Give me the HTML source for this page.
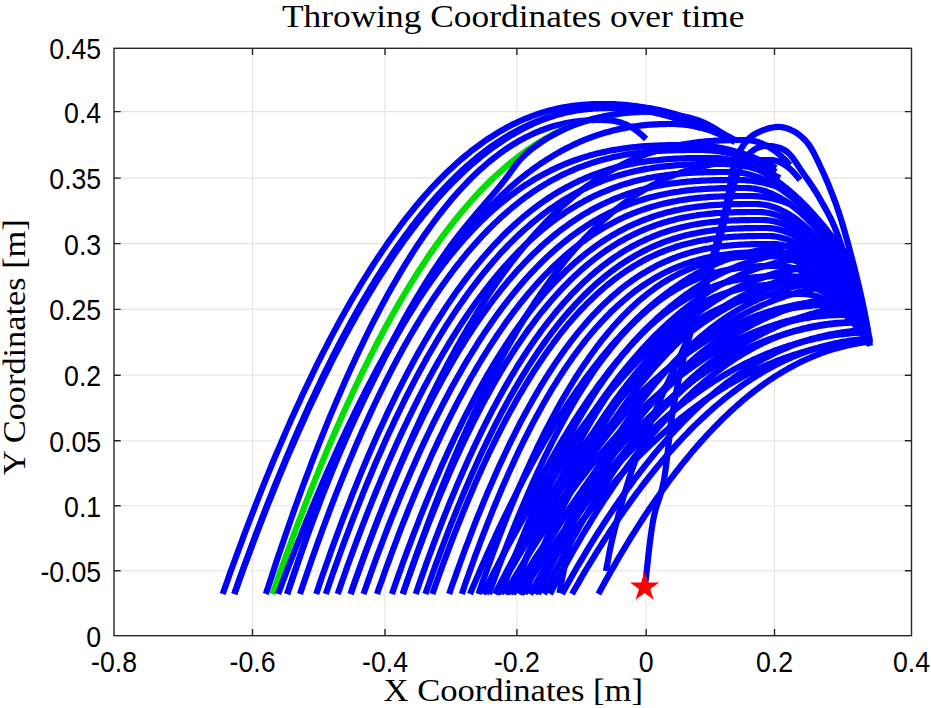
<!DOCTYPE html>
<html><head><meta charset="utf-8"><style>
html,body{margin:0;padding:0;background:#fff;}
svg{display:block;}
</style></head><body>
<svg width="931" height="708" viewBox="0 0 931 708">
<rect width="931" height="708" fill="#fff"/>
<g stroke="#e4e4e7" stroke-width="1.1" fill="none">
<line x1="252.5" y1="48.3" x2="252.5" y2="635.7"/>
<line x1="385.0" y1="48.3" x2="385.0" y2="635.7"/>
<line x1="516.9" y1="48.3" x2="516.9" y2="635.7"/>
<line x1="646.2" y1="48.3" x2="646.2" y2="635.7"/>
<line x1="774.5" y1="48.3" x2="774.5" y2="635.7"/>
<line x1="114.0" y1="111.6" x2="911.5" y2="111.6"/>
<line x1="114.0" y1="178.1" x2="911.5" y2="178.1"/>
<line x1="114.0" y1="243.6" x2="911.5" y2="243.6"/>
<line x1="114.0" y1="309.4" x2="911.5" y2="309.4"/>
<line x1="114.0" y1="375.3" x2="911.5" y2="375.3"/>
<line x1="114.0" y1="440.7" x2="911.5" y2="440.7"/>
<line x1="114.0" y1="505.7" x2="911.5" y2="505.7"/>
<line x1="114.0" y1="570.8" x2="911.5" y2="570.8"/>
</g>
<path d="M265.9 594.0 L268.0 587.5 L270.1 581.1 L272.2 574.7 L274.3 568.3 L276.3 562.0 L278.4 555.8 L280.5 549.6 L282.6 543.4 L284.7 537.3 L286.8 531.3 L288.9 525.3 L291.0 519.3 L293.0 513.4 L295.1 507.5 L297.2 501.7 L299.3 495.9 L301.4 490.2 L303.5 484.5 L305.6 478.9 L307.7 473.3 L309.8 467.8 L311.8 462.3 L313.9 456.9 L316.0 451.5 L318.1 446.2 L320.2 440.9 L322.3 435.6 L324.4 430.4 L326.5 425.3 L328.5 420.2 L330.6 415.1 L332.7 410.1 L334.8 405.2 L336.9 400.2 L339.0 395.4 L341.1 390.5 L343.2 385.8 L345.2 381.0 L347.3 376.4 L349.4 371.7 L351.5 367.1 L353.6 362.6 L355.7 358.1 L357.8 353.6 L359.9 349.2 L362.0 344.9 L364.0 340.5 L366.1 336.3 L368.2 332.0 L370.3 327.9 L372.4 323.7 L374.5 319.6 L376.6 315.6 L378.7 311.6 L380.7 307.6 L382.8 303.7 L384.9 299.9 L387.0 296.0 L389.1 292.3 L391.2 288.5 L393.3 284.9 L395.4 281.2 L397.5 277.6 L399.5 274.1 L401.6 270.6 L403.7 267.1 L405.8 263.7 L407.9 260.3 L410.0 257.0 L412.1 253.7 L414.2 250.4 L416.2 247.2 L418.3 244.1 L420.4 241.0 L422.5 237.9 L424.6 234.8 L426.7 231.9 L428.8 228.9 L430.9 226.0 L432.9 223.2 L435.0 220.3 L437.1 217.6 L439.2 214.8 L441.3 212.2 L443.4 209.5 L445.5 206.9 L447.6 204.3 L449.7 201.8 L451.7 199.3 L453.8 196.9 L455.9 194.5 L458.0 192.1 L460.1 189.8 L462.2 187.6 L464.3 185.3 L466.4 183.1 L468.4 181.0 L470.5 178.9 L472.6 176.8 L474.7 174.8 L476.8 172.8 L478.9 170.8 L481.0 168.9 L483.1 167.1 L485.2 165.2 L487.2 163.4 L489.3 161.7 L491.4 160.0 L493.5 158.3 L495.6 156.7 L497.7 155.1 L499.8 153.5 L501.9 152.0 L503.9 150.5 L506.0 149.1 L508.1 147.7 L510.2 146.3 L512.3 145.0 L514.4 143.7 L516.5 142.5 L518.6 141.2 L520.7 140.1 L522.7 138.9 L524.8 137.8 L526.9 136.7 L529.0 135.7 L531.1 134.7 L533.2 133.7 L535.3 132.8 L537.4 131.9 L539.4 131.1 L541.5 130.2 L543.6 129.5 L545.7 128.7 L547.8 128.0 L549.9 127.3 L552.0 126.6 L554.1 126.0 L556.1 125.4 L558.2 124.9 L560.3 124.4 L562.4 123.9 L564.5 123.4 L566.6 123.0 L568.7 122.6 L570.8 122.2 L572.9 121.9 L574.9 121.6 L577.0 121.3 L579.1 121.1 L581.2 120.8 L583.3 120.7 L585.4 120.5 L587.5 120.3 L589.6 120.2 L591.6 120.1 L593.7 120.1 L595.8 120.0 L597.9 120.0 L600.0 120.0 L601.5 120.0 L603.1 120.0 L604.6 120.1 L606.1 120.1 L607.7 120.2 L609.2 120.3 L610.7 120.5 L612.3 120.7 L613.8 120.9 L615.3 121.2 L616.9 121.5 L618.4 121.9 L619.9 122.3 L621.5 122.8 L623.0 123.4 L624.5 123.9 L626.1 124.6 L627.6 125.3 L629.1 126.1 L630.7 126.9 L632.2 127.8 L633.7 128.7 L635.3 129.8 L636.8 130.9 L638.3 132.0 L639.9 133.3 L641.4 134.6 L642.9 136.0 L644.5 137.5 L646.0 139.0" fill="none" stroke="#0000ff" stroke-width="6.2" stroke-linejoin="round"/>
<path d="M272.6 594.0 L275.0 587.2 L277.3 580.4 L279.7 573.6 L282.1 567.0 L284.5 560.3 L286.8 553.8 L289.2 547.3 L291.6 540.8 L293.9 534.4 L296.3 528.0 L298.7 521.7 L301.1 515.5 L303.4 509.3 L305.8 503.2 L308.2 497.1 L310.5 491.1 L312.9 485.1 L315.3 479.2 L317.7 473.3 L320.0 467.5 L322.4 461.7 L324.8 456.0 L327.1 450.4 L329.5 444.8 L331.9 439.2 L334.3 433.7 L336.6 428.3 L339.0 422.9 L341.4 417.5 L343.7 412.2 L346.1 407.0 L348.5 401.8 L350.9 396.7 L353.2 391.6 L355.6 386.5 L358.0 381.6 L360.3 376.6 L362.7 371.7 L365.1 366.9 L367.5 362.1 L369.8 357.4 L372.2 352.7 L374.6 348.1 L376.9 343.5 L379.3 339.0 L381.7 334.5 L384.0 330.1 L386.4 325.7 L388.8 321.4 L391.2 317.1 L393.5 312.9 L395.9 308.7 L398.3 304.6 L400.6 300.5 L403.0 296.5 L405.4 292.5 L407.8 288.6 L410.1 284.7 L412.5 280.9 L414.9 277.1 L417.2 273.3 L419.6 269.6 L422.0 266.0 L424.4 262.4 L426.7 258.8 L429.1 255.3 L431.5 251.9 L433.8 248.5 L436.2 245.1 L438.6 241.8 L441.0 238.6 L443.3 235.3 L445.7 232.2 L448.1 229.0 L450.4 226.0 L452.8 222.9 L455.2 219.9 L457.6 217.0 L459.9 214.1 L462.3 211.2 L464.7 208.4 L467.0 205.7 L469.4 203.0 L471.8 200.3 L474.2 197.7 L476.5 195.1 L478.9 192.5 L481.3 190.0 L483.6 187.6 L486.0 185.2 L488.4 182.8 L490.8 180.5 L493.1 178.2 L495.5 176.0 L497.9 173.8 L500.2 171.7 L502.6 169.6 L505.0 167.5 L507.4 165.5 L509.7 163.5 L512.1 161.6 L514.5 159.7 L516.8 157.8 L519.2 156.0 L521.6 154.2 L524.0 152.5 L526.3 150.8 L528.7 149.2 L531.1 147.6 L533.4 146.0 L535.8 144.5 L538.2 143.0 L540.6 141.5 L542.9 140.1 L545.3 138.7 L547.7 137.4 L550.0 136.1 L552.4 134.8 L554.8 133.6 L557.1 132.4 L559.5 131.3 L561.9 130.2 L564.3 129.1 L566.6 128.1 L569.0 127.1 L571.4 126.1 L573.7 125.2 L576.1 124.3 L578.5 123.4 L580.9 122.6 L583.2 121.8 L585.6 121.1 L588.0 120.3 L590.3 119.7 L592.7 119.0 L595.1 118.4 L597.5 117.8 L599.8 117.2 L602.2 116.7 L604.6 116.2 L606.9 115.7 L609.3 115.3 L611.7 114.9 L614.1 114.5 L616.4 114.2 L618.8 113.9 L621.2 113.6 L623.5 113.3 L625.9 113.1 L628.3 112.9 L630.7 112.7 L633.0 112.5 L635.4 112.4 L637.8 112.3 L640.1 112.2 L642.5 112.1 L644.9 112.1 L647.3 112.0 L649.6 112.0 L652.0 112.0" fill="none" stroke="#00e000" stroke-width="6.2" stroke-linejoin="round"/>
<path d="M222.7 594.0 L225.1 587.2 L227.5 580.5 L229.8 573.8 L232.2 567.2 L234.6 560.7 L237.0 554.1 L239.4 547.7 L241.8 541.3 L244.1 534.9 L246.5 528.6 L248.9 522.3 L251.3 516.1 L253.7 510.0 L256.1 503.9 L258.4 497.8 L260.8 491.8 L263.2 485.9 L265.6 479.9 L268.0 474.1 L270.4 468.3 L272.7 462.5 L275.1 456.8 L277.5 451.2 L279.9 445.6 L282.3 440.0 L284.7 434.5 L287.0 429.1 L289.4 423.7 L291.8 418.3 L294.2 413.0 L296.6 407.8 L299.0 402.6 L301.3 397.4 L303.7 392.3 L306.1 387.3 L308.5 382.3 L310.9 377.3 L313.3 372.4 L315.6 367.5 L318.0 362.7 L320.4 358.0 L322.8 353.2 L325.2 348.6 L327.6 344.0 L329.9 339.4 L332.3 334.9 L334.7 330.4 L337.1 326.0 L339.5 321.6 L341.9 317.3 L344.2 313.0 L346.6 308.8 L349.0 304.6 L351.4 300.4 L353.8 296.3 L356.2 292.3 L358.5 288.3 L360.9 284.4 L363.3 280.5 L365.7 276.6 L368.1 272.8 L370.5 269.0 L372.8 265.3 L375.2 261.6 L377.6 258.0 L380.0 254.5 L382.4 250.9 L384.8 247.4 L387.1 244.0 L389.5 240.6 L391.9 237.3 L394.3 234.0 L396.7 230.7 L399.1 227.5 L401.4 224.3 L403.8 221.2 L406.2 218.1 L408.6 215.1 L411.0 212.1 L413.4 209.2 L415.7 206.3 L418.1 203.4 L420.5 200.6 L422.9 197.9 L425.3 195.1 L427.6 192.5 L430.0 189.8 L432.4 187.2 L434.8 184.7 L437.2 182.2 L439.6 179.7 L441.9 177.3 L444.3 174.9 L446.7 172.6 L449.1 170.3 L451.5 168.1 L453.9 165.9 L456.2 163.7 L458.6 161.6 L461.0 159.5 L463.4 157.5 L465.8 155.5 L468.2 153.6 L470.5 151.6 L472.9 149.8 L475.3 148.0 L477.7 146.2 L480.1 144.4 L482.5 142.7 L484.8 141.0 L487.2 139.4 L489.6 137.8 L492.0 136.3 L494.4 134.8 L496.8 133.3 L499.1 131.9 L501.5 130.5 L503.9 129.2 L506.3 127.8 L508.7 126.6 L511.1 125.3 L513.4 124.1 L515.8 123.0 L518.2 121.9 L520.6 120.8 L523.0 119.7 L525.4 118.7 L527.7 117.8 L530.1 116.8 L532.5 115.9 L534.9 115.1 L537.3 114.2 L539.7 113.4 L542.0 112.7 L544.4 112.0 L546.8 111.3 L549.2 110.6 L551.6 110.0 L554.0 109.4 L556.3 108.8 L558.7 108.3 L561.1 107.8 L563.5 107.4 L565.9 107.0 L568.3 106.6 L570.6 106.2 L573.0 105.9 L575.4 105.6 L577.8 105.3 L580.2 105.0 L582.6 104.8 L584.9 104.6 L587.3 104.5 L589.7 104.3 L592.1 104.2 L594.5 104.1 L596.9 104.1 L599.2 104.0 L601.6 104.0 L604.0 104.0 L605.5 104.0 L607.0 104.0 L608.5 104.0 L610.0 104.1 L611.5 104.1 L613.0 104.2 L614.5 104.2 L616.0 104.3 L617.6 104.4 L619.1 104.5 L620.6 104.6 L622.1 104.7 L623.6 104.8 L625.1 104.9 L626.6 105.1 L628.1 105.2 L629.6 105.4 L631.1 105.5 L632.6 105.7 L634.1 105.9 L635.6 106.1 L637.1 106.3 L638.6 106.5 L640.1 106.7 L641.6 107.0 L643.1 107.2 L644.7 107.5 L646.2 107.7 L647.7 108.0 L649.2 108.3 L650.7 108.6 L652.2 108.9 L653.7 109.2 L655.2 109.5 L656.7 109.8 L658.2 110.2 L659.7 110.5 L661.2 110.9 L662.7 111.2 L664.2 111.6 L665.7 112.0 L667.2 112.4 L668.7 112.8 L670.3 113.2 L671.8 113.6 L673.3 114.1 L674.8 114.5 L676.3 115.0 L677.8 115.4 L679.3 115.9 L680.8 116.4 L682.3 116.9 L683.8 117.4 L685.3 117.9 L686.8 118.4 L688.3 118.9 L689.8 119.5 L691.3 120.0 L692.8 120.6 L694.3 121.1 L695.9 121.7 L697.4 122.3 L698.9 122.9 L700.4 123.5 L701.9 124.1 L703.4 124.7 L704.9 125.4 L706.4 126.0 L707.9 126.6 L709.4 127.3 L710.9 128.0 L712.4 128.7 L713.9 129.3 L715.4 130.0 L716.9 130.8 L718.4 131.5 L719.9 132.2 L721.4 132.9 L723.0 133.7 L724.5 134.4 L726.0 135.2 L727.5 136.0 L729.0 136.8 L730.5 137.6 L732.0 138.4 L733.5 139.2 L735.0 140.0" fill="none" stroke="#0000ff" stroke-width="6.2" stroke-linejoin="round"/>
<path d="M234.3 594.0 L236.7 587.3 L239.0 580.6 L241.4 574.0 L243.7 567.4 L246.1 560.9 L248.5 554.5 L250.8 548.1 L253.2 541.7 L255.5 535.4 L257.9 529.1 L260.3 522.9 L262.6 516.8 L265.0 510.7 L267.3 504.6 L269.7 498.6 L272.1 492.6 L274.4 486.7 L276.8 480.9 L279.2 475.1 L281.5 469.3 L283.9 463.6 L286.2 458.0 L288.6 452.4 L291.0 446.8 L293.3 441.3 L295.7 435.8 L298.0 430.4 L300.4 425.1 L302.8 419.8 L305.1 414.5 L307.5 409.3 L309.8 404.1 L312.2 399.0 L314.6 394.0 L316.9 389.0 L319.3 384.0 L321.6 379.1 L324.0 374.2 L326.4 369.4 L328.7 364.6 L331.1 359.9 L333.4 355.2 L335.8 350.6 L338.2 346.0 L340.5 341.5 L342.9 337.0 L345.2 332.6 L347.6 328.2 L350.0 323.8 L352.3 319.5 L354.7 315.3 L357.1 311.1 L359.4 306.9 L361.8 302.8 L364.1 298.8 L366.5 294.8 L368.9 290.8 L371.2 286.9 L373.6 283.0 L375.9 279.2 L378.3 275.4 L380.7 271.7 L383.0 268.0 L385.4 264.4 L387.7 260.8 L390.1 257.2 L392.5 253.7 L394.8 250.3 L397.2 246.9 L399.5 243.5 L401.9 240.2 L404.3 236.9 L406.6 233.7 L409.0 230.5 L411.3 227.3 L413.7 224.2 L416.1 221.2 L418.4 218.2 L420.8 215.2 L423.1 212.3 L425.5 209.4 L427.9 206.6 L430.2 203.8 L432.6 201.1 L435.0 198.4 L437.3 195.7 L439.7 193.1 L442.0 190.6 L444.4 188.0 L446.8 185.6 L449.1 183.1 L451.5 180.7 L453.8 178.4 L456.2 176.1 L458.6 173.8 L460.9 171.6 L463.3 169.4 L465.6 167.2 L468.0 165.1 L470.4 163.1 L472.7 161.1 L475.1 159.1 L477.4 157.2 L479.8 155.3 L482.2 153.4 L484.5 151.6 L486.9 149.8 L489.2 148.1 L491.6 146.4 L494.0 144.7 L496.3 143.1 L498.7 141.6 L501.1 140.0 L503.4 138.5 L505.8 137.1 L508.1 135.7 L510.5 134.3 L512.9 133.0 L515.2 131.7 L517.6 130.4 L519.9 129.2 L522.3 128.0 L524.7 126.8 L527.0 125.7 L529.4 124.6 L531.7 123.6 L534.1 122.6 L536.5 121.6 L538.8 120.7 L541.2 119.8 L543.5 119.0 L545.9 118.1 L548.3 117.4 L550.6 116.6 L553.0 115.9 L555.3 115.2 L557.7 114.6 L560.1 113.9 L562.4 113.4 L564.8 112.8 L567.1 112.3 L569.5 111.8 L571.9 111.4 L574.2 110.9 L576.6 110.5 L579.0 110.2 L581.3 109.8 L583.7 109.5 L586.0 109.3 L588.4 109.0 L590.8 108.8 L593.1 108.6 L595.5 108.5 L597.8 108.3 L600.2 108.2 L602.6 108.1 L604.9 108.1 L607.3 108.0 L609.6 108.0 L612.0 108.0 L613.5 108.0 L615.0 108.0 L616.6 108.1 L618.1 108.1 L619.6 108.1 L621.1 108.2 L622.6 108.3 L624.1 108.4 L625.7 108.5 L627.2 108.6 L628.7 108.7 L630.2 108.9 L631.7 109.0 L633.2 109.2 L634.8 109.3 L636.3 109.5 L637.8 109.7 L639.3 109.9 L640.8 110.1 L642.3 110.4 L643.9 110.6 L645.4 110.9 L646.9 111.1 L648.4 111.4 L649.9 111.7 L651.4 112.0 L653.0 112.3 L654.5 112.7 L656.0 113.0 L657.5 113.4 L659.0 113.7 L660.6 114.1 L662.1 114.5 L663.6 114.9 L665.1 115.3 L666.6 115.7 L668.1 116.1 L669.7 116.6 L671.2 117.0 L672.7 117.5 L674.2 118.0 L675.7 118.5 L677.2 119.0 L678.8 119.5 L680.3 120.0 L681.8 120.6 L683.3 121.1 L684.8 121.7 L686.3 122.3 L687.9 122.9 L689.4 123.5 L690.9 124.1 L692.4 124.7 L693.9 125.3 L695.4 126.0 L697.0 126.6 L698.5 127.3 L700.0 128.0" fill="none" stroke="#0000ff" stroke-width="6.2" stroke-linejoin="round"/>
<path d="M234.3 594.0 L236.7 587.3 L239.1 580.6 L241.5 573.9 L243.9 567.3 L246.4 560.8 L248.8 554.3 L251.2 547.9 L253.6 541.5 L256.0 535.1 L258.4 528.9 L260.8 522.6 L263.2 516.4 L265.6 510.3 L268.0 504.2 L270.5 498.2 L272.9 492.2 L275.3 486.3 L277.7 480.4 L280.1 474.6 L282.5 468.8 L284.9 463.1 L287.3 457.4 L289.7 451.8 L292.2 446.2 L294.6 440.7 L297.0 435.2 L299.4 429.8 L301.8 424.4 L304.2 419.1 L306.6 413.8 L309.0 408.5 L311.4 403.4 L313.9 398.2 L316.3 393.1 L318.7 388.1 L321.1 383.1 L323.5 378.2 L325.9 373.3 L328.3 368.5 L330.7 363.7 L333.1 358.9 L335.5 354.2 L338.0 349.6 L340.4 345.0 L342.8 340.4 L345.2 335.9 L347.6 331.5 L350.0 327.1 L352.4 322.7 L354.8 318.4 L357.2 314.1 L359.7 309.9 L362.1 305.8 L364.5 301.6 L366.9 297.6 L369.3 293.5 L371.7 289.6 L374.1 285.6 L376.5 281.7 L378.9 277.9 L381.3 274.1 L383.8 270.4 L386.2 266.7 L388.6 263.0 L391.0 259.4 L393.4 255.8 L395.8 252.3 L398.2 248.9 L400.6 245.4 L403.0 242.0 L405.5 238.7 L407.9 235.4 L410.3 232.2 L412.7 229.0 L415.1 225.8 L417.5 222.7 L419.9 219.7 L422.3 216.6 L424.7 213.7 L427.1 210.7 L429.6 207.9 L432.0 205.0 L434.4 202.2 L436.8 199.5 L439.2 196.8 L441.6 194.1 L444.0 191.5 L446.4 188.9 L448.8 186.4 L451.3 183.9 L453.7 181.4 L456.1 179.0 L458.5 176.7 L460.9 174.3 L463.3 172.1 L465.7 169.8 L468.1 167.6 L470.5 165.5 L473.0 163.4 L475.4 161.3 L477.8 159.3 L480.2 157.3 L482.6 155.4 L485.0 153.5 L487.4 151.6 L489.8 149.8 L492.2 148.0 L494.6 146.3 L497.1 144.6 L499.5 142.9 L501.9 141.3 L504.3 139.7 L506.7 138.2 L509.1 136.7 L511.5 135.2 L513.9 133.8 L516.3 132.4 L518.8 131.1 L521.2 129.7 L523.6 128.5 L526.0 127.3 L528.4 126.1 L530.8 124.9 L533.2 123.8 L535.6 122.7 L538.0 121.7 L540.4 120.7 L542.9 119.7 L545.3 118.8 L547.7 117.9 L550.1 117.0 L552.5 116.2 L554.9 115.4 L557.3 114.6 L559.7 113.9 L562.1 113.2 L564.6 112.6 L567.0 112.0 L569.4 111.4 L571.8 110.8 L574.2 110.3 L576.6 109.8 L579.0 109.4 L581.4 108.9 L583.8 108.5 L586.3 108.2 L588.7 107.9 L591.1 107.6 L593.5 107.3 L595.9 107.0 L598.3 106.8 L600.7 106.6 L603.1 106.5 L605.5 106.3 L607.9 106.2 L610.4 106.1 L612.8 106.1 L615.2 106.0 L617.6 106.0 L620.0 106.0 L621.5 106.0 L623.0 106.0 L624.5 106.1 L626.0 106.1 L627.5 106.2 L629.0 106.2 L630.5 106.3 L632.0 106.4 L633.5 106.5 L635.0 106.6 L636.5 106.7 L638.0 106.9 L639.5 107.0 L641.0 107.2 L642.5 107.4 L644.0 107.5 L645.5 107.7 L647.0 108.0 L648.5 108.2 L650.0 108.4 L651.5 108.7 L653.0 108.9 L654.5 109.2 L656.0 109.5 L657.5 109.8 L659.0 110.1 L660.5 110.4 L662.0 110.7 L663.5 111.1 L665.0 111.4 L666.5 111.8 L668.0 112.2 L669.5 112.6 L671.0 113.0 L672.5 113.4 L674.0 113.8 L675.5 114.2 L677.0 114.7 L678.5 115.2 L680.0 115.6 L681.5 116.1 L683.0 116.6 L684.5 117.1 L686.0 117.7 L687.5 118.2 L689.0 118.8 L690.5 119.3 L692.0 119.9 L693.5 120.5 L695.0 121.1 L696.5 121.7 L698.0 122.3 L699.5 122.9 L701.0 123.6 L702.5 124.2 L704.0 124.9 L705.5 125.6 L707.0 126.3 L708.5 127.0 L710.0 127.7 L711.5 128.4 L713.0 129.2 L714.5 129.9 L716.0 130.7 L717.5 131.5 L719.0 132.3 L720.5 133.1 L722.0 133.9 L723.5 134.7 L725.0 135.5 L726.5 136.4 L728.0 137.2 L729.5 138.1 L731.0 139.0" fill="none" stroke="#0000ff" stroke-width="6.2" stroke-linejoin="round"/>
<path d="M287.2 594.0 L289.6 587.0 L292.8 577.4 L296.7 566.1 L300.9 553.6 L305.4 540.5 L309.8 527.6 L314.1 515.6 L318.0 505.0 L321.5 495.7 L324.9 487.1 L328.2 478.9 L331.5 471.0 L334.7 463.3 L338.1 455.7 L341.5 448.0 L345.0 440.0 L348.7 431.9 L352.4 423.8 L356.2 415.7 L360.1 407.6 L364.0 399.4 L367.9 391.3 L372.0 383.2 L376.0 375.0 L380.1 366.8 L384.1 358.5 L388.2 350.3 L392.3 342.0 L396.5 333.7 L400.9 325.5 L405.3 317.2 L410.0 309.0 L414.8 300.8 L419.8 292.5 L424.9 284.2 L430.1 276.0 L435.5 267.8 L440.9 259.7 L446.4 251.8 L452.0 244.0 L457.9 236.2 L464.1 228.4 L470.5 220.6 L476.9 213.0 L483.3 205.6 L489.3 198.6 L495.0 192.0 L500.0 186.0 L504.3 180.6 L507.9 175.8 L511.1 171.4 L514.0 167.4 L516.8 163.7 L519.8 160.1 L523.1 156.6 L527.0 153.0 L531.4 149.4 L536.0 145.9 L540.9 142.5 L545.9 139.2 L551.1 136.1 L556.4 133.2 L561.7 130.5 L567.0 128.0 L572.3 125.7 L577.8 123.7 L583.3 121.8 L588.9 120.1 L594.5 118.6 L600.1 117.3 L605.6 116.1 L611.0 115.0 L616.2 114.1 L621.3 113.3 L626.3 112.6 L631.2 112.1 L636.2 111.8 L641.3 111.7 L646.6 111.7 L652.0 112.0 L657.8 112.5 L663.8 113.1 L670.1 114.0 L676.4 115.0 L682.6 116.2 L688.8 117.6 L694.6 119.2 L700.0 121.0 L705.2 123.2 L710.5 125.9 L715.6 128.9 L720.5 132.1 L725.0 135.1 L729.0 137.9 L732.4 140.3 L735.0 142.0" fill="none" stroke="#0000ff" stroke-width="6.2" stroke-linejoin="round"/>
<path d="M278.1 594.0 L280.6 587.4 L283.0 580.9 L285.5 574.4 L287.9 568.0 L290.4 561.6 L292.9 555.3 L295.3 549.0 L297.8 542.8 L300.3 536.6 L302.7 530.5 L305.2 524.4 L307.6 518.4 L310.1 512.4 L312.6 506.5 L315.0 500.6 L317.5 494.8 L320.0 489.0 L322.4 483.3 L324.9 477.6 L327.3 472.0 L329.8 466.5 L332.3 460.9 L334.7 455.5 L337.2 450.1 L339.6 444.7 L342.1 439.4 L344.6 434.1 L347.0 428.9 L349.5 423.7 L352.0 418.6 L354.4 413.5 L356.9 408.5 L359.3 403.5 L361.8 398.6 L364.3 393.7 L366.7 388.9 L369.2 384.1 L371.7 379.4 L374.1 374.7 L376.6 370.0 L379.0 365.4 L381.5 360.9 L384.0 356.4 L386.4 352.0 L388.9 347.6 L391.3 343.2 L393.8 338.9 L396.3 334.7 L398.7 330.4 L401.2 326.3 L403.7 322.2 L406.1 318.1 L408.6 314.1 L411.0 310.1 L413.5 306.2 L416.0 302.3 L418.4 298.5 L420.9 294.7 L423.4 290.9 L425.8 287.2 L428.3 283.6 L430.7 280.0 L433.2 276.4 L435.7 272.9 L438.1 269.4 L440.6 266.0 L443.0 262.6 L445.5 259.3 L448.0 256.0 L450.4 252.8 L452.9 249.6 L455.4 246.4 L457.8 243.3 L460.3 240.3 L462.7 237.2 L465.2 234.3 L467.7 231.3 L470.1 228.5 L472.6 225.6 L475.1 222.8 L477.5 220.0 L480.0 217.3 L482.4 214.7 L484.9 212.0 L487.4 209.5 L489.8 206.9 L492.3 204.4 L494.7 202.0 L497.2 199.5 L499.7 197.2 L502.1 194.8 L504.6 192.5 L507.1 190.3 L509.5 188.1 L512.0 185.9 L514.4 183.8 L516.9 181.7 L519.4 179.7 L521.8 177.7 L524.3 175.7 L526.7 173.8 L529.2 171.9 L531.7 170.1 L534.1 168.3 L536.6 166.5 L539.1 164.8 L541.5 163.1 L544.0 161.5 L546.4 159.9 L548.9 158.3 L551.4 156.8 L553.8 155.3 L556.3 153.9 L558.8 152.4 L561.2 151.1 L563.7 149.7 L566.1 148.4 L568.6 147.2 L571.1 146.0 L573.5 144.8 L576.0 143.6 L578.4 142.5 L580.9 141.4 L583.4 140.4 L585.8 139.4 L588.3 138.4 L590.8 137.5 L593.2 136.6 L595.7 135.7 L598.1 134.9 L600.6 134.1 L603.1 133.3 L605.5 132.6 L608.0 131.9 L610.5 131.2 L612.9 130.6 L615.4 130.0 L617.8 129.4 L620.3 128.9 L622.8 128.4 L625.2 127.9 L627.7 127.4 L630.1 127.0 L632.6 126.6 L635.1 126.3 L637.5 126.0 L640.0 125.7 L642.5 125.4 L644.9 125.1 L647.4 124.9 L649.8 124.7 L652.3 124.6 L654.8 124.4 L657.2 124.3 L659.7 124.2 L662.2 124.1 L664.6 124.1 L667.1 124.0 L669.5 124.0 L672.0 124.0 L673.5 124.0 L675.0 124.0 L676.5 124.1 L678.0 124.2 L679.5 124.3 L681.0 124.4 L682.5 124.5 L684.0 124.7 L685.5 124.8 L687.0 125.0 L688.5 125.2 L690.0 125.5 L691.5 125.7 L693.0 126.0 L694.5 126.3 L696.0 126.6 L697.5 126.9 L699.0 127.3 L700.5 127.7 L702.0 128.1 L703.5 128.5 L705.0 128.9 L706.5 129.4 L708.0 129.9 L709.5 130.4 L711.0 130.9 L712.5 131.4 L714.0 132.0 L715.5 132.6 L717.0 133.2 L718.5 133.8 L720.0 134.4 L721.5 135.1 L723.0 135.8 L724.5 136.5 L726.0 137.2 L727.5 138.0 L729.0 138.7 L730.5 139.5 L732.0 140.3 L733.5 141.2 L735.0 142.0" fill="none" stroke="#0000ff" stroke-width="6.2" stroke-linejoin="round"/>
<path d="M287.2 594.0 L289.7 586.5 L292.2 579.0 L294.8 571.6 L297.3 564.3 L299.8 557.1 L302.3 550.0 L304.8 542.9 L307.3 535.9 L309.9 529.0 L312.4 522.2 L314.9 515.4 L317.4 508.8 L319.9 502.2 L322.4 495.7 L325.0 489.2 L327.5 482.8 L330.0 476.5 L332.5 470.3 L335.0 464.2 L337.6 458.1 L340.1 452.1 L342.6 446.2 L345.1 440.3 L347.6 434.5 L350.1 428.8 L352.7 423.2 L355.2 417.6 L357.7 412.1 L360.2 406.7 L362.7 401.3 L365.2 396.0 L367.8 390.8 L370.3 385.7 L372.8 380.6 L375.3 375.6 L377.8 370.6 L380.3 365.7 L382.9 360.9 L385.4 356.2 L387.9 351.5 L390.4 346.9 L392.9 342.3 L395.5 337.9 L398.0 333.4 L400.5 329.1 L403.0 324.8 L405.5 320.6 L408.0 316.4 L410.6 312.3 L413.1 308.3 L415.6 304.3 L418.1 300.4 L420.6 296.5 L423.1 292.7 L425.7 289.0 L428.2 285.3 L430.7 281.7 L433.2 278.2 L435.7 274.7 L438.2 271.2 L440.8 267.8 L443.3 264.5 L445.8 261.3 L448.3 258.0 L450.8 254.9 L453.4 251.8 L455.9 248.8 L458.4 245.8 L460.9 242.8 L463.4 240.0 L465.9 237.1 L468.5 234.4 L471.0 231.7 L473.5 229.0 L476.0 226.4 L478.5 223.8 L481.0 221.3 L483.6 218.9 L486.1 216.5 L488.6 214.1 L491.1 211.8 L493.6 209.5 L496.2 207.3 L498.7 205.2 L501.2 203.0 L503.7 201.0 L506.2 199.0 L508.7 197.0 L511.3 195.1 L513.8 193.2 L516.3 191.3 L518.8 189.6 L521.3 187.8 L523.8 186.1 L526.4 184.4 L528.9 182.8 L531.4 181.3 L533.9 179.7 L536.4 178.2 L539.0 176.8 L541.5 175.4 L544.0 174.0 L546.5 172.7 L549.0 171.4 L551.5 170.1 L554.1 168.9 L556.6 167.7 L559.1 166.6 L561.6 165.5 L564.1 164.4 L566.6 163.4 L569.2 162.4 L571.7 161.4 L574.2 160.5 L576.7 159.6 L579.2 158.8 L581.7 157.9 L584.3 157.1 L586.8 156.4 L589.3 155.6 L591.8 154.9 L594.3 154.3 L596.9 153.6 L599.4 153.0 L601.9 152.4 L604.4 151.9 L606.9 151.3 L609.4 150.8 L612.0 150.3 L614.5 149.9 L617.0 149.5 L619.5 149.1 L622.0 148.7 L624.5 148.3 L627.1 148.0 L629.6 147.7 L632.1 147.4 L634.6 147.1 L637.1 146.9 L639.6 146.6 L642.2 146.4 L644.7 146.2 L647.2 146.1 L649.7 145.9 L652.2 145.8 L654.8 145.6 L657.3 145.5 L659.8 145.4 L662.3 145.3 L664.8 145.3 L667.3 145.2 L669.9 145.1 L672.4 145.1 L674.9 145.1 L677.4 145.0 L679.9 145.0 L682.4 145.0 L685.0 145.0 L687.5 145.0 L690.0 145.0 L691.5 145.0 L693.0 145.0 L694.5 145.1 L696.0 145.1 L697.5 145.2 L699.1 145.3 L700.6 145.3 L702.1 145.5 L703.6 145.6 L705.1 145.7 L706.6 145.9 L708.1 146.0 L709.6 146.2 L711.1 146.4 L712.6 146.6 L714.1 146.8 L715.6 147.0 L717.2 147.3 L718.7 147.6 L720.2 147.8 L721.7 148.1 L723.2 148.4 L724.7 148.7 L726.2 149.1 L727.7 149.4 L729.2 149.8 L730.7 150.2 L732.2 150.6 L733.8 151.0 L735.3 151.4 L736.8 151.8 L738.3 152.2 L739.8 152.7 L741.3 153.2 L742.8 153.7 L744.3 154.2 L745.8 154.7 L747.3 155.2 L748.8 155.8 L750.4 156.3 L751.9 156.9 L753.4 157.5 L754.9 158.1 L756.4 158.7 L757.9 159.3 L759.4 160.0 L760.9 160.6 L762.4 161.3 L763.9 162.0 L765.4 162.7 L766.9 163.4 L768.5 164.1 L770.0 164.9 L771.5 165.6 L773.0 166.4 L774.5 167.2 L776.0 168.0" fill="none" stroke="#0000ff" stroke-width="6.2" stroke-linejoin="round"/>
<path d="M300.0 594.0 L302.5 586.5 L305.0 579.2 L307.5 571.9 L310.0 564.7 L312.5 557.5 L315.0 550.5 L317.5 543.5 L320.0 536.6 L322.5 529.7 L325.0 523.0 L327.5 516.3 L330.0 509.7 L332.5 503.2 L335.0 496.7 L337.5 490.4 L340.0 484.1 L342.5 477.8 L345.0 471.7 L347.5 465.6 L350.0 459.6 L352.5 453.7 L355.0 447.8 L357.5 442.0 L360.0 436.3 L362.5 430.6 L365.0 425.1 L367.5 419.6 L370.0 414.1 L372.5 408.8 L375.0 403.5 L377.5 398.2 L380.0 393.1 L382.5 388.0 L385.0 382.9 L387.5 378.0 L390.0 373.1 L392.5 368.3 L395.0 363.5 L397.5 358.8 L400.0 354.2 L402.5 349.6 L405.0 345.1 L407.5 340.7 L410.0 336.3 L412.5 332.0 L415.0 327.8 L417.5 323.6 L420.0 319.5 L422.5 315.4 L425.0 311.4 L427.5 307.5 L430.0 303.6 L432.5 299.8 L435.0 296.1 L437.5 292.4 L440.0 288.8 L442.5 285.2 L445.0 281.7 L447.5 278.2 L450.0 274.8 L452.5 271.5 L455.0 268.2 L457.5 265.0 L460.0 261.8 L462.5 258.7 L465.0 255.6 L467.5 252.6 L470.0 249.7 L472.5 246.8 L475.0 243.9 L477.5 241.1 L480.0 238.4 L482.5 235.7 L485.0 233.1 L487.5 230.5 L490.0 227.9 L492.5 225.5 L495.0 223.0 L497.5 220.7 L500.0 218.3 L502.5 216.0 L505.0 213.8 L507.5 211.6 L510.0 209.5 L512.5 207.4 L515.0 205.4 L517.5 203.4 L520.0 201.4 L522.5 199.5 L525.0 197.6 L527.5 195.8 L530.0 194.1 L532.5 192.3 L535.0 190.6 L537.5 189.0 L540.0 187.4 L542.5 185.8 L545.0 184.3 L547.5 182.9 L550.0 181.4 L552.5 180.0 L555.0 178.7 L557.5 177.4 L560.0 176.1 L562.5 174.8 L565.0 173.6 L567.5 172.5 L570.0 171.4 L572.5 170.3 L575.0 169.2 L577.5 168.2 L580.0 167.2 L582.5 166.3 L585.0 165.3 L587.5 164.5 L590.0 163.6 L592.5 162.8 L595.0 162.0 L597.5 161.2 L600.0 160.5 L602.5 159.8 L605.0 159.2 L607.5 158.5 L610.0 157.9 L612.5 157.3 L615.0 156.8 L617.5 156.3 L620.0 155.8 L622.5 155.3 L625.0 154.8 L627.5 154.4 L630.0 154.0 L632.5 153.6 L635.0 153.3 L637.5 153.0 L640.0 152.6 L642.5 152.4 L645.0 152.1 L647.5 151.8 L650.0 151.6 L652.5 151.4 L655.0 151.2 L657.5 151.0 L660.0 150.9 L662.5 150.7 L665.0 150.6 L667.5 150.5 L670.0 150.4 L672.5 150.3 L675.0 150.2 L677.5 150.2 L680.0 150.1 L682.5 150.1 L685.0 150.1 L687.5 150.0 L690.0 150.0 L692.5 150.0 L695.0 150.0 L697.5 150.0 L700.0 150.0 L701.5 150.0 L703.0 150.0 L704.6 150.1 L706.1 150.1 L707.6 150.2 L709.1 150.3 L710.6 150.4 L712.2 150.6 L713.7 150.7 L715.2 150.9 L716.7 151.1 L718.2 151.3 L719.8 151.5 L721.3 151.7 L722.8 152.0 L724.3 152.3 L725.8 152.5 L727.4 152.9 L728.9 153.2 L730.4 153.5 L731.9 153.9 L733.4 154.3 L735.0 154.7 L736.5 155.1 L738.0 155.5 L739.5 155.9 L741.0 156.4 L742.6 156.9 L744.1 157.4 L745.6 157.9 L747.1 158.5 L748.6 159.0 L750.2 159.6 L751.7 160.2 L753.2 160.8 L754.7 161.4 L756.2 162.0 L757.8 162.7 L759.3 163.4 L760.8 164.1 L762.3 164.8 L763.8 165.5 L765.4 166.3 L766.9 167.0 L768.4 167.8 L769.9 168.6 L771.4 169.4 L773.0 170.3 L774.5 171.1 L776.0 172.0" fill="none" stroke="#0000ff" stroke-width="6.2" stroke-linejoin="round"/>
<path d="M316.2 594.0 L318.7 586.7 L321.1 579.4 L323.6 572.3 L326.1 565.2 L328.6 558.2 L331.0 551.2 L333.5 544.4 L336.0 537.6 L338.5 530.9 L340.9 524.3 L343.4 517.7 L345.9 511.2 L348.4 504.8 L350.8 498.5 L353.3 492.2 L355.8 486.1 L358.3 479.9 L360.7 473.9 L363.2 467.9 L365.7 462.0 L368.1 456.2 L370.6 450.4 L373.1 444.8 L375.6 439.1 L378.0 433.6 L380.5 428.1 L383.0 422.7 L385.5 417.4 L387.9 412.1 L390.4 406.9 L392.9 401.8 L395.4 396.7 L397.8 391.7 L400.3 386.8 L402.8 381.9 L405.3 377.1 L407.7 372.3 L410.2 367.7 L412.7 363.1 L415.1 358.5 L417.6 354.0 L420.1 349.6 L422.6 345.3 L425.0 341.0 L427.5 336.8 L430.0 332.6 L432.5 328.5 L434.9 324.4 L437.4 320.5 L439.9 316.5 L442.4 312.7 L444.8 308.9 L447.3 305.1 L449.8 301.4 L452.3 297.8 L454.7 294.3 L457.2 290.7 L459.7 287.3 L462.2 283.9 L464.6 280.6 L467.1 277.3 L469.6 274.1 L472.0 270.9 L474.5 267.8 L477.0 264.7 L479.5 261.7 L481.9 258.8 L484.4 255.9 L486.9 253.0 L489.4 250.2 L491.8 247.5 L494.3 244.8 L496.8 242.2 L499.3 239.6 L501.7 237.0 L504.2 234.5 L506.7 232.1 L509.2 229.7 L511.6 227.4 L514.1 225.1 L516.6 222.9 L519.0 220.7 L521.5 218.5 L524.0 216.4 L526.5 214.4 L528.9 212.4 L531.4 210.4 L533.9 208.5 L536.4 206.6 L538.8 204.8 L541.3 203.0 L543.8 201.3 L546.3 199.6 L548.7 197.9 L551.2 196.3 L553.7 194.7 L556.2 193.2 L558.6 191.7 L561.1 190.3 L563.6 188.9 L566.0 187.5 L568.5 186.2 L571.0 184.9 L573.5 183.6 L575.9 182.4 L578.4 181.2 L580.9 180.1 L583.4 179.0 L585.8 177.9 L588.3 176.9 L590.8 175.9 L593.3 174.9 L595.7 174.0 L598.2 173.1 L600.7 172.2 L603.2 171.4 L605.6 170.6 L608.1 169.8 L610.6 169.0 L613.0 168.3 L615.5 167.6 L618.0 167.0 L620.5 166.4 L622.9 165.8 L625.4 165.2 L627.9 164.7 L630.4 164.1 L632.8 163.7 L635.3 163.2 L637.8 162.7 L640.3 162.3 L642.7 161.9 L645.2 161.6 L647.7 161.2 L650.2 160.9 L652.6 160.6 L655.1 160.3 L657.6 160.1 L660.1 159.8 L662.5 159.6 L665.0 159.4 L667.5 159.2 L669.9 159.0 L672.4 158.9 L674.9 158.7 L677.4 158.6 L679.8 158.5 L682.3 158.4 L684.8 158.3 L687.3 158.2 L689.7 158.2 L692.2 158.1 L694.7 158.1 L697.2 158.1 L699.6 158.0 L702.1 158.0 L704.6 158.0 L707.1 158.0 L709.5 158.0 L712.0 158.0 L713.5 158.0 L715.0 158.0 L716.5 158.1 L718.0 158.2 L719.5 158.3 L721.0 158.4 L722.5 158.6 L724.0 158.8 L725.5 159.0 L727.0 159.2 L728.5 159.5 L730.0 159.8 L731.5 160.1 L733.0 160.4 L734.5 160.8 L736.0 161.1 L737.5 161.6 L739.0 162.0 L740.5 162.4 L742.0 162.9 L743.5 163.4 L745.0 163.9 L746.5 164.5 L748.0 165.1 L749.5 165.7 L751.0 166.3 L752.5 167.0 L754.0 167.6 L755.5 168.3 L757.0 169.1 L758.5 169.8 L760.0 170.6 L761.5 171.4 L763.0 172.2 L764.5 173.1 L766.0 173.9 L767.5 174.8 L769.0 175.7 L770.5 176.7 L772.0 177.7 L773.5 178.7 L775.0 179.7 L776.5 180.7 L778.0 181.8 L779.5 182.9 L781.0 184.0 L782.5 185.1 L784.0 186.3 L785.5 187.5 L787.0 188.7 L788.5 190.0 L790.0 191.2 L791.5 192.5 L793.0 193.8 L794.5 195.2 L796.0 196.5 L797.5 197.9 L799.0 199.3 L800.5 200.8 L802.0 202.2 L803.5 203.7 L805.0 205.2 L806.5 206.8 L808.0 208.3 L809.5 209.9 L811.0 211.5 L812.5 213.2 L814.0 214.8 L815.5 216.5 L817.0 218.2 L818.5 219.9 L820.0 221.7 L821.5 223.5 L823.0 225.3 L824.5 227.1 L826.0 229.0 L827.5 230.9 L829.0 232.8 L830.5 234.7 L832.0 236.6 L833.5 238.6 L835.0 240.6 L836.5 242.6 L838.0 244.7 L839.5 246.8 L841.0 248.9 L842.5 251.0 L844.0 253.2 L845.5 255.3 L847.0 257.5 L848.5 259.8 L850.0 262.0" fill="none" stroke="#0000ff" stroke-width="6.2" stroke-linejoin="round"/>
<path d="M325.8 594.0 L328.3 586.8 L330.8 579.6 L333.2 572.6 L335.7 565.6 L338.2 558.7 L340.7 551.8 L343.1 545.1 L345.6 538.4 L348.1 531.8 L350.6 525.2 L353.0 518.8 L355.5 512.4 L358.0 506.1 L360.5 499.8 L362.9 493.6 L365.4 487.5 L367.9 481.5 L370.4 475.5 L372.8 469.7 L375.3 463.8 L377.8 458.1 L380.3 452.4 L382.8 446.8 L385.2 441.3 L387.7 435.8 L390.2 430.4 L392.7 425.1 L395.1 419.8 L397.6 414.6 L400.1 409.5 L402.6 404.4 L405.0 399.4 L407.5 394.5 L410.0 389.6 L412.5 384.8 L414.9 380.1 L417.4 375.4 L419.9 370.8 L422.4 366.2 L424.9 361.8 L427.3 357.3 L429.8 353.0 L432.3 348.7 L434.8 344.5 L437.2 340.3 L439.7 336.2 L442.2 332.1 L444.7 328.1 L447.1 324.2 L449.6 320.4 L452.1 316.5 L454.6 312.8 L457.0 309.1 L459.5 305.5 L462.0 301.9 L464.5 298.4 L466.9 294.9 L469.4 291.5 L471.9 288.2 L474.4 284.9 L476.9 281.6 L479.3 278.5 L481.8 275.3 L484.3 272.3 L486.8 269.2 L489.2 266.3 L491.7 263.4 L494.2 260.5 L496.7 257.7 L499.1 254.9 L501.6 252.2 L504.1 249.6 L506.6 247.0 L509.0 244.4 L511.5 241.9 L514.0 239.5 L516.5 237.1 L518.9 234.7 L521.4 232.4 L523.9 230.2 L526.4 228.0 L528.9 225.8 L531.3 223.7 L533.8 221.6 L536.3 219.6 L538.8 217.6 L541.2 215.7 L543.7 213.8 L546.2 211.9 L548.7 210.1 L551.1 208.4 L553.6 206.7 L556.1 205.0 L558.6 203.4 L561.0 201.8 L563.5 200.2 L566.0 198.7 L568.5 197.3 L570.9 195.8 L573.4 194.4 L575.9 193.1 L578.4 191.8 L580.9 190.5 L583.3 189.3 L585.8 188.1 L588.3 186.9 L590.8 185.8 L593.2 184.7 L595.7 183.6 L598.2 182.6 L600.7 181.6 L603.1 180.7 L605.6 179.7 L608.1 178.9 L610.6 178.0 L613.0 177.2 L615.5 176.4 L618.0 175.6 L620.5 174.9 L623.0 174.2 L625.4 173.5 L627.9 172.9 L630.4 172.3 L632.9 171.7 L635.3 171.1 L637.8 170.6 L640.3 170.1 L642.8 169.6 L645.2 169.1 L647.7 168.7 L650.2 168.3 L652.7 167.9 L655.1 167.5 L657.6 167.2 L660.1 166.9 L662.6 166.6 L665.0 166.3 L667.5 166.0 L670.0 165.8 L672.5 165.6 L675.0 165.4 L677.4 165.2 L679.9 165.0 L682.4 164.9 L684.9 164.7 L687.3 164.6 L689.8 164.5 L692.3 164.4 L694.8 164.3 L697.2 164.2 L699.7 164.2 L702.2 164.1 L704.7 164.1 L707.1 164.1 L709.6 164.0 L712.1 164.0 L714.6 164.0 L717.0 164.0 L719.5 164.0 L722.0 164.0 L723.5 164.0 L725.1 164.0 L726.6 164.1 L728.1 164.2 L729.6 164.2 L731.2 164.3 L732.7 164.5 L734.2 164.6 L735.7 164.8 L737.3 165.0 L738.8 165.2 L740.3 165.4 L741.8 165.6 L743.4 165.9 L744.9 166.2 L746.4 166.5 L747.9 166.8 L749.5 167.1 L751.0 167.5 L752.5 167.9 L754.1 168.3 L755.6 168.7 L757.1 169.1 L758.6 169.6 L760.2 170.1 L761.7 170.6 L763.2 171.1 L764.7 171.6 L766.3 172.2 L767.8 172.7 L769.3 173.3 L770.8 173.9 L772.4 174.6 L773.9 175.2 L775.4 175.9 L776.9 176.6 L778.5 177.3 L780.0 178.0" fill="none" stroke="#0000ff" stroke-width="6.2" stroke-linejoin="round"/>
<path d="M337.7 594.0 L340.2 586.9 L342.6 579.9 L345.1 573.0 L347.5 566.1 L350.0 559.3 L352.4 552.6 L354.9 546.0 L357.3 539.4 L359.8 532.9 L362.2 526.5 L364.7 520.2 L367.1 513.9 L369.6 507.7 L372.0 501.6 L374.5 495.5 L376.9 489.5 L379.4 483.6 L381.8 477.8 L384.3 472.0 L386.7 466.3 L389.2 460.6 L391.6 455.0 L394.1 449.5 L396.5 444.1 L399.0 438.7 L401.4 433.4 L403.9 428.2 L406.4 423.0 L408.8 417.9 L411.3 412.9 L413.7 407.9 L416.2 403.0 L418.6 398.2 L421.1 393.4 L423.5 388.7 L426.0 384.0 L428.4 379.5 L430.9 374.9 L433.3 370.5 L435.8 366.1 L438.2 361.7 L440.7 357.5 L443.1 353.3 L445.6 349.1 L448.0 345.0 L450.5 341.0 L452.9 337.0 L455.4 333.1 L457.8 329.2 L460.3 325.4 L462.7 321.7 L465.2 318.0 L467.6 314.4 L470.1 310.8 L472.6 307.3 L475.0 303.9 L477.5 300.5 L479.9 297.1 L482.4 293.9 L484.8 290.6 L487.3 287.5 L489.7 284.3 L492.2 281.3 L494.6 278.2 L497.1 275.3 L499.5 272.4 L502.0 269.5 L504.4 266.7 L506.9 264.0 L509.3 261.3 L511.8 258.6 L514.2 256.0 L516.7 253.4 L519.1 250.9 L521.6 248.5 L524.0 246.1 L526.5 243.7 L528.9 241.4 L531.4 239.2 L533.9 236.9 L536.3 234.8 L538.8 232.7 L541.2 230.6 L543.7 228.5 L546.1 226.6 L548.6 224.6 L551.0 222.7 L553.5 220.9 L555.9 219.1 L558.4 217.3 L560.8 215.6 L563.3 213.9 L565.7 212.2 L568.2 210.6 L570.6 209.1 L573.1 207.6 L575.5 206.1 L578.0 204.6 L580.4 203.2 L582.9 201.9 L585.3 200.5 L587.8 199.3 L590.2 198.0 L592.7 196.8 L595.1 195.6 L597.6 194.5 L600.1 193.4 L602.5 192.3 L605.0 191.3 L607.4 190.3 L609.9 189.3 L612.3 188.4 L614.8 187.4 L617.2 186.6 L619.7 185.7 L622.1 184.9 L624.6 184.1 L627.0 183.4 L629.5 182.7 L631.9 182.0 L634.4 181.3 L636.8 180.7 L639.3 180.1 L641.7 179.5 L644.2 179.0 L646.6 178.4 L649.1 177.9 L651.5 177.5 L654.0 177.0 L656.4 176.6 L658.9 176.2 L661.3 175.8 L663.8 175.5 L666.3 175.1 L668.7 174.8 L671.2 174.5 L673.6 174.2 L676.1 174.0 L678.5 173.8 L681.0 173.5 L683.4 173.3 L685.9 173.2 L688.3 173.0 L690.8 172.8 L693.2 172.7 L695.7 172.6 L698.1 172.5 L700.6 172.4 L703.0 172.3 L705.5 172.2 L707.9 172.2 L710.4 172.1 L712.8 172.1 L715.3 172.1 L717.7 172.0 L720.2 172.0 L722.6 172.0 L725.1 172.0 L727.5 172.0 L730.0 172.0 L731.5 172.0 L733.0 172.1 L734.5 172.1 L736.0 172.2 L737.5 172.4 L739.0 172.5 L740.5 172.7 L742.0 173.0 L743.6 173.2 L745.1 173.5 L746.6 173.8 L748.1 174.2 L749.6 174.6 L751.1 175.0 L752.6 175.4 L754.1 175.9 L755.6 176.4 L757.1 176.9 L758.6 177.4 L760.1 178.0 L761.6 178.7 L763.1 179.3 L764.6 180.0 L766.1 180.7 L767.7 181.4 L769.2 182.2 L770.7 183.0 L772.2 183.8 L773.7 184.7 L775.2 185.6 L776.7 186.5 L778.2 187.5 L779.7 188.4 L781.2 189.5 L782.7 190.5 L784.2 191.6 L785.7 192.7 L787.2 193.8 L788.7 195.0 L790.2 196.2 L791.7 197.4 L793.3 198.6 L794.8 199.9 L796.3 201.2 L797.8 202.6 L799.3 203.9 L800.8 205.3 L802.3 206.8 L803.8 208.2 L805.3 209.7 L806.8 211.3 L808.3 212.8 L809.8 214.4 L811.3 216.0 L812.8 217.7 L814.3 219.3 L815.8 221.0 L817.3 222.8 L818.9 224.6 L820.4 226.3 L821.9 228.2 L823.4 230.0 L824.9 231.9 L826.4 233.8 L827.9 235.8 L829.4 237.8 L830.9 239.8 L832.4 241.8 L833.9 243.9 L835.4 246.0 L836.9 248.1 L838.4 250.3 L839.9 252.4 L841.4 254.7 L843.0 256.9 L844.5 259.2 L846.0 261.5 L847.5 263.8 L849.0 266.2 L850.5 268.6 L852.0 271.0 L853.5 273.5 L855.0 276.0" fill="none" stroke="#0000ff" stroke-width="6.2" stroke-linejoin="round"/>
<path d="M350.6 594.0 L353.0 587.1 L355.4 580.2 L357.9 573.4 L360.3 566.6 L362.7 560.0 L365.1 553.4 L367.5 546.9 L370.0 540.5 L372.4 534.1 L374.8 527.8 L377.2 521.6 L379.7 515.4 L382.1 509.3 L384.5 503.3 L386.9 497.4 L389.3 491.5 L391.8 485.7 L394.2 480.0 L396.6 474.3 L399.0 468.7 L401.4 463.1 L403.9 457.7 L406.3 452.3 L408.7 447.0 L411.1 441.7 L413.6 436.5 L416.0 431.3 L418.4 426.3 L420.8 421.3 L423.2 416.3 L425.7 411.5 L428.1 406.6 L430.5 401.9 L432.9 397.2 L435.3 392.6 L437.8 388.0 L440.2 383.5 L442.6 379.1 L445.0 374.7 L447.5 370.4 L449.9 366.1 L452.3 362.0 L454.7 357.8 L457.1 353.7 L459.6 349.7 L462.0 345.8 L464.4 341.9 L466.8 338.0 L469.2 334.3 L471.7 330.5 L474.1 326.9 L476.5 323.3 L478.9 319.7 L481.3 316.2 L483.8 312.8 L486.2 309.4 L488.6 306.0 L491.0 302.8 L493.5 299.5 L495.9 296.4 L498.3 293.3 L500.7 290.2 L503.1 287.2 L505.6 284.2 L508.0 281.3 L510.4 278.5 L512.8 275.7 L515.2 272.9 L517.7 270.2 L520.1 267.6 L522.5 265.0 L524.9 262.4 L527.4 259.9 L529.8 257.5 L532.2 255.0 L534.6 252.7 L537.0 250.4 L539.5 248.1 L541.9 245.9 L544.3 243.7 L546.7 241.6 L549.1 239.5 L551.6 237.5 L554.0 235.5 L556.4 233.5 L558.8 231.6 L561.2 229.8 L563.7 227.9 L566.1 226.2 L568.5 224.4 L570.9 222.7 L573.4 221.1 L575.8 219.5 L578.2 217.9 L580.6 216.4 L583.0 214.9 L585.5 213.4 L587.9 212.0 L590.3 210.6 L592.7 209.3 L595.1 208.0 L597.6 206.7 L600.0 205.5 L602.4 204.3 L604.8 203.2 L607.3 202.0 L609.7 201.0 L612.1 199.9 L614.5 198.9 L616.9 197.9 L619.4 197.0 L621.8 196.0 L624.2 195.2 L626.6 194.3 L629.0 193.5 L631.5 192.7 L633.9 191.9 L636.3 191.2 L638.7 190.5 L641.1 189.8 L643.6 189.2 L646.0 188.5 L648.4 187.9 L650.8 187.4 L653.3 186.8 L655.7 186.3 L658.1 185.8 L660.5 185.4 L662.9 184.9 L665.4 184.5 L667.8 184.1 L670.2 183.7 L672.6 183.4 L675.0 183.1 L677.5 182.8 L679.9 182.5 L682.3 182.2 L684.7 182.0 L687.2 181.7 L689.6 181.5 L692.0 181.3 L694.4 181.1 L696.8 181.0 L699.3 180.8 L701.7 180.7 L704.1 180.6 L706.5 180.5 L708.9 180.4 L711.4 180.3 L713.8 180.2 L716.2 180.2 L718.6 180.1 L721.1 180.1 L723.5 180.1 L725.9 180.0 L728.3 180.0 L730.7 180.0 L733.2 180.0 L735.6 180.0 L738.0 180.0 L739.5 180.0 L741.0 180.0 L742.5 180.1 L744.0 180.2 L745.5 180.2 L747.0 180.4 L748.5 180.5 L750.0 180.6 L751.5 180.8 L753.0 181.0 L754.5 181.2 L756.0 181.4 L757.5 181.7 L759.0 181.9 L760.5 182.2 L762.0 182.5 L763.5 182.8 L765.0 183.2 L766.5 183.5 L768.0 183.9 L769.5 184.3 L771.0 184.7 L772.5 185.2 L774.0 185.6 L775.5 186.1 L777.0 186.6 L778.5 187.1 L780.0 187.7 L781.5 188.2 L783.0 188.8 L784.5 189.4 L786.0 190.0" fill="none" stroke="#0000ff" stroke-width="6.2" stroke-linejoin="round"/>
<path d="M363.5 594.0 L365.9 587.2 L368.3 580.4 L370.7 573.8 L373.0 567.2 L375.4 560.6 L377.8 554.2 L380.2 547.8 L382.6 541.5 L385.0 535.2 L387.3 529.1 L389.7 523.0 L392.1 516.9 L394.5 511.0 L396.9 505.1 L399.3 499.2 L401.6 493.5 L404.0 487.8 L406.4 482.2 L408.8 476.6 L411.2 471.1 L413.6 465.7 L416.0 460.3 L418.3 455.0 L420.7 449.8 L423.1 444.6 L425.5 439.5 L427.9 434.5 L430.3 429.5 L432.6 424.6 L435.0 419.8 L437.4 415.0 L439.8 410.3 L442.2 405.6 L444.6 401.0 L447.0 396.5 L449.3 392.0 L451.7 387.6 L454.1 383.2 L456.5 379.0 L458.9 374.7 L461.3 370.5 L463.6 366.4 L466.0 362.4 L468.4 358.4 L470.8 354.5 L473.2 350.6 L475.6 346.8 L477.9 343.0 L480.3 339.3 L482.7 335.6 L485.1 332.0 L487.5 328.5 L489.9 325.0 L492.3 321.6 L494.6 318.2 L497.0 314.9 L499.4 311.6 L501.8 308.4 L504.2 305.2 L506.6 302.1 L508.9 299.1 L511.3 296.1 L513.7 293.1 L516.1 290.2 L518.5 287.4 L520.9 284.6 L523.3 281.8 L525.6 279.1 L528.0 276.5 L530.4 273.9 L532.8 271.3 L535.2 268.8 L537.6 266.4 L539.9 264.0 L542.3 261.6 L544.7 259.3 L547.1 257.0 L549.5 254.8 L551.9 252.6 L554.2 250.5 L556.6 248.4 L559.0 246.4 L561.4 244.4 L563.8 242.4 L566.2 240.5 L568.6 238.6 L570.9 236.8 L573.3 235.0 L575.7 233.3 L578.1 231.6 L580.5 229.9 L582.9 228.3 L585.2 226.7 L587.6 225.2 L590.0 223.7 L592.4 222.2 L594.8 220.8 L597.2 219.4 L599.6 218.0 L601.9 216.7 L604.3 215.5 L606.7 214.2 L609.1 213.0 L611.5 211.9 L613.9 210.7 L616.2 209.6 L618.6 208.6 L621.0 207.5 L623.4 206.5 L625.8 205.6 L628.2 204.6 L630.5 203.7 L632.9 202.9 L635.3 202.0 L637.7 201.2 L640.1 200.4 L642.5 199.7 L644.9 199.0 L647.2 198.3 L649.6 197.6 L652.0 197.0 L654.4 196.4 L656.8 195.8 L659.2 195.2 L661.5 194.7 L663.9 194.2 L666.3 193.7 L668.7 193.3 L671.1 192.8 L673.5 192.4 L675.9 192.0 L678.2 191.7 L680.6 191.3 L683.0 191.0 L685.4 190.7 L687.8 190.4 L690.2 190.2 L692.5 189.9 L694.9 189.7 L697.3 189.5 L699.7 189.3 L702.1 189.1 L704.5 189.0 L706.9 188.8 L709.2 188.7 L711.6 188.6 L714.0 188.5 L716.4 188.4 L718.8 188.3 L721.2 188.2 L723.5 188.2 L725.9 188.1 L728.3 188.1 L730.7 188.1 L733.1 188.0 L735.5 188.0 L737.8 188.0 L740.2 188.0 L742.6 188.0 L745.0 188.0 L746.5 188.0 L748.0 188.1 L749.5 188.2 L751.0 188.3 L752.5 188.5 L754.0 188.6 L755.5 188.9 L757.0 189.2 L758.5 189.5 L760.0 189.8 L761.5 190.2 L763.0 190.6 L764.5 191.0 L766.0 191.5 L767.5 192.1 L769.0 192.6 L770.5 193.2 L772.0 193.8 L773.5 194.5 L775.0 195.2 L776.5 195.9 L778.0 196.7 L779.5 197.5 L781.0 198.4 L782.5 199.3 L784.0 200.2 L785.5 201.1 L787.0 202.1 L788.5 203.1 L790.0 204.2 L791.5 205.3 L793.0 206.4 L794.5 207.6 L796.0 208.8 L797.5 210.1 L799.0 211.3 L800.5 212.6 L802.0 214.0 L803.5 215.4 L805.0 216.8 L806.5 218.3 L808.0 219.8 L809.5 221.3 L811.0 222.9 L812.5 224.5 L814.0 226.1 L815.5 227.8 L817.0 229.5 L818.5 231.2 L820.0 233.0 L821.5 234.8 L823.0 236.7 L824.5 238.6 L826.0 240.5 L827.5 242.5 L829.0 244.5 L830.5 246.5 L832.0 248.6 L833.5 250.7 L835.0 252.8 L836.5 255.0 L838.0 257.2 L839.5 259.5 L841.0 261.8 L842.5 264.1 L844.0 266.4 L845.5 268.8 L847.0 271.3 L848.5 273.7 L850.0 276.2 L851.5 278.8 L853.0 281.3 L854.5 284.0 L856.0 286.6 L857.5 289.3 L859.0 292.0" fill="none" stroke="#0000ff" stroke-width="6.2" stroke-linejoin="round"/>
<path d="M377.0 594.0 L379.3 587.3 L381.7 580.7 L384.0 574.2 L386.3 567.7 L388.7 561.3 L391.0 555.0 L393.3 548.7 L395.7 542.5 L398.0 536.4 L400.3 530.4 L402.6 524.4 L405.0 518.5 L407.3 512.6 L409.6 506.8 L412.0 501.1 L414.3 495.5 L416.6 489.9 L419.0 484.4 L421.3 478.9 L423.6 473.5 L426.0 468.2 L428.3 463.0 L430.6 457.8 L432.9 452.6 L435.3 447.6 L437.6 442.6 L439.9 437.6 L442.3 432.8 L444.6 427.9 L446.9 423.2 L449.3 418.5 L451.6 413.9 L453.9 409.3 L456.3 404.8 L458.6 400.4 L460.9 396.0 L463.3 391.7 L465.6 387.4 L467.9 383.2 L470.2 379.0 L472.6 375.0 L474.9 370.9 L477.2 366.9 L479.6 363.0 L481.9 359.2 L484.2 355.4 L486.6 351.6 L488.9 347.9 L491.2 344.3 L493.6 340.7 L495.9 337.2 L498.2 333.7 L500.6 330.3 L502.9 326.9 L505.2 323.6 L507.5 320.4 L509.9 317.2 L512.2 314.0 L514.5 310.9 L516.9 307.9 L519.2 304.9 L521.5 301.9 L523.9 299.0 L526.2 296.2 L528.5 293.4 L530.9 290.7 L533.2 288.0 L535.5 285.3 L537.9 282.7 L540.2 280.2 L542.5 277.7 L544.9 275.2 L547.2 272.8 L549.5 270.5 L551.8 268.1 L554.2 265.9 L556.5 263.7 L558.8 261.5 L561.2 259.3 L563.5 257.2 L565.8 255.2 L568.2 253.2 L570.5 251.2 L572.8 249.3 L575.2 247.5 L577.5 245.6 L579.8 243.8 L582.1 242.1 L584.5 240.4 L586.8 238.7 L589.1 237.1 L591.5 235.5 L593.8 233.9 L596.1 232.4 L598.5 231.0 L600.8 229.5 L603.1 228.1 L605.5 226.8 L607.8 225.5 L610.1 224.2 L612.5 222.9 L614.8 221.7 L617.1 220.5 L619.5 219.4 L621.8 218.3 L624.1 217.2 L626.4 216.2 L628.8 215.1 L631.1 214.2 L633.4 213.2 L635.8 212.3 L638.1 211.4 L640.4 210.6 L642.8 209.7 L645.1 209.0 L647.4 208.2 L649.8 207.5 L652.1 206.8 L654.4 206.1 L656.8 205.4 L659.1 204.8 L661.4 204.2 L663.7 203.6 L666.1 203.1 L668.4 202.6 L670.7 202.1 L673.1 201.6 L675.4 201.2 L677.7 200.7 L680.1 200.3 L682.4 200.0 L684.7 199.6 L687.1 199.3 L689.4 198.9 L691.7 198.6 L694.0 198.4 L696.4 198.1 L698.7 197.9 L701.0 197.7 L703.4 197.5 L705.7 197.3 L708.0 197.1 L710.4 196.9 L712.7 196.8 L715.0 196.7 L717.4 196.6 L719.7 196.5 L722.0 196.4 L724.4 196.3 L726.7 196.2 L729.0 196.2 L731.4 196.1 L733.7 196.1 L736.0 196.1 L738.3 196.0 L740.7 196.0 L743.0 196.0 L745.3 196.0 L747.7 196.0 L750.0 196.0 L751.5 196.0 L753.0 196.0 L754.5 196.1 L756.0 196.2 L757.5 196.3 L759.0 196.4 L760.5 196.6 L762.0 196.7 L763.5 196.9 L765.0 197.1 L766.5 197.4 L768.0 197.7 L769.5 197.9 L771.0 198.2 L772.5 198.6 L774.0 198.9 L775.5 199.3 L777.0 199.7 L778.5 200.1 L780.0 200.6 L781.5 201.1 L783.0 201.6 L784.5 202.1 L786.0 202.6 L787.5 203.2 L789.0 203.8 L790.5 204.4 L792.0 205.0" fill="none" stroke="#0000ff" stroke-width="6.2" stroke-linejoin="round"/>
<path d="M391.9 594.0 L394.2 587.5 L396.4 581.0 L398.7 574.6 L401.0 568.2 L403.2 562.0 L405.5 555.8 L407.8 549.6 L410.1 543.6 L412.3 537.6 L414.6 531.6 L416.9 525.8 L419.1 520.0 L421.4 514.2 L423.7 508.6 L425.9 503.0 L428.2 497.4 L430.5 492.0 L432.7 486.6 L435.0 481.2 L437.3 475.9 L439.6 470.7 L441.8 465.6 L444.1 460.5 L446.4 455.5 L448.6 450.5 L450.9 445.6 L453.2 440.8 L455.4 436.0 L457.7 431.3 L460.0 426.6 L462.3 422.0 L464.5 417.5 L466.8 413.0 L469.1 408.6 L471.3 404.3 L473.6 400.0 L475.9 395.7 L478.1 391.5 L480.4 387.4 L482.7 383.4 L484.9 379.4 L487.2 375.4 L489.5 371.5 L491.8 367.7 L494.0 363.9 L496.3 360.2 L498.6 356.5 L500.8 352.9 L503.1 349.3 L505.4 345.8 L507.6 342.4 L509.9 339.0 L512.2 335.6 L514.4 332.3 L516.7 329.1 L519.0 325.9 L521.3 322.7 L523.5 319.7 L525.8 316.6 L528.1 313.6 L530.3 310.7 L532.6 307.8 L534.9 305.0 L537.1 302.2 L539.4 299.5 L541.7 296.8 L543.9 294.1 L546.2 291.5 L548.5 289.0 L550.8 286.5 L553.0 284.0 L555.3 281.6 L557.6 279.3 L559.8 277.0 L562.1 274.7 L564.4 272.5 L566.6 270.3 L568.9 268.2 L571.2 266.1 L573.5 264.0 L575.7 262.0 L578.0 260.1 L580.3 258.1 L582.5 256.3 L584.8 254.4 L587.1 252.6 L589.3 250.9 L591.6 249.2 L593.9 247.5 L596.1 245.9 L598.4 244.3 L600.7 242.7 L603.0 241.2 L605.2 239.7 L607.5 238.3 L609.8 236.9 L612.0 235.5 L614.3 234.2 L616.6 232.9 L618.8 231.6 L621.1 230.4 L623.4 229.2 L625.6 228.0 L627.9 226.9 L630.2 225.8 L632.5 224.8 L634.7 223.7 L637.0 222.8 L639.3 221.8 L641.5 220.9 L643.8 220.0 L646.1 219.1 L648.3 218.3 L650.6 217.5 L652.9 216.7 L655.1 215.9 L657.4 215.2 L659.7 214.5 L662.0 213.9 L664.2 213.2 L666.5 212.6 L668.8 212.0 L671.0 211.5 L673.3 210.9 L675.6 210.4 L677.8 210.0 L680.1 209.5 L682.4 209.1 L684.6 208.6 L686.9 208.2 L689.2 207.9 L691.5 207.5 L693.7 207.2 L696.0 206.9 L698.3 206.6 L700.5 206.3 L702.8 206.1 L705.1 205.8 L707.3 205.6 L709.6 205.4 L711.9 205.2 L714.2 205.1 L716.4 204.9 L718.7 204.8 L721.0 204.7 L723.2 204.5 L725.5 204.4 L727.8 204.4 L730.0 204.3 L732.3 204.2 L734.6 204.2 L736.8 204.1 L739.1 204.1 L741.4 204.1 L743.7 204.0 L745.9 204.0 L748.2 204.0 L750.5 204.0 L752.7 204.0 L755.0 204.0 L756.5 204.0 L758.0 204.1 L759.5 204.2 L761.0 204.3 L762.5 204.5 L764.0 204.7 L765.5 205.0 L767.0 205.3 L768.5 205.6 L770.0 206.0 L771.5 206.4 L773.0 206.9 L774.5 207.4 L776.0 207.9 L777.5 208.5 L779.0 209.1 L780.5 209.8 L782.0 210.5 L783.5 211.2 L785.0 212.0 L786.5 212.8 L788.0 213.7 L789.5 214.6 L791.0 215.6 L792.5 216.5 L794.0 217.6 L795.5 218.6 L797.0 219.7 L798.5 220.9 L800.0 222.1 L801.5 223.3 L803.0 224.5 L804.5 225.8 L806.0 227.2 L807.5 228.6 L809.0 230.0 L810.5 231.5 L812.0 233.0 L813.5 234.5 L815.0 236.1 L816.5 237.7 L818.0 239.4 L819.5 241.1 L821.0 242.8 L822.5 244.6 L824.0 246.5 L825.5 248.3 L827.0 250.2 L828.5 252.2 L830.0 254.2 L831.5 256.2 L833.0 258.2 L834.5 260.4 L836.0 262.5 L837.5 264.7 L839.0 266.9 L840.5 269.2 L842.0 271.5 L843.5 273.8 L845.0 276.2 L846.5 278.6 L848.0 281.1 L849.5 283.6 L851.0 286.2 L852.5 288.8 L854.0 291.4 L855.5 294.1 L857.0 296.8 L858.5 299.5 L860.0 302.3 L861.5 305.1 L863.0 308.0" fill="none" stroke="#0000ff" stroke-width="6.2" stroke-linejoin="round"/>
<path d="M402.8 594.0 L405.0 587.6 L407.2 581.2 L409.5 575.0 L411.7 568.8 L413.9 562.6 L416.1 556.5 L418.3 550.5 L420.6 544.6 L422.8 538.7 L425.0 532.9 L427.2 527.2 L429.4 521.5 L431.7 515.9 L433.9 510.3 L436.1 504.8 L438.3 499.4 L440.5 494.1 L442.8 488.8 L445.0 483.5 L447.2 478.4 L449.4 473.3 L451.6 468.2 L453.9 463.2 L456.1 458.3 L458.3 453.5 L460.5 448.7 L462.7 443.9 L465.0 439.2 L467.2 434.6 L469.4 430.1 L471.6 425.6 L473.8 421.1 L476.1 416.7 L478.3 412.4 L480.5 408.2 L482.7 403.9 L484.9 399.8 L487.2 395.7 L489.4 391.7 L491.6 387.7 L493.8 383.8 L496.0 379.9 L498.3 376.1 L500.5 372.3 L502.7 368.6 L504.9 365.0 L507.1 361.4 L509.4 357.8 L511.6 354.3 L513.8 350.9 L516.0 347.5 L518.2 344.2 L520.5 340.9 L522.7 337.7 L524.9 334.5 L527.1 331.4 L529.3 328.3 L531.6 325.3 L533.8 322.3 L536.0 319.4 L538.2 316.5 L540.4 313.7 L542.7 310.9 L544.9 308.2 L547.1 305.5 L549.3 302.9 L551.5 300.3 L553.8 297.7 L556.0 295.2 L558.2 292.8 L560.4 290.4 L562.6 288.0 L564.9 285.7 L567.1 283.5 L569.3 281.2 L571.5 279.1 L573.7 276.9 L576.0 274.8 L578.2 272.8 L580.4 270.8 L582.6 268.8 L584.8 266.9 L587.1 265.0 L589.3 263.2 L591.5 261.4 L593.7 259.6 L595.9 257.9 L598.2 256.2 L600.4 254.6 L602.6 253.0 L604.8 251.4 L607.0 249.9 L609.3 248.4 L611.5 247.0 L613.7 245.6 L615.9 244.2 L618.1 242.8 L620.4 241.5 L622.6 240.3 L624.8 239.0 L627.0 237.8 L629.2 236.7 L631.5 235.5 L633.7 234.4 L635.9 233.4 L638.1 232.3 L640.3 231.3 L642.6 230.4 L644.8 229.4 L647.0 228.5 L649.2 227.6 L651.4 226.8 L653.7 226.0 L655.9 225.2 L658.1 224.4 L660.3 223.7 L662.5 223.0 L664.8 222.3 L667.0 221.7 L669.2 221.0 L671.4 220.4 L673.6 219.9 L675.9 219.3 L678.1 218.8 L680.3 218.3 L682.5 217.8 L684.7 217.4 L687.0 217.0 L689.2 216.5 L691.4 216.2 L693.6 215.8 L695.8 215.5 L698.1 215.1 L700.3 214.8 L702.5 214.5 L704.7 214.3 L706.9 214.0 L709.2 213.8 L711.4 213.6 L713.6 213.4 L715.8 213.2 L718.0 213.0 L720.3 212.9 L722.5 212.8 L724.7 212.6 L726.9 212.5 L729.1 212.4 L731.4 212.4 L733.6 212.3 L735.8 212.2 L738.0 212.2 L740.2 212.1 L742.5 212.1 L744.7 212.1 L746.9 212.0 L749.1 212.0 L751.3 212.0 L753.6 212.0 L755.8 212.0 L758.0 212.0 L759.5 212.0 L761.0 212.1 L762.5 212.2 L764.0 212.3 L765.5 212.5 L767.0 212.7 L768.5 213.0 L770.1 213.3 L771.6 213.6 L773.1 214.0 L774.6 214.4 L776.1 214.9 L777.6 215.4 L779.1 216.0 L780.6 216.6 L782.1 217.2 L783.6 217.8 L785.1 218.6 L786.6 219.3 L788.1 220.1 L789.6 220.9 L791.2 221.8 L792.7 222.7 L794.2 223.7 L795.7 224.6 L797.2 225.7 L798.7 226.8 L800.2 227.9 L801.7 229.0 L803.2 230.2 L804.7 231.4 L806.2 232.7 L807.7 234.0 L809.2 235.4 L810.7 236.8 L812.3 238.2 L813.8 239.7 L815.3 241.2 L816.8 242.8 L818.3 244.4 L819.8 246.0 L821.3 247.7 L822.8 249.4 L824.3 251.2 L825.8 253.0 L827.3 254.8 L828.8 256.7 L830.3 258.6 L831.8 260.6 L833.4 262.6 L834.9 264.6 L836.4 266.7 L837.9 268.8 L839.4 271.0 L840.9 273.2 L842.4 275.5 L843.9 277.7 L845.4 280.1 L846.9 282.4 L848.4 284.8 L849.9 287.3 L851.4 289.8 L852.9 292.3 L854.5 294.9 L856.0 297.5 L857.5 300.1 L859.0 302.8 L860.5 305.6 L862.0 308.3 L863.5 311.1 L865.0 314.0" fill="none" stroke="#0000ff" stroke-width="6.2" stroke-linejoin="round"/>
<path d="M415.7 594.0 L417.9 587.7 L420.0 581.5 L422.2 575.4 L424.4 569.3 L426.5 563.3 L428.7 557.3 L430.9 551.4 L433.0 545.6 L435.2 539.9 L437.3 534.2 L439.5 528.6 L441.7 523.0 L443.8 517.5 L446.0 512.1 L448.2 506.7 L450.3 501.4 L452.5 496.2 L454.7 491.0 L456.8 485.9 L459.0 480.8 L461.2 475.8 L463.3 470.9 L465.5 466.0 L467.6 461.2 L469.8 456.4 L472.0 451.7 L474.1 447.1 L476.3 442.5 L478.5 438.0 L480.6 433.5 L482.8 429.1 L485.0 424.7 L487.1 420.5 L489.3 416.2 L491.5 412.0 L493.6 407.9 L495.8 403.9 L497.9 399.9 L500.1 395.9 L502.3 392.0 L504.4 388.2 L506.6 384.4 L508.8 380.6 L510.9 377.0 L513.1 373.3 L515.3 369.8 L517.4 366.2 L519.6 362.8 L521.8 359.4 L523.9 356.0 L526.1 352.7 L528.2 349.4 L530.4 346.2 L532.6 343.0 L534.7 339.9 L536.9 336.9 L539.1 333.9 L541.2 330.9 L543.4 328.0 L545.6 325.1 L547.7 322.3 L549.9 319.6 L552.1 316.8 L554.2 314.2 L556.4 311.5 L558.5 309.0 L560.7 306.4 L562.9 303.9 L565.0 301.5 L567.2 299.1 L569.4 296.8 L571.5 294.4 L573.7 292.2 L575.9 290.0 L578.0 287.8 L580.2 285.7 L582.4 283.6 L584.5 281.5 L586.7 279.5 L588.9 277.6 L591.0 275.6 L593.2 273.8 L595.3 271.9 L597.5 270.1 L599.7 268.4 L601.8 266.6 L604.0 264.9 L606.2 263.3 L608.3 261.7 L610.5 260.1 L612.7 258.6 L614.8 257.1 L617.0 255.7 L619.2 254.2 L621.3 252.9 L623.5 251.5 L625.6 250.2 L627.8 248.9 L630.0 247.7 L632.1 246.5 L634.3 245.3 L636.5 244.2 L638.6 243.0 L640.8 242.0 L643.0 240.9 L645.1 239.9 L647.3 238.9 L649.5 238.0 L651.6 237.1 L653.8 236.2 L655.9 235.3 L658.1 234.5 L660.3 233.7 L662.4 232.9 L664.6 232.2 L666.8 231.5 L668.9 230.8 L671.1 230.1 L673.3 229.5 L675.4 228.9 L677.6 228.3 L679.8 227.7 L681.9 227.2 L684.1 226.7 L686.2 226.2 L688.4 225.7 L690.6 225.3 L692.7 224.8 L694.9 224.5 L697.1 224.1 L699.2 223.7 L701.4 223.4 L703.6 223.1 L705.7 222.8 L707.9 222.5 L710.1 222.2 L712.2 222.0 L714.4 221.8 L716.5 221.6 L718.7 221.4 L720.9 221.2 L723.0 221.0 L725.2 220.9 L727.4 220.7 L729.5 220.6 L731.7 220.5 L733.9 220.4 L736.0 220.3 L738.2 220.3 L740.4 220.2 L742.5 220.2 L744.7 220.1 L746.8 220.1 L749.0 220.1 L751.2 220.0 L753.3 220.0 L755.5 220.0 L757.7 220.0 L759.8 220.0 L762.0 220.0 L763.5 220.0 L765.0 220.1 L766.5 220.2 L768.0 220.3 L769.5 220.5 L771.0 220.8 L772.6 221.0 L774.1 221.3 L775.6 221.7 L777.1 222.1 L778.6 222.5 L780.1 223.0 L781.6 223.5 L783.1 224.1 L784.6 224.7 L786.1 225.4 L787.6 226.1 L789.1 226.8 L790.6 227.6 L792.1 228.4 L793.7 229.3 L795.2 230.2 L796.7 231.1 L798.2 232.1 L799.7 233.1 L801.2 234.2 L802.7 235.3 L804.2 236.5 L805.7 237.7 L807.2 238.9 L808.7 240.2 L810.2 241.5 L811.7 242.9 L813.2 244.3 L814.8 245.7 L816.3 247.2 L817.8 248.8 L819.3 250.3 L820.8 251.9 L822.3 253.6 L823.8 255.3 L825.3 257.1 L826.8 258.8 L828.3 260.7 L829.8 262.5 L831.3 264.4 L832.8 266.4 L834.3 268.4 L835.9 270.4 L837.4 272.5 L838.9 274.6 L840.4 276.8 L841.9 279.0 L843.4 281.2 L844.9 283.5 L846.4 285.9 L847.9 288.2 L849.4 290.7 L850.9 293.1 L852.4 295.6 L853.9 298.2 L855.4 300.7 L857.0 303.4 L858.5 306.0 L860.0 308.7 L861.5 311.5 L863.0 314.3 L864.5 317.1 L866.0 320.0" fill="none" stroke="#0000ff" stroke-width="6.2" stroke-linejoin="round"/>
<path d="M425.4 594.0 L427.5 587.9 L429.7 581.8 L431.8 575.8 L433.9 569.8 L436.0 563.9 L438.2 558.1 L440.3 552.4 L442.4 546.7 L444.6 541.0 L446.7 535.5 L448.8 530.0 L450.9 524.5 L453.1 519.1 L455.2 513.8 L457.3 508.6 L459.5 503.4 L461.6 498.2 L463.7 493.2 L465.8 488.2 L468.0 483.2 L470.1 478.3 L472.2 473.5 L474.4 468.7 L476.5 464.0 L478.6 459.3 L480.7 454.7 L482.9 450.2 L485.0 445.7 L487.1 441.3 L489.3 436.9 L491.4 432.6 L493.5 428.4 L495.6 424.2 L497.8 420.0 L499.9 415.9 L502.0 411.9 L504.2 407.9 L506.3 404.0 L508.4 400.1 L510.5 396.3 L512.7 392.6 L514.8 388.9 L516.9 385.2 L519.1 381.6 L521.2 378.1 L523.3 374.6 L525.5 371.1 L527.6 367.7 L529.7 364.4 L531.8 361.1 L534.0 357.8 L536.1 354.6 L538.2 351.5 L540.4 348.4 L542.5 345.4 L544.6 342.4 L546.7 339.4 L548.9 336.5 L551.0 333.7 L553.1 330.9 L555.3 328.1 L557.4 325.4 L559.5 322.8 L561.6 320.1 L563.8 317.6 L565.9 315.1 L568.0 312.6 L570.2 310.1 L572.3 307.8 L574.4 305.4 L576.5 303.1 L578.7 300.9 L580.8 298.6 L582.9 296.5 L585.1 294.3 L587.2 292.3 L589.3 290.2 L591.4 288.2 L593.6 286.2 L595.7 284.3 L597.8 282.4 L600.0 280.6 L602.1 278.8 L604.2 277.0 L606.3 275.3 L608.5 273.6 L610.6 272.0 L612.7 270.4 L614.9 268.8 L617.0 267.3 L619.1 265.8 L621.2 264.3 L623.4 262.9 L625.5 261.5 L627.6 260.2 L629.8 258.8 L631.9 257.6 L634.0 256.3 L636.1 255.1 L638.3 253.9 L640.4 252.8 L642.5 251.6 L644.7 250.6 L646.8 249.5 L648.9 248.5 L651.0 247.5 L653.2 246.5 L655.3 245.6 L657.4 244.7 L659.6 243.8 L661.7 243.0 L663.8 242.2 L665.9 241.4 L668.1 240.6 L670.2 239.9 L672.3 239.2 L674.5 238.5 L676.6 237.9 L678.7 237.3 L680.9 236.7 L683.0 236.1 L685.1 235.5 L687.2 235.0 L689.4 234.5 L691.5 234.0 L693.6 233.6 L695.8 233.2 L697.9 232.7 L700.0 232.4 L702.1 232.0 L704.3 231.6 L706.4 231.3 L708.5 231.0 L710.7 230.7 L712.8 230.4 L714.9 230.2 L717.0 229.9 L719.2 229.7 L721.3 229.5 L723.4 229.3 L725.6 229.2 L727.7 229.0 L729.8 228.9 L731.9 228.7 L734.1 228.6 L736.2 228.5 L738.3 228.4 L740.5 228.3 L742.6 228.3 L744.7 228.2 L746.8 228.2 L749.0 228.1 L751.1 228.1 L753.2 228.1 L755.4 228.0 L757.5 228.0 L759.6 228.0 L761.7 228.0 L763.9 228.0 L766.0 228.0 L767.5 228.0 L769.0 228.1 L770.5 228.2 L772.0 228.3 L773.5 228.5 L775.0 228.8 L776.6 229.1 L778.1 229.4 L779.6 229.8 L781.1 230.2 L782.6 230.6 L784.1 231.1 L785.6 231.7 L787.1 232.3 L788.6 232.9 L790.1 233.6 L791.6 234.3 L793.1 235.1 L794.6 235.9 L796.1 236.7 L797.7 237.6 L799.2 238.6 L800.7 239.5 L802.2 240.6 L803.7 241.6 L805.2 242.8 L806.7 243.9 L808.2 245.1 L809.7 246.4 L811.2 247.6 L812.7 249.0 L814.2 250.4 L815.7 251.8 L817.3 253.2 L818.8 254.7 L820.3 256.3 L821.8 257.9 L823.3 259.5 L824.8 261.2 L826.3 262.9 L827.8 264.7 L829.3 266.5 L830.8 268.4 L832.3 270.3 L833.8 272.2 L835.3 274.2 L836.9 276.2 L838.4 278.3 L839.9 280.4 L841.4 282.6 L842.9 284.8 L844.4 287.0 L845.9 289.3 L847.4 291.7 L848.9 294.0 L850.4 296.5 L851.9 298.9 L853.4 301.4 L854.9 304.0 L856.4 306.6 L858.0 309.2 L859.5 311.9 L861.0 314.6 L862.5 317.4 L864.0 320.2 L865.5 323.1 L867.0 326.0" fill="none" stroke="#0000ff" stroke-width="6.2" stroke-linejoin="round"/>
<path d="M432.4 594.0 L434.5 588.0 L436.6 582.0 L438.7 576.2 L440.8 570.3 L442.9 564.6 L445.0 558.9 L447.1 553.3 L449.2 547.7 L451.3 542.2 L453.4 536.7 L455.5 531.4 L457.6 526.0 L459.7 520.8 L461.8 515.6 L463.9 510.4 L466.0 505.4 L468.1 500.3 L470.2 495.4 L472.3 490.5 L474.3 485.6 L476.4 480.8 L478.5 476.1 L480.6 471.5 L482.7 466.8 L484.8 462.3 L486.9 457.8 L489.0 453.3 L491.1 449.0 L493.2 444.6 L495.3 440.4 L497.4 436.1 L499.5 432.0 L501.6 427.9 L503.7 423.8 L505.8 419.8 L507.9 415.9 L510.0 412.0 L512.1 408.2 L514.2 404.4 L516.3 400.6 L518.4 397.0 L520.5 393.3 L522.6 389.8 L524.7 386.2 L526.8 382.8 L528.9 379.4 L531.0 376.0 L533.1 372.7 L535.2 369.4 L537.3 366.2 L539.4 363.0 L541.5 359.9 L543.6 356.8 L545.7 353.8 L547.8 350.8 L549.9 347.9 L552.0 345.0 L554.1 342.2 L556.2 339.4 L558.2 336.6 L560.3 333.9 L562.4 331.3 L564.5 328.7 L566.6 326.1 L568.7 323.6 L570.8 321.2 L572.9 318.7 L575.0 316.4 L577.1 314.0 L579.2 311.7 L581.3 309.5 L583.4 307.3 L585.5 305.1 L587.6 303.0 L589.7 300.9 L591.8 298.9 L593.9 296.9 L596.0 294.9 L598.1 293.0 L600.2 291.1 L602.3 289.3 L604.4 287.5 L606.5 285.7 L608.6 284.0 L610.7 282.3 L612.8 280.6 L614.9 279.0 L617.0 277.5 L619.1 275.9 L621.2 274.4 L623.3 273.0 L625.4 271.5 L627.5 270.1 L629.6 268.8 L631.7 267.5 L633.8 266.2 L635.9 264.9 L638.0 263.7 L640.1 262.5 L642.1 261.3 L644.2 260.2 L646.3 259.1 L648.4 258.1 L650.5 257.0 L652.6 256.0 L654.7 255.1 L656.8 254.1 L658.9 253.2 L661.0 252.3 L663.1 251.5 L665.2 250.7 L667.3 249.9 L669.4 249.1 L671.5 248.4 L673.6 247.7 L675.7 247.0 L677.8 246.3 L679.9 245.7 L682.0 245.1 L684.1 244.5 L686.2 243.9 L688.3 243.4 L690.4 242.9 L692.5 242.4 L694.6 241.9 L696.7 241.5 L698.8 241.0 L700.9 240.6 L703.0 240.3 L705.1 239.9 L707.2 239.6 L709.3 239.2 L711.4 238.9 L713.5 238.6 L715.6 238.4 L717.7 238.1 L719.8 237.9 L721.9 237.7 L724.0 237.5 L726.0 237.3 L728.1 237.1 L730.2 237.0 L732.3 236.8 L734.4 236.7 L736.5 236.6 L738.6 236.5 L740.7 236.4 L742.8 236.3 L744.9 236.3 L747.0 236.2 L749.1 236.2 L751.2 236.1 L753.3 236.1 L755.4 236.1 L757.5 236.0 L759.6 236.0 L761.7 236.0 L763.8 236.0 L765.9 236.0 L768.0 236.0 L769.5 236.0 L771.0 236.1 L772.5 236.2 L774.1 236.3 L775.6 236.5 L777.1 236.8 L778.6 237.1 L780.1 237.4 L781.6 237.8 L783.2 238.2 L784.7 238.6 L786.2 239.1 L787.7 239.7 L789.2 240.3 L790.7 240.9 L792.2 241.6 L793.8 242.3 L795.3 243.1 L796.8 243.9 L798.3 244.7 L799.8 245.6 L801.3 246.6 L802.8 247.5 L804.4 248.6 L805.9 249.6 L807.4 250.7 L808.9 251.9 L810.4 253.1 L811.9 254.3 L813.5 255.6 L815.0 257.0 L816.5 258.3 L818.0 259.8 L819.5 261.2 L821.0 262.7 L822.5 264.3 L824.1 265.9 L825.6 267.5 L827.1 269.2 L828.6 270.9 L830.1 272.7 L831.6 274.5 L833.2 276.3 L834.7 278.2 L836.2 280.2 L837.7 282.1 L839.2 284.2 L840.7 286.2 L842.2 288.4 L843.8 290.5 L845.3 292.7 L846.8 295.0 L848.3 297.3 L849.8 299.6 L851.3 302.0 L852.8 304.4 L854.4 306.9 L855.9 309.4 L857.4 311.9 L858.9 314.5 L860.4 317.2 L861.9 319.8 L863.5 322.6 L865.0 325.3 L866.5 328.1 L868.0 331.0" fill="none" stroke="#0000ff" stroke-width="6.2" stroke-linejoin="round"/>
<path d="M449.2 594.0 L451.2 588.1 L453.2 582.3 L455.3 576.6 L457.3 570.9 L459.3 565.2 L461.3 559.7 L463.3 554.2 L465.3 548.7 L467.4 543.4 L469.4 538.0 L471.4 532.8 L473.4 527.6 L475.4 522.4 L477.4 517.3 L479.5 512.3 L481.5 507.3 L483.5 502.4 L485.5 497.6 L487.5 492.8 L489.6 488.1 L491.6 483.4 L493.6 478.8 L495.6 474.2 L497.6 469.7 L499.6 465.2 L501.7 460.8 L503.7 456.5 L505.7 452.2 L507.7 448.0 L509.7 443.8 L511.7 439.7 L513.8 435.6 L515.8 431.6 L517.8 427.6 L519.8 423.7 L521.8 419.9 L523.8 416.1 L525.9 412.3 L527.9 408.6 L529.9 405.0 L531.9 401.4 L533.9 397.8 L536.0 394.3 L538.0 390.9 L540.0 387.5 L542.0 384.1 L544.0 380.9 L546.0 377.6 L548.1 374.4 L550.1 371.3 L552.1 368.2 L554.1 365.1 L556.1 362.1 L558.1 359.2 L560.2 356.2 L562.2 353.4 L564.2 350.6 L566.2 347.8 L568.2 345.1 L570.2 342.4 L572.3 339.8 L574.3 337.2 L576.3 334.6 L578.3 332.1 L580.3 329.7 L582.4 327.3 L584.4 324.9 L586.4 322.6 L588.4 320.3 L590.4 318.0 L592.4 315.8 L594.5 313.7 L596.5 311.6 L598.5 309.5 L600.5 307.4 L602.5 305.4 L604.5 303.5 L606.6 301.6 L608.6 299.7 L610.6 297.9 L612.6 296.1 L614.6 294.3 L616.7 292.6 L618.7 290.9 L620.7 289.2 L622.7 287.6 L624.7 286.1 L626.7 284.5 L628.8 283.0 L630.8 281.6 L632.8 280.1 L634.8 278.7 L636.8 277.4 L638.8 276.0 L640.9 274.7 L642.9 273.5 L644.9 272.3 L646.9 271.1 L648.9 269.9 L651.0 268.8 L653.0 267.7 L655.0 266.6 L657.0 265.6 L659.0 264.6 L661.0 263.6 L663.1 262.6 L665.1 261.7 L667.1 260.8 L669.1 260.0 L671.1 259.1 L673.1 258.3 L675.2 257.6 L677.2 256.8 L679.2 256.1 L681.2 255.4 L683.2 254.7 L685.2 254.1 L687.3 253.5 L689.3 252.9 L691.3 252.3 L693.3 251.7 L695.3 251.2 L697.4 250.7 L699.4 250.2 L701.4 249.8 L703.4 249.3 L705.4 248.9 L707.4 248.5 L709.5 248.2 L711.5 247.8 L713.5 247.5 L715.5 247.2 L717.5 246.9 L719.5 246.6 L721.6 246.3 L723.6 246.1 L725.6 245.9 L727.6 245.7 L729.6 245.5 L731.6 245.3 L733.7 245.1 L735.7 245.0 L737.7 244.8 L739.7 244.7 L741.7 244.6 L743.8 244.5 L745.8 244.4 L747.8 244.3 L749.8 244.3 L751.8 244.2 L753.8 244.1 L755.9 244.1 L757.9 244.1 L759.9 244.0 L761.9 244.0 L763.9 244.0 L765.9 244.0 L768.0 244.0 L770.0 244.0 L772.0 244.0 L773.5 244.0 L775.0 244.1 L776.5 244.2 L778.1 244.4 L779.6 244.6 L781.1 244.8 L782.6 245.1 L784.1 245.4 L785.6 245.8 L787.2 246.2 L788.7 246.7 L790.2 247.2 L791.7 247.8 L793.2 248.4 L794.7 249.1 L796.2 249.8 L797.8 250.5 L799.3 251.3 L800.8 252.1 L802.3 253.0 L803.8 253.9 L805.3 254.9 L806.9 255.9 L808.4 256.9 L809.9 258.0 L811.4 259.2 L812.9 260.4 L814.4 261.6 L816.0 262.9 L817.5 264.2 L819.0 265.6 L820.5 267.0 L822.0 268.5 L823.5 270.0 L825.0 271.5 L826.6 273.1 L828.1 274.7 L829.6 276.4 L831.1 278.2 L832.6 279.9 L834.1 281.8 L835.7 283.6 L837.2 285.5 L838.7 287.5 L840.2 289.5 L841.7 291.5 L843.2 293.6 L844.8 295.8 L846.3 297.9 L847.8 300.2 L849.3 302.4 L850.8 304.7 L852.3 307.1 L853.8 309.5 L855.4 311.9 L856.9 314.4 L858.4 317.0 L859.9 319.6 L861.4 322.2 L862.9 324.9 L864.5 327.6 L866.0 330.3 L867.5 333.1 L869.0 336.0" fill="none" stroke="#0000ff" stroke-width="6.2" stroke-linejoin="round"/>
<path d="M461.8 594.0 L463.8 588.3 L465.7 582.6 L467.7 577.0 L469.7 571.4 L471.6 565.9 L473.6 560.5 L475.5 555.1 L477.5 549.8 L479.5 544.5 L481.4 539.3 L483.4 534.2 L485.4 529.1 L487.3 524.1 L489.3 519.1 L491.3 514.2 L493.2 509.3 L495.2 504.5 L497.1 499.8 L499.1 495.1 L501.1 490.5 L503.0 485.9 L505.0 481.4 L507.0 476.9 L508.9 472.5 L510.9 468.2 L512.9 463.9 L514.8 459.6 L516.8 455.4 L518.7 451.3 L520.7 447.2 L522.7 443.2 L524.6 439.2 L526.6 435.3 L528.6 431.4 L530.5 427.6 L532.5 423.8 L534.5 420.1 L536.4 416.5 L538.4 412.9 L540.4 409.3 L542.3 405.8 L544.3 402.3 L546.2 398.9 L548.2 395.5 L550.2 392.2 L552.1 388.9 L554.1 385.7 L556.1 382.6 L558.0 379.4 L560.0 376.4 L562.0 373.3 L563.9 370.3 L565.9 367.4 L567.8 364.5 L569.8 361.7 L571.8 358.9 L573.7 356.1 L575.7 353.4 L577.7 350.8 L579.6 348.1 L581.6 345.6 L583.6 343.0 L585.5 340.5 L587.5 338.1 L589.4 335.7 L591.4 333.3 L593.4 331.0 L595.3 328.8 L597.3 326.5 L599.3 324.3 L601.2 322.2 L603.2 320.1 L605.2 318.0 L607.1 316.0 L609.1 314.0 L611.0 312.0 L613.0 310.1 L615.0 308.3 L616.9 306.4 L618.9 304.6 L620.9 302.9 L622.8 301.2 L624.8 299.5 L626.8 297.8 L628.7 296.2 L630.7 294.6 L632.6 293.1 L634.6 291.6 L636.6 290.1 L638.5 288.7 L640.5 287.3 L642.5 285.9 L644.4 284.6 L646.4 283.3 L648.4 282.0 L650.3 280.8 L652.3 279.6 L654.2 278.4 L656.2 277.3 L658.2 276.2 L660.1 275.1 L662.1 274.1 L664.1 273.1 L666.0 272.1 L668.0 271.1 L670.0 270.2 L671.9 269.3 L673.9 268.4 L675.8 267.6 L677.8 266.8 L679.8 266.0 L681.7 265.3 L683.7 264.5 L685.7 263.8 L687.6 263.1 L689.6 262.5 L691.6 261.8 L693.5 261.2 L695.5 260.7 L697.5 260.1 L699.4 259.6 L701.4 259.1 L703.3 258.6 L705.3 258.1 L707.3 257.6 L709.2 257.2 L711.2 256.8 L713.2 256.4 L715.1 256.1 L717.1 255.7 L719.1 255.4 L721.0 255.1 L723.0 254.8 L724.9 254.5 L726.9 254.3 L728.9 254.0 L730.8 253.8 L732.8 253.6 L734.8 253.4 L736.7 253.2 L738.7 253.1 L740.7 252.9 L742.6 252.8 L744.6 252.7 L746.5 252.6 L748.5 252.5 L750.5 252.4 L752.4 252.3 L754.4 252.2 L756.4 252.2 L758.3 252.1 L760.3 252.1 L762.3 252.1 L764.2 252.0 L766.2 252.0 L768.1 252.0 L770.1 252.0 L772.1 252.0 L774.0 252.0 L776.0 252.0 L777.5 252.0 L779.0 252.1 L780.5 252.2 L782.1 252.4 L783.6 252.6 L785.1 252.8 L786.6 253.1 L788.1 253.5 L789.6 253.9 L791.2 254.3 L792.7 254.8 L794.2 255.4 L795.7 256.0 L797.2 256.6 L798.7 257.3 L800.3 258.0 L801.8 258.8 L803.3 259.6 L804.8 260.5 L806.3 261.4 L807.8 262.3 L809.4 263.3 L810.9 264.4 L812.4 265.5 L813.9 266.6 L815.4 267.8 L816.9 269.1 L818.5 270.4 L820.0 271.7 L821.5 273.1 L823.0 274.5 L824.5 276.0 L826.0 277.5 L827.5 279.1 L829.1 280.7 L830.6 282.3 L832.1 284.1 L833.6 285.8 L835.1 287.6 L836.6 289.5 L838.2 291.4 L839.7 293.3 L841.2 295.3 L842.7 297.3 L844.2 299.4 L845.7 301.5 L847.3 303.7 L848.8 305.9 L850.3 308.2 L851.8 310.5 L853.3 312.9 L854.8 315.3 L856.4 317.8 L857.9 320.3 L859.4 322.8 L860.9 325.4 L862.4 328.1 L863.9 330.8 L865.5 333.5 L867.0 336.3 L868.5 339.1 L870.0 342.0" fill="none" stroke="#0000ff" stroke-width="6.2" stroke-linejoin="round"/>
<path d="M350.6 594.0 L353.1 586.9 L355.5 579.9 L358.0 573.0 L360.5 566.2 L362.9 559.4 L365.4 552.6 L367.9 546.0 L370.3 539.4 L372.8 532.8 L375.2 526.4 L377.7 519.9 L380.2 513.6 L382.6 507.3 L385.1 501.1 L387.6 495.0 L390.0 488.9 L392.5 482.8 L395.0 476.9 L397.4 471.0 L399.9 465.1 L402.4 459.4 L404.8 453.7 L407.3 448.0 L409.8 442.4 L412.2 436.9 L414.7 431.4 L417.2 426.0 L419.6 420.7 L422.1 415.4 L424.6 410.2 L427.0 405.0 L429.5 399.9 L431.9 394.8 L434.4 389.9 L436.9 384.9 L439.3 380.1 L441.8 375.2 L444.3 370.5 L446.7 365.8 L449.2 361.2 L451.7 356.6 L454.1 352.1 L456.6 347.6 L459.1 343.2 L461.5 338.8 L464.0 334.5 L466.5 330.3 L468.9 326.1 L471.4 322.0 L473.9 317.9 L476.3 313.9 L478.8 309.9 L481.2 306.0 L483.7 302.2 L486.2 298.4 L488.6 294.6 L491.1 291.0 L493.6 287.3 L496.0 283.7 L498.5 280.2 L501.0 276.7 L503.4 273.3 L505.9 269.9 L508.4 266.6 L510.8 263.3 L513.3 260.1 L515.8 256.9 L518.2 253.8 L520.7 250.8 L523.1 247.7 L525.6 244.8 L528.1 241.9 L530.5 239.0 L533.0 236.2 L535.5 233.4 L537.9 230.7 L540.4 228.0 L542.9 225.4 L545.3 222.8 L547.8 220.3 L550.3 217.8 L552.7 215.3 L555.2 212.9 L557.7 210.6 L560.1 208.3 L562.6 206.0 L565.1 203.8 L567.5 201.7 L570.0 199.6 L572.5 197.5 L574.9 195.4 L577.4 193.5 L579.8 191.5 L582.3 189.6 L584.8 187.8 L587.2 185.9 L589.7 184.2 L592.2 182.4 L594.6 180.7 L597.1 179.1 L599.6 177.5 L602.0 175.9 L604.5 174.4 L607.0 172.9 L609.4 171.5 L611.9 170.0 L614.4 168.7 L616.8 167.3 L619.3 166.0 L621.8 164.8 L624.2 163.6 L626.7 162.4 L629.1 161.2 L631.6 160.1 L634.1 159.0 L636.5 158.0 L639.0 157.0 L641.5 156.0 L643.9 155.1 L646.4 154.2 L648.9 153.3 L651.3 152.5 L653.8 151.7 L656.3 150.9 L658.7 150.2 L661.2 149.5 L663.7 148.8 L666.1 148.1 L668.6 147.5 L671.0 146.9 L673.5 146.3 L676.0 145.8 L678.4 145.3 L680.9 144.8 L683.4 144.4 L685.8 144.0 L688.3 143.6 L690.8 143.2 L693.2 142.8 L695.7 142.5 L698.2 142.2 L700.6 141.9 L703.1 141.7 L705.6 141.4 L708.0 141.2 L710.5 141.0 L713.0 140.9 L715.4 140.7 L717.9 140.6 L720.4 140.4 L722.8 140.3 L725.3 140.3 L727.7 140.2 L730.2 140.1 L732.7 140.1 L735.1 140.0 L737.6 140.0 L740.1 140.0 L742.5 140.0 L745.0 140.0 L746.5 140.0 L748.0 140.1 L749.5 140.2 L751.0 140.4 L752.5 140.7 L754.0 141.0 L755.5 141.4 L757.0 141.8 L758.5 142.2 L760.0 142.8 L761.5 143.4 L763.0 144.0 L764.5 144.7 L766.0 145.4 L767.5 146.2 L769.0 147.1 L770.5 148.0 L772.0 149.0 L773.5 150.0 L775.0 151.1 L776.5 152.2 L778.0 153.4 L779.5 154.7 L781.0 156.0 L782.5 157.4 L784.0 158.8 L785.5 160.2 L787.0 161.8 L788.5 163.4 L790.0 165.0" fill="none" stroke="#0000ff" stroke-width="6.2" stroke-linejoin="round"/>
<path d="M402.8 594.0 L405.1 587.3 L407.4 580.6 L409.7 573.9 L412.0 567.4 L414.3 560.9 L416.6 554.4 L418.9 548.1 L421.2 541.8 L423.5 535.5 L425.8 529.3 L428.0 523.2 L430.3 517.1 L432.6 511.1 L434.9 505.2 L437.2 499.3 L439.5 493.5 L441.8 487.7 L444.1 482.0 L446.4 476.4 L448.7 470.8 L451.0 465.3 L453.3 459.8 L455.6 454.4 L457.9 449.1 L460.2 443.8 L462.5 438.6 L464.8 433.4 L467.1 428.3 L469.4 423.2 L471.7 418.3 L473.9 413.3 L476.2 408.4 L478.5 403.6 L480.8 398.8 L483.1 394.1 L485.4 389.5 L487.7 384.9 L490.0 380.3 L492.3 375.9 L494.6 371.4 L496.9 367.0 L499.2 362.7 L501.5 358.5 L503.8 354.2 L506.1 350.1 L508.4 346.0 L510.7 341.9 L513.0 337.9 L515.3 334.0 L517.5 330.1 L519.8 326.2 L522.1 322.5 L524.4 318.7 L526.7 315.0 L529.0 311.4 L531.3 307.8 L533.6 304.3 L535.9 300.8 L538.2 297.4 L540.5 294.0 L542.8 290.7 L545.1 287.4 L547.4 284.2 L549.7 281.0 L552.0 277.9 L554.3 274.8 L556.6 271.8 L558.9 268.8 L561.2 265.9 L563.5 263.0 L565.7 260.2 L568.0 257.4 L570.3 254.6 L572.6 251.9 L574.9 249.3 L577.2 246.7 L579.5 244.1 L581.8 241.6 L584.1 239.1 L586.4 236.7 L588.7 234.3 L591.0 232.0 L593.3 229.7 L595.6 227.5 L597.9 225.3 L600.2 223.1 L602.5 221.0 L604.8 219.0 L607.1 216.9 L609.4 214.9 L611.6 213.0 L613.9 211.1 L616.2 209.2 L618.5 207.4 L620.8 205.7 L623.1 203.9 L625.4 202.2 L627.7 200.6 L630.0 199.0 L632.3 197.4 L634.6 195.8 L636.9 194.3 L639.2 192.9 L641.5 191.5 L643.8 190.1 L646.1 188.7 L648.4 187.4 L650.7 186.1 L653.0 184.9 L655.2 183.7 L657.5 182.5 L659.8 181.4 L662.1 180.3 L664.4 179.2 L666.7 178.2 L669.0 177.2 L671.3 176.3 L673.6 175.3 L675.9 174.4 L678.2 173.6 L680.5 172.7 L682.8 171.9 L685.1 171.2 L687.4 170.4 L689.7 169.7 L692.0 169.0 L694.3 168.4 L696.6 167.8 L698.9 167.2 L701.1 166.6 L703.4 166.1 L705.7 165.6 L708.0 165.1 L710.3 164.6 L712.6 164.2 L714.9 163.8 L717.2 163.4 L719.5 163.0 L721.8 162.7 L724.1 162.4 L726.4 162.1 L728.7 161.8 L731.0 161.6 L733.3 161.4 L735.6 161.2 L737.9 161.0 L740.2 160.8 L742.5 160.7 L744.8 160.5 L747.0 160.4 L749.3 160.3 L751.6 160.2 L753.9 160.2 L756.2 160.1 L758.5 160.1 L760.8 160.0 L763.1 160.0 L765.4 160.0 L767.7 160.0 L770.0 160.0 L771.5 160.1 L773.0 160.2 L774.5 160.4 L776.0 160.8 L777.5 161.2 L779.0 161.8 L780.5 162.4 L782.0 163.2 L783.5 164.1 L785.0 165.0 L786.5 166.1 L788.0 167.2 L789.5 168.4 L791.0 169.8 L792.5 171.2 L794.0 172.8 L795.5 174.4 L797.0 176.2 L798.5 178.1 L800.0 180.0" fill="none" stroke="#0000ff" stroke-width="6.2" stroke-linejoin="round"/>
<path d="M478.5 594.0 L480.3 588.7 L482.1 583.5 L483.9 578.4 L485.7 573.3 L487.5 568.2 L489.4 563.2 L491.2 558.2 L493.0 553.3 L494.8 548.5 L496.6 543.6 L498.4 538.9 L500.2 534.1 L502.0 529.5 L503.8 524.8 L505.6 520.3 L507.4 515.7 L509.3 511.2 L511.1 506.8 L512.9 502.4 L514.7 498.1 L516.5 493.8 L518.3 489.5 L520.1 485.3 L521.9 481.1 L523.7 477.0 L525.5 473.0 L527.4 468.9 L529.2 465.0 L531.0 461.0 L532.8 457.1 L534.6 453.3 L536.4 449.5 L538.2 445.7 L540.0 442.0 L541.8 438.3 L543.6 434.7 L545.4 431.1 L547.3 427.6 L549.1 424.1 L550.9 420.7 L552.7 417.2 L554.5 413.9 L556.3 410.6 L558.1 407.3 L559.9 404.0 L561.7 400.8 L563.5 397.7 L565.4 394.6 L567.2 391.5 L569.0 388.5 L570.8 385.5 L572.6 382.5 L574.4 379.6 L576.2 376.7 L578.0 373.9 L579.8 371.1 L581.6 368.4 L583.4 365.7 L585.3 363.0 L587.1 360.4 L588.9 357.8 L590.7 355.2 L592.5 352.7 L594.3 350.3 L596.1 347.8 L597.9 345.4 L599.7 343.1 L601.5 340.7 L603.3 338.5 L605.2 336.2 L607.0 334.0 L608.8 331.8 L610.6 329.7 L612.4 327.6 L614.2 325.5 L616.0 323.5 L617.8 321.5 L619.6 319.6 L621.4 317.6 L623.2 315.8 L625.1 313.9 L626.9 312.1 L628.7 310.3 L630.5 308.6 L632.3 306.8 L634.1 305.2 L635.9 303.5 L637.7 301.9 L639.5 300.3 L641.3 298.8 L643.2 297.3 L645.0 295.8 L646.8 294.4 L648.6 292.9 L650.4 291.6 L652.2 290.2 L654.0 288.9 L655.8 287.6 L657.6 286.3 L659.4 285.1 L661.2 283.9 L663.1 282.7 L664.9 281.6 L666.7 280.5 L668.5 279.4 L670.3 278.4 L672.1 277.3 L673.9 276.4 L675.7 275.4 L677.5 274.5 L679.3 273.5 L681.1 272.7 L683.0 271.8 L684.8 271.0 L686.6 270.2 L688.4 269.4 L690.2 268.7 L692.0 267.9 L693.8 267.2 L695.6 266.6 L697.4 265.9 L699.2 265.3 L701.1 264.7 L702.9 264.1 L704.7 263.6 L706.5 263.0 L708.3 262.5 L710.1 262.0 L711.9 261.6 L713.7 261.1 L715.5 260.7 L717.3 260.3 L719.1 260.0 L721.0 259.6 L722.8 259.3 L724.6 258.9 L726.4 258.6 L728.2 258.4 L730.0 258.1 L731.8 257.9 L733.6 257.6 L735.4 257.4 L737.2 257.2 L739.0 257.1 L740.9 256.9 L742.7 256.8 L744.5 256.6 L746.3 256.5 L748.1 256.4 L749.9 256.3 L751.7 256.3 L753.5 256.2 L755.3 256.1 L757.1 256.1 L759.0 256.1 L760.8 256.0 L762.6 256.0 L764.4 256.0 L766.2 256.0 L768.0 256.0 L769.5 256.0 L771.0 256.1 L772.5 256.1 L774.0 256.2 L775.5 256.4 L777.0 256.5 L778.6 256.7 L780.1 256.9 L781.6 257.2 L783.1 257.5 L784.6 257.8 L786.1 258.1 L787.6 258.5 L789.1 258.9 L790.6 259.3 L792.1 259.8 L793.6 260.2 L795.1 260.8 L796.6 261.3 L798.2 261.9 L799.7 262.5 L801.2 263.1 L802.7 263.8 L804.2 264.5 L805.7 265.2 L807.2 265.9 L808.7 266.7 L810.2 267.5 L811.7 268.3 L813.2 269.2 L814.7 270.1 L816.2 271.0 L817.8 272.0 L819.3 273.0 L820.8 274.0 L822.3 275.0 L823.8 276.1 L825.3 277.2 L826.8 278.3 L828.3 279.5 L829.8 280.7 L831.3 281.9 L832.8 283.1 L834.3 284.4 L835.8 285.7 L837.4 287.1 L838.9 288.4 L840.4 289.8 L841.9 291.2 L843.4 292.7 L844.9 294.2 L846.4 295.7 L847.9 297.2 L849.4 298.8 L850.9 300.4 L852.4 302.0 L853.9 303.7 L855.4 305.4 L857.0 307.1 L858.5 308.8 L860.0 310.6 L861.5 312.4 L863.0 314.2 L864.5 316.1 L866.0 318.0" fill="none" stroke="#0000ff" stroke-width="6.2" stroke-linejoin="round"/>
<path d="M483.0 594.0 L485.4 589.2 L487.7 584.5 L490.1 579.9 L492.5 575.2 L494.8 570.6 L497.2 566.1 L499.6 561.5 L501.9 557.1 L504.3 552.6 L506.7 548.2 L509.1 543.8 L511.4 539.5 L513.8 535.2 L516.2 531.0 L518.5 526.7 L520.9 522.6 L523.3 518.4 L525.6 514.3 L528.0 510.2 L530.4 506.2 L532.7 502.2 L535.1 498.3 L537.5 494.3 L539.9 490.5 L542.2 486.6 L544.6 482.8 L547.0 479.0 L549.3 475.3 L551.7 471.6 L554.1 467.9 L556.4 464.3 L558.8 460.7 L561.2 457.2 L563.5 453.7 L565.9 450.2 L568.3 446.7 L570.6 443.3 L573.0 439.9 L575.4 436.6 L577.8 433.3 L580.1 430.0 L582.5 426.8 L584.9 423.6 L587.2 420.5 L589.6 417.3 L592.0 414.2 L594.3 411.2 L596.7 408.2 L599.1 405.2 L601.4 402.2 L603.8 399.3 L606.2 396.4 L608.5 393.6 L610.9 390.8 L613.3 388.0 L615.6 385.3 L618.0 382.6 L620.4 379.9 L622.8 377.2 L625.1 374.6 L627.5 372.1 L629.9 369.5 L632.2 367.0 L634.6 364.5 L637.0 362.1 L639.3 359.7 L641.7 357.3 L644.1 355.0 L646.4 352.7 L648.8 350.4 L651.2 348.2 L653.5 345.9 L655.9 343.8 L658.3 341.6 L660.7 339.5 L663.0 337.4 L665.4 335.4 L667.8 333.4 L670.1 331.4 L672.5 329.4 L674.9 327.5 L677.2 325.6 L679.6 323.7 L682.0 321.9 L684.3 320.1 L686.7 318.4 L689.1 316.6 L691.5 314.9 L693.8 313.2 L696.2 311.6 L698.6 310.0 L700.9 308.4 L703.3 306.8 L705.7 305.3 L708.0 303.8 L710.4 302.4 L712.8 300.9 L715.1 299.5 L717.5 298.1 L719.9 296.8 L722.2 295.5 L724.6 294.2 L727.0 292.9 L729.4 291.7 L731.7 290.5 L734.1 289.3 L736.5 288.2 L738.8 287.0 L741.2 285.9 L743.6 284.9 L745.9 283.8 L748.3 282.8 L750.7 281.8 L753.0 280.9 L755.4 279.9 L757.8 279.0 L760.1 278.2 L762.5 277.3 L764.9 276.5 L767.2 275.7 L769.6 274.9 L772.0 274.2 L774.4 273.4 L776.7 272.7 L779.1 272.1 L781.5 271.4 L783.8 270.8 L786.2 270.2 L788.6 269.6 L790.9 269.1 L793.3 268.5 L795.7 268.0 L798.0 267.5 L800.4 267.1 L802.8 266.6 L805.1 266.2 L807.5 265.8 L809.9 265.5 L812.3 265.1 L814.6 264.8 L817.0 264.5 L819.4 264.2 L821.7 263.9 L824.1 263.7 L826.5 263.4 L828.8 263.2 L831.2 263.0 L833.6 262.9 L835.9 262.7 L838.3 262.6 L840.7 262.4 L843.0 262.3 L845.4 262.2 L847.8 262.2 L850.2 262.1 L852.5 262.1 L852.9 262.1" fill="none" stroke="#0000ff" stroke-width="6.2" stroke-linejoin="round"/>
<path d="M489.0 594.0 L490.8 588.9 L492.6 583.8 L494.4 578.8 L496.2 573.9 L498.0 569.0 L499.8 564.1 L501.6 559.3 L503.4 554.5 L505.1 549.8 L506.9 545.1 L508.7 540.5 L510.5 535.9 L512.3 531.4 L514.1 526.9 L515.9 522.4 L517.7 518.0 L519.5 513.7 L521.3 509.4 L523.1 505.1 L524.9 500.9 L526.7 496.7 L528.5 492.6 L530.3 488.5 L532.0 484.5 L533.8 480.5 L535.6 476.5 L537.4 472.6 L539.2 468.8 L541.0 465.0 L542.8 461.2 L544.6 457.4 L546.4 453.8 L548.2 450.1 L550.0 446.5 L551.8 442.9 L553.6 439.4 L555.4 436.0 L557.2 432.5 L559.0 429.1 L560.8 425.8 L562.5 422.5 L564.3 419.2 L566.1 416.0 L567.9 412.8 L569.7 409.7 L571.5 406.6 L573.3 403.5 L575.1 400.5 L576.9 397.5 L578.7 394.5 L580.5 391.6 L582.3 388.8 L584.1 386.0 L585.9 383.2 L587.7 380.4 L589.5 377.7 L591.2 375.1 L593.0 372.4 L594.8 369.8 L596.6 367.3 L598.4 364.8 L600.2 362.3 L602.0 359.9 L603.8 357.5 L605.6 355.1 L607.4 352.8 L609.2 350.5 L611.0 348.2 L612.8 346.0 L614.6 343.8 L616.4 341.7 L618.1 339.6 L619.9 337.5 L621.7 335.5 L623.5 333.5 L625.3 331.5 L627.1 329.6 L628.9 327.7 L630.7 325.8 L632.5 324.0 L634.3 322.2 L636.1 320.4 L637.9 318.7 L639.7 317.0 L641.5 315.3 L643.3 313.7 L645.1 312.1 L646.9 310.6 L648.6 309.0 L650.4 307.5 L652.2 306.1 L654.0 304.6 L655.8 303.2 L657.6 301.8 L659.4 300.5 L661.2 299.2 L663.0 297.9 L664.8 296.7 L666.6 295.4 L668.4 294.2 L670.2 293.1 L672.0 292.0 L673.8 290.8 L675.5 289.8 L677.3 288.7 L679.1 287.7 L680.9 286.7 L682.7 285.8 L684.5 284.8 L686.3 283.9 L688.1 283.0 L689.9 282.2 L691.7 281.3 L693.5 280.5 L695.3 279.8 L697.1 279.0 L698.9 278.3 L700.7 277.6 L702.5 276.9 L704.2 276.2 L706.0 275.6 L707.8 275.0 L709.6 274.4 L711.4 273.9 L713.2 273.3 L715.0 272.8 L716.8 272.3 L718.6 271.9 L720.4 271.4 L722.2 271.0 L724.0 270.6 L725.8 270.2 L727.6 269.8 L729.4 269.5 L731.2 269.2 L733.0 268.9 L734.7 268.6 L736.5 268.3 L738.3 268.0 L740.1 267.8 L741.9 267.6 L743.7 267.4 L745.5 267.2 L747.3 267.0 L749.1 266.9 L750.9 266.7 L752.7 266.6 L754.5 266.5 L756.3 266.4 L758.1 266.3 L759.9 266.2 L761.6 266.2 L763.4 266.1 L765.2 266.1 L767.0 266.1 L768.8 266.0 L770.6 266.0 L772.4 266.0 L774.2 266.0 L776.0 266.0 L777.5 266.0 L779.0 266.1 L780.5 266.1 L782.0 266.3 L783.5 266.4 L785.0 266.6 L786.6 266.8 L788.1 267.0 L789.6 267.3 L791.1 267.6 L792.6 268.0 L794.1 268.3 L795.6 268.7 L797.1 269.2 L798.6 269.6 L800.1 270.1 L801.6 270.7 L803.1 271.2 L804.7 271.8 L806.2 272.4 L807.7 273.1 L809.2 273.8 L810.7 274.5 L812.2 275.3 L813.7 276.1 L815.2 276.9 L816.7 277.8 L818.2 278.6 L819.7 279.6 L821.2 280.5 L822.8 281.5 L824.3 282.5 L825.8 283.6 L827.3 284.6 L828.8 285.8 L830.3 286.9 L831.8 288.1 L833.3 289.3 L834.8 290.5 L836.3 291.8 L837.8 293.1 L839.3 294.4 L840.9 295.8 L842.4 297.2 L843.9 298.7 L845.4 300.1 L846.9 301.6 L848.4 303.2 L849.9 304.7 L851.4 306.3 L852.9 307.9 L854.4 309.6 L855.9 311.3 L857.4 313.0 L859.0 314.8 L860.5 316.6 L862.0 318.4 L863.5 320.2 L865.0 322.1 L866.5 324.0 L867.9 325.8" fill="none" stroke="#0000ff" stroke-width="6.2" stroke-linejoin="round"/>
<path d="M495.0 594.0 L497.4 589.4 L499.7 584.8 L502.1 580.3 L504.4 575.8 L506.8 571.3 L509.1 566.9 L511.5 562.5 L513.9 558.2 L516.2 553.9 L518.6 549.6 L520.9 545.3 L523.3 541.1 L525.6 537.0 L528.0 532.9 L530.3 528.8 L532.7 524.7 L535.1 520.7 L537.4 516.7 L539.8 512.8 L542.1 508.9 L544.5 505.0 L546.8 501.1 L549.2 497.3 L551.5 493.6 L553.9 489.8 L556.3 486.2 L558.6 482.5 L561.0 478.9 L563.3 475.3 L565.7 471.7 L568.0 468.2 L570.4 464.7 L572.8 461.3 L575.1 457.9 L577.5 454.5 L579.8 451.2 L582.2 447.9 L584.5 444.6 L586.9 441.4 L589.2 438.1 L591.6 435.0 L594.0 431.8 L596.3 428.7 L598.7 425.7 L601.0 422.7 L603.4 419.7 L605.7 416.7 L608.1 413.8 L610.5 410.9 L612.8 408.0 L615.2 405.2 L617.5 402.4 L619.9 399.6 L622.2 396.9 L624.6 394.2 L627.0 391.6 L629.3 388.9 L631.7 386.3 L634.0 383.8 L636.4 381.2 L638.7 378.7 L641.1 376.3 L643.4 373.8 L645.8 371.4 L648.2 369.1 L650.5 366.7 L652.9 364.4 L655.2 362.2 L657.6 359.9 L659.9 357.7 L662.3 355.6 L664.6 353.4 L667.0 351.3 L669.4 349.2 L671.7 347.2 L674.1 345.2 L676.4 343.2 L678.8 341.2 L681.1 339.3 L683.5 337.4 L685.9 335.5 L688.2 333.7 L690.6 331.9 L692.9 330.1 L695.3 328.4 L697.6 326.7 L700.0 325.0 L702.4 323.3 L704.7 321.7 L707.1 320.1 L709.4 318.5 L711.8 317.0 L714.1 315.5 L716.5 314.0 L718.8 312.6 L721.2 311.1 L723.6 309.7 L725.9 308.4 L728.3 307.0 L730.6 305.7 L733.0 304.5 L735.3 303.2 L737.7 302.0 L740.0 300.8 L742.4 299.6 L744.8 298.5 L747.1 297.4 L749.5 296.3 L751.8 295.2 L754.2 294.2 L756.5 293.2 L758.9 292.2 L761.3 291.2 L763.6 290.3 L766.0 289.4 L768.3 288.5 L770.7 287.7 L773.0 286.9 L775.4 286.1 L777.8 285.3 L780.1 284.5 L782.5 283.8 L784.8 283.1 L787.2 282.4 L789.5 281.8 L791.9 281.1 L794.2 280.5 L796.6 279.9 L799.0 279.4 L801.3 278.9 L803.7 278.3 L806.0 277.8 L808.4 277.4 L810.7 276.9 L813.1 276.5 L815.5 276.1 L817.8 275.7 L820.2 275.4 L822.5 275.0 L824.9 274.7 L827.2 274.4 L829.6 274.1 L831.9 273.9 L834.3 273.6 L836.7 273.4 L839.0 273.2 L841.4 273.0 L843.7 272.8 L846.1 272.7 L848.4 272.5 L850.8 272.4 L853.1 272.3 L855.3 272.2" fill="none" stroke="#0000ff" stroke-width="6.2" stroke-linejoin="round"/>
<path d="M501.0 594.0 L502.8 589.1 L504.6 584.2 L506.3 579.3 L508.1 574.5 L509.9 569.7 L511.7 565.0 L513.5 560.4 L515.2 555.7 L517.0 551.2 L518.8 546.6 L520.6 542.1 L522.4 537.7 L524.2 533.3 L525.9 528.9 L527.7 524.6 L529.5 520.4 L531.3 516.1 L533.1 512.0 L534.8 507.8 L536.6 503.7 L538.4 499.7 L540.2 495.7 L542.0 491.7 L543.8 487.8 L545.5 484.0 L547.3 480.1 L549.1 476.3 L550.9 472.6 L552.7 468.9 L554.4 465.2 L556.2 461.6 L558.0 458.0 L559.8 454.5 L561.6 451.0 L563.3 447.6 L565.1 444.1 L566.9 440.8 L568.7 437.4 L570.5 434.2 L572.2 430.9 L574.0 427.7 L575.8 424.5 L577.6 421.4 L579.4 418.3 L581.2 415.3 L582.9 412.3 L584.7 409.3 L586.5 406.4 L588.3 403.5 L590.1 400.6 L591.8 397.8 L593.6 395.0 L595.4 392.3 L597.2 389.6 L599.0 386.9 L600.8 384.3 L602.5 381.7 L604.3 379.2 L606.1 376.7 L607.9 374.2 L609.7 371.8 L611.4 369.4 L613.2 367.0 L615.0 364.7 L616.8 362.4 L618.6 360.1 L620.3 357.9 L622.1 355.7 L623.9 353.6 L625.7 351.5 L627.5 349.4 L629.2 347.3 L631.0 345.3 L632.8 343.4 L634.6 341.4 L636.4 339.5 L638.2 337.6 L639.9 335.8 L641.7 334.0 L643.5 332.2 L645.3 330.5 L647.1 328.8 L648.8 327.1 L650.6 325.4 L652.4 323.8 L654.2 322.3 L656.0 320.7 L657.8 319.2 L659.5 317.7 L661.3 316.3 L663.1 314.8 L664.9 313.4 L666.7 312.1 L668.4 310.8 L670.2 309.5 L672.0 308.2 L673.8 306.9 L675.6 305.7 L677.3 304.5 L679.1 303.4 L680.9 302.3 L682.7 301.2 L684.5 300.1 L686.2 299.0 L688.0 298.0 L689.8 297.0 L691.6 296.1 L693.4 295.1 L695.2 294.2 L696.9 293.4 L698.7 292.5 L700.5 291.7 L702.3 290.9 L704.1 290.1 L705.8 289.3 L707.6 288.6 L709.4 287.9 L711.2 287.2 L713.0 286.6 L714.8 285.9 L716.5 285.3 L718.3 284.7 L720.1 284.2 L721.9 283.6 L723.7 283.1 L725.4 282.6 L727.2 282.1 L729.0 281.7 L730.8 281.3 L732.6 280.8 L734.3 280.4 L736.1 280.1 L737.9 279.7 L739.7 279.4 L741.5 279.1 L743.2 278.8 L745.0 278.5 L746.8 278.2 L748.6 278.0 L750.4 277.8 L752.2 277.5 L753.9 277.3 L755.7 277.2 L757.5 277.0 L759.3 276.9 L761.1 276.7 L762.8 276.6 L764.6 276.5 L766.4 276.4 L768.2 276.3 L770.0 276.2 L771.8 276.2 L773.5 276.1 L775.3 276.1 L777.1 276.1 L778.9 276.0 L780.7 276.0 L782.4 276.0 L784.2 276.0 L786.0 276.0 L787.5 276.0 L789.0 276.1 L790.5 276.2 L792.0 276.3 L793.5 276.5 L795.1 276.7 L796.6 276.9 L798.1 277.2 L799.6 277.5 L801.1 277.9 L802.6 278.3 L804.1 278.7 L805.6 279.2 L807.1 279.7 L808.6 280.2 L810.1 280.8 L811.7 281.4 L813.2 282.1 L814.7 282.8 L816.2 283.5 L817.7 284.3 L819.2 285.1 L820.7 286.0 L822.2 286.9 L823.7 287.8 L825.2 288.7 L826.7 289.7 L828.3 290.8 L829.8 291.8 L831.3 293.0 L832.8 294.1 L834.3 295.3 L835.8 296.5 L837.3 297.8 L838.8 299.1 L840.3 300.4 L841.8 301.8 L843.3 303.2 L844.9 304.7 L846.4 306.1 L847.9 307.7 L849.4 309.2 L850.9 310.8 L852.4 312.5 L853.9 314.2 L855.4 315.9 L856.9 317.6 L858.4 319.4 L859.9 321.2 L861.5 323.1 L863.0 325.0 L864.5 327.0 L866.0 328.9 L867.5 330.9 L869.0 333.0" fill="none" stroke="#0000ff" stroke-width="6.2" stroke-linejoin="round"/>
<path d="M507.0 594.0 L509.4 589.5 L511.7 585.1 L514.1 580.7 L516.4 576.4 L518.8 572.0 L521.1 567.7 L523.5 563.5 L525.9 559.3 L528.2 555.1 L530.6 551.0 L532.9 546.9 L535.3 542.8 L537.6 538.7 L540.0 534.7 L542.3 530.8 L544.7 526.9 L547.1 523.0 L549.4 519.1 L551.8 515.3 L554.1 511.5 L556.5 507.7 L558.8 504.0 L561.2 500.3 L563.5 496.7 L565.9 493.1 L568.3 489.5 L570.6 486.0 L573.0 482.4 L575.3 479.0 L577.7 475.5 L580.0 472.1 L582.4 468.8 L584.8 465.4 L587.1 462.1 L589.5 458.8 L591.8 455.6 L594.2 452.4 L596.5 449.2 L598.9 446.1 L601.2 443.0 L603.6 439.9 L606.0 436.9 L608.3 433.9 L610.7 430.9 L613.0 428.0 L615.4 425.1 L617.7 422.2 L620.1 419.4 L622.5 416.6 L624.8 413.8 L627.2 411.1 L629.5 408.3 L631.9 405.7 L634.2 403.0 L636.6 400.4 L639.0 397.8 L641.3 395.3 L643.7 392.8 L646.0 390.3 L648.4 387.8 L650.7 385.4 L653.1 383.0 L655.4 380.7 L657.8 378.4 L660.2 376.1 L662.5 373.8 L664.9 371.6 L667.2 369.4 L669.6 367.2 L671.9 365.1 L674.3 363.0 L676.6 360.9 L679.0 358.8 L681.4 356.8 L683.7 354.8 L686.1 352.9 L688.4 351.0 L690.8 349.1 L693.1 347.2 L695.5 345.4 L697.9 343.5 L700.2 341.8 L702.6 340.0 L704.9 338.3 L707.3 336.6 L709.6 335.0 L712.0 333.3 L714.4 331.7 L716.7 330.1 L719.1 328.6 L721.4 327.1 L723.8 325.6 L726.1 324.1 L728.5 322.7 L730.8 321.3 L733.2 319.9 L735.6 318.6 L737.9 317.3 L740.3 316.0 L742.6 314.7 L745.0 313.5 L747.3 312.2 L749.7 311.1 L752.0 309.9 L754.4 308.8 L756.8 307.7 L759.1 306.6 L761.5 305.5 L763.8 304.5 L766.2 303.5 L768.5 302.5 L770.9 301.6 L773.3 300.6 L775.6 299.7 L778.0 298.9 L780.3 298.0 L782.7 297.2 L785.0 296.4 L787.4 295.6 L789.8 294.9 L792.1 294.1 L794.5 293.4 L796.8 292.8 L799.2 292.1 L801.5 291.5 L803.9 290.9 L806.2 290.3 L808.6 289.7 L811.0 289.2 L813.3 288.6 L815.7 288.1 L818.0 287.7 L820.4 287.2 L822.7 286.8 L825.1 286.4 L827.5 286.0 L829.8 285.6 L832.2 285.3 L834.5 284.9 L836.9 284.6 L839.2 284.3 L841.6 284.1 L843.9 283.8 L846.3 283.6 L848.7 283.3 L851.0 283.2 L853.4 283.0 L855.7 282.8 L857.7 282.7" fill="none" stroke="#0000ff" stroke-width="6.2" stroke-linejoin="round"/>
<path d="M513.0 594.0 L514.8 589.2 L516.5 584.4 L518.3 579.7 L520.0 575.0 L521.8 570.3 L523.5 565.7 L525.3 561.2 L527.0 556.7 L528.8 552.2 L530.6 547.8 L532.3 543.4 L534.1 539.1 L535.8 534.8 L537.6 530.6 L539.3 526.4 L541.1 522.2 L542.9 518.1 L544.6 514.0 L546.4 510.0 L548.1 506.0 L549.9 502.1 L551.6 498.2 L553.4 494.3 L555.1 490.5 L556.9 486.7 L558.7 483.0 L560.4 479.3 L562.2 475.6 L563.9 472.0 L565.7 468.5 L567.4 464.9 L569.2 461.5 L571.0 458.0 L572.7 454.6 L574.5 451.2 L576.2 447.9 L578.0 444.6 L579.7 441.4 L581.5 438.2 L583.2 435.0 L585.0 431.9 L586.8 428.8 L588.5 425.8 L590.3 422.7 L592.0 419.8 L593.8 416.8 L595.5 413.9 L597.3 411.1 L599.1 408.3 L600.8 405.5 L602.6 402.7 L604.3 400.0 L606.1 397.4 L607.8 394.7 L609.6 392.2 L611.4 389.6 L613.1 387.1 L614.9 384.6 L616.6 382.1 L618.4 379.7 L620.1 377.4 L621.9 375.0 L623.6 372.7 L625.4 370.4 L627.2 368.2 L628.9 366.0 L630.7 363.8 L632.4 361.7 L634.2 359.6 L635.9 357.6 L637.7 355.5 L639.5 353.5 L641.2 351.6 L643.0 349.7 L644.7 347.8 L646.5 345.9 L648.2 344.1 L650.0 342.3 L651.7 340.5 L653.5 338.8 L655.3 337.1 L657.0 335.4 L658.8 333.8 L660.5 332.2 L662.3 330.6 L664.0 329.1 L665.8 327.6 L667.5 326.1 L669.3 324.7 L671.1 323.2 L672.8 321.9 L674.6 320.5 L676.3 319.2 L678.1 317.9 L679.8 316.6 L681.6 315.4 L683.4 314.2 L685.1 313.0 L686.9 311.8 L688.6 310.7 L690.4 309.6 L692.1 308.5 L693.9 307.5 L695.6 306.5 L697.4 305.5 L699.2 304.5 L700.9 303.6 L702.7 302.7 L704.4 301.8 L706.2 300.9 L707.9 300.1 L709.7 299.3 L711.5 298.5 L713.2 297.7 L715.0 297.0 L716.7 296.3 L718.5 295.6 L720.2 294.9 L722.0 294.3 L723.8 293.7 L725.5 293.1 L727.3 292.5 L729.0 292.0 L730.8 291.4 L732.5 290.9 L734.3 290.5 L736.0 290.0 L737.8 289.5 L739.6 289.1 L741.3 288.7 L743.1 288.3 L744.8 288.0 L746.6 287.6 L748.3 287.3 L750.1 287.0 L751.9 286.7 L753.6 286.4 L755.4 286.2 L757.1 285.9 L758.9 285.7 L760.6 285.5 L762.4 285.3 L764.1 285.1 L765.9 285.0 L767.7 284.8 L769.4 284.7 L771.2 284.6 L772.9 284.5 L774.7 284.4 L776.4 284.3 L778.2 284.2 L779.9 284.2 L781.7 284.1 L783.5 284.1 L785.2 284.1 L787.0 284.0 L788.7 284.0 L790.5 284.0 L792.2 284.0 L794.0 284.0 L795.5 284.0 L797.0 284.1 L798.6 284.2 L800.1 284.4 L801.6 284.6 L803.1 284.8 L804.6 285.1 L806.2 285.4 L807.7 285.8 L809.2 286.2 L810.7 286.7 L812.2 287.2 L813.8 287.7 L815.3 288.3 L816.8 288.9 L818.3 289.6 L819.8 290.4 L821.4 291.1 L822.9 291.9 L824.4 292.8 L825.9 293.7 L827.4 294.6 L829.0 295.6 L830.5 296.7 L832.0 297.8 L833.5 298.9 L835.0 300.0 L836.6 301.2 L838.1 302.5 L839.6 303.8 L841.1 305.1 L842.6 306.5 L844.2 308.0 L845.7 309.4 L847.2 311.0 L848.7 312.5 L850.2 314.1 L851.8 315.8 L853.3 317.5 L854.8 319.2 L856.3 321.0 L857.8 322.8 L859.4 324.7 L860.9 326.6 L862.4 328.5 L863.9 330.6 L865.4 332.6 L867.0 334.7 L868.5 336.8 L870.0 339.0" fill="none" stroke="#0000ff" stroke-width="6.2" stroke-linejoin="round"/>
<path d="M519.0 594.0 L521.4 589.7 L523.7 585.4 L526.1 581.1 L528.4 576.9 L530.8 572.7 L533.1 568.6 L535.5 564.5 L537.9 560.4 L540.2 556.3 L542.6 552.3 L544.9 548.4 L547.3 544.4 L549.6 540.5 L552.0 536.6 L554.3 532.8 L556.7 529.0 L559.1 525.2 L561.4 521.5 L563.8 517.8 L566.1 514.1 L568.5 510.5 L570.8 506.9 L573.2 503.3 L575.5 499.8 L577.9 496.3 L580.3 492.9 L582.6 489.4 L585.0 486.0 L587.3 482.7 L589.7 479.3 L592.0 476.0 L594.4 472.8 L596.8 469.5 L599.1 466.3 L601.5 463.2 L603.8 460.0 L606.2 456.9 L608.5 453.9 L610.9 450.8 L613.2 447.8 L615.6 444.9 L618.0 441.9 L620.3 439.0 L622.7 436.1 L625.0 433.3 L627.4 430.5 L629.7 427.7 L632.1 425.0 L634.5 422.2 L636.8 419.6 L639.2 416.9 L641.5 414.3 L643.9 411.7 L646.2 409.1 L648.6 406.6 L651.0 404.1 L653.3 401.7 L655.7 399.2 L658.0 396.8 L660.4 394.5 L662.7 392.1 L665.1 389.8 L667.4 387.5 L669.8 385.3 L672.2 383.1 L674.5 380.9 L676.9 378.7 L679.2 376.6 L681.6 374.5 L683.9 372.4 L686.3 370.4 L688.6 368.4 L691.0 366.4 L693.4 364.4 L695.7 362.5 L698.1 360.6 L700.4 358.7 L702.8 356.9 L705.1 355.1 L707.5 353.3 L709.9 351.6 L712.2 349.9 L714.6 348.2 L716.9 346.5 L719.3 344.9 L721.6 343.3 L724.0 341.7 L726.4 340.1 L728.7 338.6 L731.1 337.1 L733.4 335.6 L735.8 334.2 L738.1 332.8 L740.5 331.4 L742.8 330.0 L745.2 328.7 L747.6 327.4 L749.9 326.1 L752.3 324.9 L754.6 323.6 L757.0 322.4 L759.3 321.3 L761.7 320.1 L764.0 319.0 L766.4 317.9 L768.8 316.8 L771.1 315.8 L773.5 314.8 L775.8 313.8 L778.2 312.8 L780.5 311.9 L782.9 310.9 L785.3 310.0 L787.6 309.2 L790.0 308.3 L792.3 307.5 L794.7 306.7 L797.0 305.9 L799.4 305.2 L801.8 304.5 L804.1 303.7 L806.5 303.1 L808.8 302.4 L811.2 301.8 L813.5 301.2 L815.9 300.6 L818.2 300.0 L820.6 299.5 L823.0 298.9 L825.3 298.4 L827.7 297.9 L830.0 297.5 L832.4 297.0 L834.7 296.6 L837.1 296.2 L839.5 295.8 L841.8 295.5 L844.2 295.1 L846.5 294.8 L848.9 294.5 L851.2 294.2 L853.6 294.0 L855.9 293.7 L858.3 293.5 L860.2 293.3" fill="none" stroke="#0000ff" stroke-width="6.2" stroke-linejoin="round"/>
<path d="M525.0 594.0 L526.7 589.3 L528.5 584.7 L530.2 580.1 L531.9 575.6 L533.7 571.1 L535.4 566.7 L537.1 562.3 L538.9 557.9 L540.6 553.6 L542.3 549.3 L544.0 545.1 L545.8 540.9 L547.5 536.7 L549.2 532.6 L551.0 528.6 L552.7 524.5 L554.4 520.5 L556.2 516.6 L557.9 512.7 L559.6 508.9 L561.4 505.0 L563.1 501.3 L564.8 497.5 L566.5 493.8 L568.3 490.2 L570.0 486.6 L571.7 483.0 L573.5 479.5 L575.2 476.0 L576.9 472.5 L578.7 469.1 L580.4 465.7 L582.1 462.4 L583.9 459.1 L585.6 455.8 L587.3 452.6 L589.1 449.4 L590.8 446.3 L592.5 443.2 L594.2 440.1 L596.0 437.1 L597.7 434.1 L599.4 431.2 L601.2 428.3 L602.9 425.4 L604.6 422.6 L606.4 419.8 L608.1 417.0 L609.8 414.3 L611.6 411.6 L613.3 408.9 L615.0 406.3 L616.8 403.7 L618.5 401.2 L620.2 398.7 L622.0 396.2 L623.7 393.8 L625.4 391.3 L627.1 389.0 L628.9 386.6 L630.6 384.3 L632.3 382.1 L634.1 379.9 L635.8 377.7 L637.5 375.5 L639.3 373.4 L641.0 371.3 L642.7 369.2 L644.5 367.2 L646.2 365.2 L647.9 363.2 L649.6 361.3 L651.4 359.4 L653.1 357.5 L654.8 355.7 L656.6 353.9 L658.3 352.1 L660.0 350.4 L661.8 348.7 L663.5 347.0 L665.2 345.4 L667.0 343.8 L668.7 342.2 L670.4 340.7 L672.2 339.1 L673.9 337.6 L675.6 336.2 L677.4 334.8 L679.1 333.4 L680.8 332.0 L682.5 330.6 L684.3 329.3 L686.0 328.0 L687.7 326.8 L689.5 325.6 L691.2 324.4 L692.9 323.2 L694.7 322.0 L696.4 320.9 L698.1 319.8 L699.9 318.8 L701.6 317.7 L703.3 316.7 L705.0 315.7 L706.8 314.8 L708.5 313.9 L710.2 312.9 L712.0 312.1 L713.7 311.2 L715.4 310.4 L717.2 309.6 L718.9 308.8 L720.6 308.0 L722.4 307.3 L724.1 306.6 L725.8 305.9 L727.6 305.2 L729.3 304.6 L731.0 304.0 L732.8 303.4 L734.5 302.8 L736.2 302.2 L737.9 301.7 L739.7 301.2 L741.4 300.7 L743.1 300.2 L744.9 299.8 L746.6 299.4 L748.3 299.0 L750.1 298.6 L751.8 298.2 L753.5 297.8 L755.3 297.5 L757.0 297.2 L758.7 296.9 L760.5 296.6 L762.2 296.4 L763.9 296.1 L765.6 295.9 L767.4 295.7 L769.1 295.5 L770.8 295.3 L772.6 295.1 L774.3 294.9 L776.0 294.8 L777.8 294.7 L779.5 294.6 L781.2 294.5 L783.0 294.4 L784.7 294.3 L786.4 294.2 L788.1 294.2 L789.9 294.1 L791.6 294.1 L793.3 294.1 L795.1 294.0 L796.8 294.0 L798.5 294.0 L800.3 294.0 L802.0 294.0 L803.5 294.0 L805.0 294.1 L806.5 294.2 L808.0 294.4 L809.6 294.6 L811.1 294.9 L812.6 295.2 L814.1 295.6 L815.6 296.0 L817.1 296.5 L818.6 297.0 L820.1 297.6 L821.6 298.3 L823.2 298.9 L824.7 299.7 L826.2 300.4 L827.7 301.3 L829.2 302.2 L830.7 303.1 L832.2 304.1 L833.7 305.1 L835.2 306.2 L836.8 307.3 L838.3 308.5 L839.8 309.7 L841.3 311.0 L842.8 312.4 L844.3 313.7 L845.8 315.2 L847.3 316.7 L848.8 318.2 L850.4 319.8 L851.9 321.4 L853.4 323.1 L854.9 324.9 L856.4 326.6 L857.9 328.5 L859.4 330.4 L860.9 332.3 L862.4 334.3 L864.0 336.3 L865.5 338.4 L867.0 340.6 L868.5 342.8 L870.0 345.0" fill="none" stroke="#0000ff" stroke-width="6.2" stroke-linejoin="round"/>
<path d="M530.0 594.0 L532.3 589.8 L534.7 585.7 L537.0 581.6 L539.4 577.5 L541.7 573.4 L544.1 569.4 L546.4 565.4 L548.8 561.5 L551.1 557.6 L553.4 553.7 L555.8 549.9 L558.1 546.1 L560.5 542.3 L562.8 538.5 L565.2 534.8 L567.5 531.2 L569.8 527.5 L572.2 523.9 L574.5 520.3 L576.9 516.8 L579.2 513.3 L581.6 509.8 L583.9 506.3 L586.2 502.9 L588.6 499.5 L590.9 496.2 L593.3 492.9 L595.6 489.6 L598.0 486.3 L600.3 483.1 L602.7 479.9 L605.0 476.8 L607.3 473.7 L609.7 470.6 L612.0 467.5 L614.4 464.5 L616.7 461.5 L619.1 458.5 L621.4 455.6 L623.8 452.7 L626.1 449.8 L628.4 447.0 L630.8 444.1 L633.1 441.4 L635.5 438.6 L637.8 435.9 L640.2 433.2 L642.5 430.6 L644.8 427.9 L647.2 425.3 L649.5 422.8 L651.9 420.2 L654.2 417.7 L656.6 415.3 L658.9 412.8 L661.2 410.4 L663.6 408.0 L665.9 405.7 L668.3 403.4 L670.6 401.1 L673.0 398.8 L675.3 396.6 L677.7 394.4 L680.0 392.2 L682.3 390.0 L684.7 387.9 L687.0 385.8 L689.4 383.8 L691.7 381.7 L694.1 379.7 L696.4 377.8 L698.8 375.8 L701.1 373.9 L703.4 372.0 L705.8 370.2 L708.1 368.3 L710.5 366.5 L712.8 364.8 L715.2 363.0 L717.5 361.3 L719.8 359.6 L722.2 357.9 L724.5 356.3 L726.9 354.7 L729.2 353.1 L731.6 351.6 L733.9 350.0 L736.2 348.5 L738.6 347.1 L740.9 345.6 L743.3 344.2 L745.6 342.8 L748.0 341.4 L750.3 340.1 L752.7 338.8 L755.0 337.5 L757.3 336.2 L759.7 335.0 L762.0 333.8 L764.4 332.6 L766.7 331.4 L769.1 330.3 L771.4 329.2 L773.8 328.1 L776.1 327.0 L778.4 326.0 L780.8 325.0 L783.1 324.0 L785.5 323.1 L787.8 322.1 L790.2 321.2 L792.5 320.3 L794.8 319.4 L797.2 318.6 L799.5 317.8 L801.9 317.0 L804.2 316.2 L806.6 315.5 L808.9 314.7 L811.2 314.0 L813.6 313.4 L815.9 312.7 L818.3 312.1 L820.6 311.4 L823.0 310.9 L825.3 310.3 L827.7 309.7 L830.0 309.2 L832.3 308.7 L834.7 308.2 L837.0 307.7 L839.4 307.3 L841.7 306.9 L844.1 306.5 L846.4 306.1 L848.8 305.7 L851.1 305.4 L853.4 305.0 L855.8 304.7 L858.1 304.4 L860.5 304.2 L862.7 303.9" fill="none" stroke="#0000ff" stroke-width="6.2" stroke-linejoin="round"/>
<path d="M470.0 594.0 L472.2 588.8 L474.4 583.6 L476.6 578.5 L478.8 573.4 L480.9 568.4 L483.1 563.4 L485.3 558.5 L487.5 553.6 L489.7 548.7 L491.9 543.9 L494.1 539.2 L496.2 534.4 L498.4 529.8 L500.6 525.1 L502.8 520.6 L505.0 516.0 L507.2 511.5 L509.4 507.1 L511.6 502.7 L513.8 498.3 L515.9 494.0 L518.1 489.7 L520.3 485.5 L522.5 481.3 L524.7 477.1 L526.9 473.0 L529.1 469.0 L531.2 464.9 L533.4 461.0 L535.6 457.0 L537.8 453.1 L540.0 449.3 L542.2 445.5 L544.4 441.7 L546.6 438.0 L548.8 434.3 L550.9 430.7 L553.1 427.1 L555.3 423.5 L557.5 420.0 L559.7 416.5 L561.9 413.1 L564.1 409.7 L566.2 406.3 L568.4 403.0 L570.6 399.7 L572.8 396.5 L575.0 393.3 L577.2 390.1 L579.4 387.0 L581.6 383.9 L583.8 380.9 L585.9 377.9 L588.1 374.9 L590.3 372.0 L592.5 369.1 L594.7 366.3 L596.9 363.5 L599.1 360.7 L601.2 358.0 L603.4 355.3 L605.6 352.6 L607.8 350.0 L610.0 347.4 L612.2 344.9 L614.4 342.4 L616.6 339.9 L618.8 337.5 L620.9 335.1 L623.1 332.7 L625.3 330.4 L627.5 328.1 L629.7 325.9 L631.9 323.7 L634.1 321.5 L636.2 319.3 L638.4 317.2 L640.6 315.2 L642.8 313.1 L645.0 311.1 L647.2 309.2 L649.4 307.2 L651.6 305.3 L653.8 303.5 L655.9 301.6 L658.1 299.8 L660.3 298.1 L662.5 296.3 L664.7 294.7 L666.9 293.0 L669.1 291.4 L671.2 289.8 L673.4 288.2 L675.6 286.7 L677.8 285.2 L680.0 283.7 L682.2 282.3 L684.4 280.9 L686.6 279.5 L688.8 278.2 L690.9 276.8 L693.1 275.6 L695.3 274.3 L697.5 273.1 L699.7 271.9 L701.9 270.7 L704.1 269.6 L706.2 268.5 L708.4 267.4 L710.6 266.4 L712.8 265.4 L715.0 264.4 L717.2 263.4 L719.4 262.5 L721.6 261.6 L723.8 260.7 L725.9 259.9 L728.1 259.1 L730.3 258.3 L732.5 257.5 L734.7 256.8 L736.9 256.1 L739.1 255.4 L741.2 254.7 L743.4 254.1 L745.6 253.5 L747.8 252.9 L750.0 252.3 L752.2 251.8 L754.4 251.3 L756.6 250.8 L758.8 250.3 L760.9 249.9 L763.1 249.5 L765.3 249.1 L767.5 248.7 L769.7 248.3 L771.9 248.0 L774.1 247.7 L776.2 247.4 L778.4 247.1 L780.6 246.8 L782.8 246.6 L785.0 246.4 L787.2 246.2 L789.4 246.0 L791.6 245.8 L793.8 245.7 L795.9 245.6 L798.1 245.4 L800.3 245.3 L802.5 245.3 L804.7 245.2 L806.9 245.1 L809.1 245.1 L811.2 245.0 L813.4 245.0 L815.6 245.0 L817.8 245.0 L820.0 245.0 L821.5 245.0 L823.1 245.1 L824.6 245.2 L826.2 245.4 L827.7 245.6 L829.2 245.9 L830.8 246.2 L832.3 246.6 L833.8 247.0 L835.4 247.5 L836.9 248.0 L838.5 248.6 L840.0 249.2 L841.5 249.9 L843.1 250.7 L844.6 251.4 L846.2 252.3 L847.7 253.1 L849.2 254.1 L850.8 255.1 L851.3 255.4" fill="none" stroke="#0000ff" stroke-width="6.2" stroke-linejoin="round"/>
<path d="M486.0 594.0 L488.2 588.9 L490.4 583.8 L492.5 578.7 L494.7 573.7 L496.9 568.8 L499.1 563.8 L501.3 559.0 L503.4 554.2 L505.6 549.4 L507.8 544.6 L510.0 539.9 L512.2 535.3 L514.4 530.7 L516.5 526.1 L518.7 521.6 L520.9 517.1 L523.1 512.7 L525.3 508.3 L527.4 504.0 L529.6 499.7 L531.8 495.4 L534.0 491.2 L536.2 487.0 L538.4 482.9 L540.5 478.8 L542.7 474.8 L544.9 470.8 L547.1 466.8 L549.3 462.9 L551.4 459.0 L553.6 455.2 L555.8 451.4 L558.0 447.6 L560.2 443.9 L562.3 440.2 L564.5 436.6 L566.7 433.0 L568.9 429.4 L571.1 425.9 L573.2 422.5 L575.4 419.0 L577.6 415.6 L579.8 412.3 L582.0 409.0 L584.2 405.7 L586.3 402.5 L588.5 399.3 L590.7 396.1 L592.9 393.0 L595.1 390.0 L597.2 386.9 L599.4 383.9 L601.6 381.0 L603.8 378.1 L606.0 375.2 L608.1 372.3 L610.3 369.5 L612.5 366.8 L614.7 364.0 L616.9 361.3 L619.1 358.7 L621.2 356.1 L623.4 353.5 L625.6 351.0 L627.8 348.4 L630.0 346.0 L632.1 343.5 L634.3 341.2 L636.5 338.8 L638.7 336.5 L640.9 334.2 L643.0 331.9 L645.2 329.7 L647.4 327.5 L649.6 325.4 L651.8 323.3 L654.0 321.2 L656.1 319.2 L658.3 317.1 L660.5 315.2 L662.7 313.2 L664.9 311.3 L667.0 309.5 L669.2 307.6 L671.4 305.8 L673.6 304.1 L675.8 302.3 L678.0 300.6 L680.1 298.9 L682.3 297.3 L684.5 295.7 L686.7 294.1 L688.9 292.6 L691.0 291.1 L693.2 289.6 L695.4 288.2 L697.6 286.7 L699.8 285.4 L701.9 284.0 L704.1 282.7 L706.3 281.4 L708.5 280.1 L710.7 278.9 L712.9 277.7 L715.0 276.5 L717.2 275.4 L719.4 274.3 L721.6 273.2 L723.8 272.1 L725.9 271.1 L728.1 270.1 L730.3 269.1 L732.5 268.2 L734.7 267.3 L736.8 266.4 L739.0 265.5 L741.2 264.7 L743.4 263.9 L745.6 263.1 L747.8 262.3 L749.9 261.6 L752.1 260.9 L754.3 260.2 L756.5 259.6 L758.7 259.0 L760.8 258.4 L763.0 257.8 L765.2 257.2 L767.4 256.7 L769.6 256.2 L771.7 255.7 L773.9 255.2 L776.1 254.8 L778.3 254.4 L780.5 254.0 L782.6 253.6 L784.8 253.3 L787.0 252.9 L789.2 252.6 L791.4 252.3 L793.6 252.1 L795.7 251.8 L797.9 251.6 L800.1 251.4 L802.3 251.2 L804.5 251.0 L806.6 250.8 L808.8 250.7 L811.0 250.6 L813.2 250.4 L815.4 250.3 L817.5 250.3 L819.7 250.2 L821.9 250.1 L824.1 250.1 L826.3 250.0 L828.5 250.0 L830.6 250.0 L832.8 250.0 L835.0 250.0 L836.5 250.1 L838.0 250.2 L839.5 250.5 L841.0 250.9 L842.5 251.4 L844.0 252.0 L845.5 252.7 L847.0 253.6 L848.5 254.5 L850.0 255.6 L851.5 256.7 L851.7 256.9" fill="none" stroke="#0000ff" stroke-width="6.2" stroke-linejoin="round"/>
<path d="M498.0 594.0 L500.2 589.0 L502.3 583.9 L504.5 579.0 L506.7 574.1 L508.8 569.2 L511.0 564.4 L513.2 559.6 L515.4 554.9 L517.5 550.2 L519.7 545.5 L521.9 540.9 L524.0 536.3 L526.2 531.8 L528.4 527.3 L530.5 522.9 L532.7 518.5 L534.9 514.1 L537.0 509.8 L539.2 505.5 L541.4 501.3 L543.5 497.1 L545.7 493.0 L547.9 488.9 L550.0 484.8 L552.2 480.8 L554.4 476.8 L556.6 472.9 L558.7 469.0 L560.9 465.2 L563.1 461.3 L565.2 457.6 L567.4 453.8 L569.6 450.2 L571.7 446.5 L573.9 442.9 L576.1 439.3 L578.2 435.8 L580.4 432.3 L582.6 428.9 L584.8 425.5 L586.9 422.1 L589.1 418.8 L591.3 415.5 L593.4 412.2 L595.6 409.0 L597.8 405.8 L599.9 402.7 L602.1 399.6 L604.3 396.5 L606.4 393.5 L608.6 390.5 L610.8 387.6 L612.9 384.7 L615.1 381.8 L617.3 379.0 L619.5 376.2 L621.6 373.4 L623.8 370.7 L626.0 368.0 L628.1 365.4 L630.3 362.8 L632.5 360.2 L634.6 357.7 L636.8 355.2 L639.0 352.7 L641.1 350.3 L643.3 347.9 L645.5 345.6 L647.6 343.2 L649.8 341.0 L652.0 338.7 L654.1 336.5 L656.3 334.3 L658.5 332.2 L660.7 330.1 L662.8 328.0 L665.0 326.0 L667.2 323.9 L669.3 322.0 L671.5 320.0 L673.7 318.1 L675.8 316.3 L678.0 314.4 L680.2 312.6 L682.3 310.8 L684.5 309.1 L686.7 307.4 L688.9 305.7 L691.0 304.1 L693.2 302.5 L695.4 300.9 L697.5 299.4 L699.7 297.8 L701.9 296.4 L704.0 294.9 L706.2 293.5 L708.4 292.1 L710.5 290.7 L712.7 289.4 L714.9 288.1 L717.0 286.8 L719.2 285.6 L721.4 284.4 L723.5 283.2 L725.7 282.1 L727.9 280.9 L730.1 279.8 L732.2 278.8 L734.4 277.7 L736.6 276.7 L738.7 275.7 L740.9 274.8 L743.1 273.9 L745.2 273.0 L747.4 272.1 L749.6 271.3 L751.7 270.4 L753.9 269.6 L756.1 268.9 L758.2 268.1 L760.4 267.4 L762.6 266.7 L764.8 266.1 L766.9 265.4 L769.1 264.8 L771.3 264.2 L773.4 263.6 L775.6 263.1 L777.8 262.6 L779.9 262.1 L782.1 261.6 L784.3 261.2 L786.4 260.7 L788.6 260.3 L790.8 259.9 L793.0 259.6 L795.1 259.2 L797.3 258.9 L799.5 258.6 L801.6 258.3 L803.8 258.0 L806.0 257.8 L808.1 257.6 L810.3 257.3 L812.5 257.2 L814.6 257.0 L816.8 256.8 L819.0 256.7 L821.1 256.5 L823.3 256.4 L825.5 256.3 L827.6 256.3 L829.8 256.2 L832.0 256.1 L834.2 256.1 L836.3 256.0 L838.5 256.0 L840.7 256.0 L842.8 256.0 L845.0 256.0 L846.6 256.1 L848.2 256.5 L849.8 257.2 L851.3 258.1 L852.1 258.7" fill="none" stroke="#0000ff" stroke-width="6.2" stroke-linejoin="round"/>
<path d="M510.0 594.0 L512.1 589.1 L514.2 584.2 L516.4 579.4 L518.5 574.6 L520.6 569.9 L522.8 565.2 L524.9 560.5 L527.0 555.9 L529.1 551.3 L531.2 546.8 L533.4 542.3 L535.5 537.9 L537.6 533.5 L539.8 529.1 L541.9 524.8 L544.0 520.5 L546.1 516.3 L548.2 512.1 L550.4 507.9 L552.5 503.8 L554.6 499.7 L556.8 495.7 L558.9 491.7 L561.0 487.7 L563.1 483.8 L565.2 480.0 L567.4 476.1 L569.5 472.3 L571.6 468.6 L573.8 464.9 L575.9 461.2 L578.0 457.6 L580.1 454.0 L582.2 450.4 L584.4 446.9 L586.5 443.5 L588.6 440.0 L590.8 436.6 L592.9 433.3 L595.0 429.9 L597.1 426.7 L599.2 423.4 L601.4 420.2 L603.5 417.1 L605.6 413.9 L607.8 410.8 L609.9 407.8 L612.0 404.8 L614.1 401.8 L616.2 398.9 L618.4 396.0 L620.5 393.1 L622.6 390.3 L624.8 387.5 L626.9 384.7 L629.0 382.0 L631.1 379.3 L633.2 376.7 L635.4 374.1 L637.5 371.5 L639.6 369.0 L641.8 366.4 L643.9 364.0 L646.0 361.6 L648.1 359.2 L650.2 356.8 L652.4 354.5 L654.5 352.2 L656.6 349.9 L658.8 347.7 L660.9 345.5 L663.0 343.4 L665.1 341.2 L667.2 339.1 L669.4 337.1 L671.5 335.1 L673.6 333.1 L675.8 331.1 L677.9 329.2 L680.0 327.3 L682.1 325.5 L684.2 323.7 L686.4 321.9 L688.5 320.1 L690.6 318.4 L692.8 316.7 L694.9 315.0 L697.0 313.4 L699.1 311.8 L701.2 310.2 L703.4 308.7 L705.5 307.2 L707.6 305.7 L709.8 304.3 L711.9 302.9 L714.0 301.5 L716.1 300.1 L718.2 298.8 L720.4 297.5 L722.5 296.3 L724.6 295.0 L726.8 293.8 L728.9 292.6 L731.0 291.5 L733.1 290.4 L735.2 289.3 L737.4 288.2 L739.5 287.2 L741.6 286.2 L743.8 285.2 L745.9 284.2 L748.0 283.3 L750.1 282.4 L752.2 281.5 L754.4 280.7 L756.5 279.8 L758.6 279.0 L760.8 278.3 L762.9 277.5 L765.0 276.8 L767.1 276.1 L769.2 275.4 L771.4 274.8 L773.5 274.2 L775.6 273.6 L777.8 273.0 L779.9 272.4 L782.0 271.9 L784.1 271.4 L786.2 270.9 L788.4 270.5 L790.5 270.0 L792.6 269.6 L794.8 269.2 L796.9 268.8 L799.0 268.5 L801.1 268.1 L803.2 267.8 L805.4 267.5 L807.5 267.2 L809.6 267.0 L811.8 266.7 L813.9 266.5 L816.0 266.3 L818.1 266.1 L820.2 266.0 L822.4 265.8 L824.5 265.7 L826.6 265.5 L828.8 265.4 L830.9 265.3 L833.0 265.2 L835.1 265.2 L837.2 265.1 L839.4 265.1 L841.5 265.0 L843.6 265.0 L845.8 265.0 L847.9 265.0 L850.0 265.0 L851.6 265.2 L853.2 265.7 L853.8 266.0" fill="none" stroke="#0000ff" stroke-width="6.2" stroke-linejoin="round"/>
<path d="M522.0 594.0 L524.1 589.2 L526.2 584.4 L528.2 579.7 L530.3 575.0 L532.4 570.4 L534.5 565.8 L536.6 561.2 L538.7 556.7 L540.7 552.2 L542.8 547.8 L544.9 543.4 L547.0 539.1 L549.1 534.7 L551.1 530.5 L553.2 526.2 L555.3 522.1 L557.4 517.9 L559.5 513.8 L561.5 509.7 L563.6 505.7 L565.7 501.7 L567.8 497.8 L569.9 493.9 L572.0 490.0 L574.0 486.2 L576.1 482.4 L578.2 478.6 L580.3 474.9 L582.4 471.3 L584.4 467.6 L586.5 464.0 L588.6 460.5 L590.7 457.0 L592.8 453.5 L594.8 450.1 L596.9 446.7 L599.0 443.3 L601.1 440.0 L603.2 436.7 L605.2 433.4 L607.3 430.2 L609.4 427.1 L611.5 423.9 L613.6 420.8 L615.7 417.8 L617.7 414.7 L619.8 411.8 L621.9 408.8 L624.0 405.9 L626.1 403.0 L628.1 400.2 L630.2 397.4 L632.3 394.6 L634.4 391.9 L636.5 389.2 L638.5 386.5 L640.6 383.9 L642.7 381.3 L644.8 378.7 L646.9 376.2 L649.0 373.7 L651.0 371.3 L653.1 368.9 L655.2 366.5 L657.3 364.2 L659.4 361.8 L661.4 359.6 L663.5 357.3 L665.6 355.1 L667.7 352.9 L669.8 350.8 L671.9 348.7 L673.9 346.6 L676.0 344.6 L678.1 342.6 L680.2 340.6 L682.3 338.6 L684.3 336.7 L686.4 334.9 L688.5 333.0 L690.6 331.2 L692.7 329.4 L694.7 327.7 L696.8 325.9 L698.9 324.3 L701.0 322.6 L703.1 321.0 L705.1 319.4 L707.2 317.8 L709.3 316.3 L711.4 314.8 L713.5 313.3 L715.6 311.9 L717.6 310.4 L719.7 309.1 L721.8 307.7 L723.9 306.4 L726.0 305.1 L728.0 303.8 L730.1 302.6 L732.2 301.4 L734.3 300.2 L736.4 299.0 L738.5 297.9 L740.5 296.8 L742.6 295.8 L744.7 294.7 L746.8 293.7 L748.9 292.7 L750.9 291.7 L753.0 290.8 L755.1 289.9 L757.2 289.0 L759.3 288.2 L761.3 287.3 L763.4 286.5 L765.5 285.7 L767.6 285.0 L769.7 284.3 L771.8 283.6 L773.8 282.9 L775.9 282.2 L778.0 281.6 L780.1 281.0 L782.2 280.4 L784.2 279.8 L786.3 279.3 L788.4 278.8 L790.5 278.3 L792.6 277.8 L794.6 277.3 L796.7 276.9 L798.8 276.5 L800.9 276.1 L803.0 275.7 L805.0 275.4 L807.1 275.1 L809.2 274.8 L811.3 274.5 L813.4 274.2 L815.5 273.9 L817.5 273.7 L819.6 273.5 L821.7 273.3 L823.8 273.1 L825.9 272.9 L827.9 272.8 L830.0 272.6 L832.1 272.5 L834.2 272.4 L836.3 272.3 L838.4 272.2 L840.4 272.2 L842.5 272.1 L844.6 272.1 L846.7 272.0 L848.8 272.0 L850.8 272.0 L852.9 272.0 L855.0 272.0 L855.2 272.0" fill="none" stroke="#0000ff" stroke-width="6.2" stroke-linejoin="round"/>
<path d="M535.0 594.0 L537.0 589.3 L539.1 584.7 L541.1 580.1 L543.1 575.5 L545.2 571.0 L547.2 566.5 L549.2 562.0 L551.2 557.6 L553.3 553.3 L555.3 548.9 L557.3 544.7 L559.4 540.4 L561.4 536.2 L563.4 532.1 L565.5 527.9 L567.5 523.8 L569.5 519.8 L571.6 515.8 L573.6 511.8 L575.6 507.9 L577.7 504.0 L579.7 500.2 L581.7 496.4 L583.8 492.6 L585.8 488.9 L587.8 485.2 L589.8 481.5 L591.9 477.9 L593.9 474.3 L595.9 470.8 L598.0 467.3 L600.0 463.8 L602.0 460.4 L604.1 457.0 L606.1 453.6 L608.1 450.3 L610.2 447.0 L612.2 443.8 L614.2 440.6 L616.2 437.4 L618.3 434.3 L620.3 431.2 L622.3 428.1 L624.4 425.1 L626.4 422.1 L628.4 419.2 L630.5 416.3 L632.5 413.4 L634.5 410.6 L636.6 407.8 L638.6 405.0 L640.6 402.3 L642.7 399.6 L644.7 396.9 L646.7 394.3 L648.8 391.7 L650.8 389.1 L652.8 386.6 L654.8 384.1 L656.9 381.6 L658.9 379.2 L660.9 376.8 L663.0 374.5 L665.0 372.1 L667.0 369.9 L669.1 367.6 L671.1 365.4 L673.1 363.2 L675.2 361.0 L677.2 358.9 L679.2 356.8 L681.2 354.8 L683.3 352.8 L685.3 350.8 L687.3 348.8 L689.4 346.9 L691.4 345.0 L693.4 343.1 L695.5 341.3 L697.5 339.5 L699.5 337.7 L701.6 336.0 L703.6 334.3 L705.6 332.6 L707.7 331.0 L709.7 329.3 L711.7 327.8 L713.8 326.2 L715.8 324.7 L717.8 323.2 L719.8 321.7 L721.9 320.3 L723.9 318.9 L725.9 317.5 L728.0 316.1 L730.0 314.8 L732.0 313.5 L734.1 312.3 L736.1 311.0 L738.1 309.8 L740.2 308.6 L742.2 307.5 L744.2 306.4 L746.2 305.3 L748.3 304.2 L750.3 303.2 L752.3 302.1 L754.4 301.2 L756.4 300.2 L758.4 299.3 L760.5 298.3 L762.5 297.5 L764.5 296.6 L766.6 295.8 L768.6 295.0 L770.6 294.2 L772.7 293.4 L774.7 292.7 L776.7 292.0 L778.8 291.3 L780.8 290.6 L782.8 290.0 L784.8 289.3 L786.9 288.8 L788.9 288.2 L790.9 287.6 L793.0 287.1 L795.0 286.6 L797.0 286.1 L799.1 285.7 L801.1 285.2 L803.1 284.8 L805.2 284.4 L807.2 284.0 L809.2 283.6 L811.2 283.3 L813.3 283.0 L815.3 282.7 L817.3 282.4 L819.4 282.1 L821.4 281.9 L823.4 281.7 L825.5 281.4 L827.5 281.3 L829.5 281.1 L831.6 280.9 L833.6 280.8 L835.6 280.6 L837.7 280.5 L839.7 280.4 L841.7 280.3 L843.8 280.2 L845.8 280.2 L847.8 280.1 L849.8 280.1 L851.9 280.0 L853.9 280.0 L855.9 280.0 L857.1 280.0" fill="none" stroke="#0000ff" stroke-width="6.2" stroke-linejoin="round"/>
<path d="M497.0 594.0 L499.2 590.0 L501.4 586.0 L503.6 582.0 L505.8 578.1 L508.0 574.2 L510.2 570.3 L512.4 566.4 L514.7 562.6 L516.9 558.8 L519.1 555.1 L521.3 551.4 L523.5 547.7 L525.7 544.0 L527.9 540.4 L530.1 536.8 L532.3 533.2 L534.5 529.6 L536.7 526.1 L538.9 522.6 L541.1 519.2 L543.3 515.7 L545.5 512.3 L547.7 509.0 L550.0 505.6 L552.2 502.3 L554.4 499.0 L556.6 495.8 L558.8 492.6 L561.0 489.4 L563.2 486.2 L565.4 483.1 L567.6 479.9 L569.8 476.9 L572.0 473.8 L574.2 470.8 L576.4 467.8 L578.6 464.8 L580.8 461.9 L583.0 459.0 L585.2 456.1 L587.5 453.3 L589.7 450.5 L591.9 447.7 L594.1 444.9 L596.3 442.2 L598.5 439.5 L600.7 436.8 L602.9 434.1 L605.1 431.5 L607.3 428.9 L609.5 426.4 L611.7 423.8 L613.9 421.3 L616.1 418.8 L618.3 416.4 L620.5 414.0 L622.8 411.6 L625.0 409.2 L627.2 406.9 L629.4 404.5 L631.6 402.3 L633.8 400.0 L636.0 397.8 L638.2 395.6 L640.4 393.4 L642.6 391.2 L644.8 389.1 L647.0 387.0 L649.2 385.0 L651.4 382.9 L653.6 380.9 L655.9 378.9 L658.1 377.0 L660.3 375.0 L662.5 373.1 L664.7 371.2 L666.9 369.4 L669.1 367.6 L671.3 365.8 L673.5 364.0 L675.7 362.2 L677.9 360.5 L680.1 358.8 L682.3 357.2 L684.5 355.5 L686.7 353.9 L688.9 352.3 L691.1 350.7 L693.4 349.2 L695.6 347.7 L697.8 346.2 L700.0 344.8 L702.2 343.3 L704.4 341.9 L706.6 340.5 L708.8 339.2 L711.0 337.8 L713.2 336.5 L715.4 335.2 L717.6 334.0 L719.8 332.7 L722.0 331.5 L724.2 330.4 L726.5 329.2 L728.7 328.1 L730.9 326.9 L733.1 325.9 L735.3 324.8 L737.5 323.8 L739.7 322.8 L741.9 321.8 L744.1 320.8 L746.3 319.9 L748.5 318.9 L750.7 318.0 L752.9 317.2 L755.1 316.3 L757.3 315.5 L759.5 314.7 L761.8 313.9 L764.0 313.2 L766.2 312.4 L768.4 311.7 L770.6 311.0 L772.8 310.4 L775.0 309.7 L777.2 309.1 L779.4 308.5 L781.6 307.9 L783.8 307.4 L786.0 306.9 L788.2 306.4 L790.4 305.9 L792.6 305.4 L794.8 305.0 L797.0 304.5 L799.3 304.1 L801.5 303.7 L803.7 303.4 L805.9 303.0 L808.1 302.7 L810.3 302.4 L812.5 302.1 L814.7 301.9 L816.9 301.6 L819.1 301.4 L821.3 301.2 L823.5 301.0 L825.7 300.8 L827.9 300.7 L830.1 300.5 L832.4 300.4 L834.6 300.3 L836.8 300.2 L839.0 300.1 L841.2 300.1 L843.4 300.0 L845.6 300.0 L847.8 300.0 L850.0 300.0 L851.6 300.0 L853.2 300.2 L854.8 300.4 L856.4 300.6 L858.0 301.0 L859.6 301.4 L861.2 302.0 L862.4 302.4" fill="none" stroke="#0000ff" stroke-width="6.2" stroke-linejoin="round"/>
<path d="M505.0 594.0 L507.2 590.1 L509.5 586.3 L511.7 582.5 L513.9 578.7 L516.2 575.0 L518.4 571.3 L520.6 567.6 L522.9 563.9 L525.1 560.3 L527.3 556.7 L529.5 553.1 L531.8 549.6 L534.0 546.0 L536.2 542.5 L538.5 539.1 L540.7 535.7 L542.9 532.3 L545.2 528.9 L547.4 525.5 L549.6 522.2 L551.9 518.9 L554.1 515.7 L556.3 512.4 L558.5 509.2 L560.8 506.1 L563.0 502.9 L565.2 499.8 L567.5 496.7 L569.7 493.6 L571.9 490.6 L574.2 487.6 L576.4 484.6 L578.6 481.6 L580.9 478.7 L583.1 475.8 L585.3 473.0 L587.6 470.1 L589.8 467.3 L592.0 464.5 L594.2 461.8 L596.5 459.0 L598.7 456.3 L600.9 453.6 L603.2 451.0 L605.4 448.4 L607.6 445.8 L609.9 443.2 L612.1 440.7 L614.3 438.2 L616.6 435.7 L618.8 433.2 L621.0 430.8 L623.3 428.4 L625.5 426.0 L627.7 423.6 L630.0 421.3 L632.2 419.0 L634.4 416.7 L636.6 414.5 L638.9 412.3 L641.1 410.1 L643.3 407.9 L645.6 405.8 L647.8 403.7 L650.0 401.6 L652.3 399.5 L654.5 397.5 L656.7 395.5 L659.0 393.5 L661.2 391.5 L663.4 389.6 L665.6 387.7 L667.9 385.8 L670.1 384.0 L672.3 382.1 L674.6 380.3 L676.8 378.6 L679.0 376.8 L681.3 375.1 L683.5 373.4 L685.7 371.7 L688.0 370.0 L690.2 368.4 L692.4 366.8 L694.7 365.3 L696.9 363.7 L699.1 362.2 L701.4 360.7 L703.6 359.2 L705.8 357.8 L708.0 356.3 L710.3 354.9 L712.5 353.5 L714.7 352.2 L717.0 350.9 L719.2 349.6 L721.4 348.3 L723.7 347.0 L725.9 345.8 L728.1 344.6 L730.4 343.4 L732.6 342.3 L734.8 341.1 L737.0 340.0 L739.3 338.9 L741.5 337.8 L743.7 336.8 L746.0 335.8 L748.2 334.8 L750.4 333.8 L752.7 332.9 L754.9 331.9 L757.1 331.0 L759.4 330.2 L761.6 329.3 L763.8 328.5 L766.1 327.7 L768.3 326.9 L770.5 326.1 L772.8 325.4 L775.0 324.6 L777.2 323.9 L779.4 323.3 L781.7 322.6 L783.9 322.0 L786.1 321.3 L788.4 320.7 L790.6 320.2 L792.8 319.6 L795.1 319.1 L797.3 318.6 L799.5 318.1 L801.8 317.6 L804.0 317.2 L806.2 316.7 L808.5 316.3 L810.7 316.0 L812.9 315.6 L815.1 315.2 L817.4 314.9 L819.6 314.6 L821.8 314.3 L824.1 314.0 L826.3 313.8 L828.5 313.5 L830.8 313.3 L833.0 313.1 L835.2 312.9 L837.5 312.8 L839.7 312.6 L841.9 312.5 L844.1 312.4 L846.4 312.3 L848.6 312.2 L850.8 312.1 L853.1 312.1 L855.3 312.0 L857.5 312.0 L859.8 312.0 L862.0 312.0 L863.5 313.2 L865.0 317.0 L866.5 323.2 L868.0 332.0" fill="none" stroke="#0000ff" stroke-width="6.2" stroke-linejoin="round"/>
<path d="M513.0 594.0 L515.2 590.3 L517.5 586.6 L519.7 582.9 L522.0 579.3 L524.2 575.6 L526.5 572.1 L528.7 568.5 L531.0 565.0 L533.2 561.5 L535.4 558.0 L537.7 554.5 L539.9 551.1 L542.2 547.7 L544.4 544.4 L546.7 541.0 L548.9 537.7 L551.1 534.4 L553.4 531.2 L555.6 528.0 L557.9 524.8 L560.1 521.6 L562.4 518.4 L564.6 515.3 L566.9 512.2 L569.1 509.2 L571.3 506.1 L573.6 503.1 L575.8 500.1 L578.1 497.2 L580.3 494.3 L582.6 491.4 L584.8 488.5 L587.0 485.6 L589.3 482.8 L591.5 480.0 L593.8 477.3 L596.0 474.5 L598.3 471.8 L600.5 469.1 L602.8 466.4 L605.0 463.8 L607.2 461.2 L609.5 458.6 L611.7 456.1 L614.0 453.5 L616.2 451.0 L618.5 448.6 L620.7 446.1 L622.9 443.7 L625.2 441.3 L627.4 438.9 L629.7 436.6 L631.9 434.2 L634.2 431.9 L636.4 429.7 L638.6 427.4 L640.9 425.2 L643.1 423.0 L645.4 420.9 L647.6 418.7 L649.9 416.6 L652.1 414.5 L654.4 412.4 L656.6 410.4 L658.8 408.4 L661.1 406.4 L663.3 404.4 L665.6 402.5 L667.8 400.6 L670.1 398.7 L672.3 396.8 L674.5 395.0 L676.8 393.2 L679.0 391.4 L681.3 389.6 L683.5 387.9 L685.8 386.2 L688.0 384.5 L690.3 382.8 L692.5 381.2 L694.7 379.6 L697.0 378.0 L699.2 376.4 L701.5 374.9 L703.7 373.4 L706.0 371.9 L708.2 370.4 L710.5 369.0 L712.7 367.5 L714.9 366.1 L717.2 364.8 L719.4 363.4 L721.7 362.1 L723.9 360.8 L726.2 359.5 L728.4 358.2 L730.6 357.0 L732.9 355.8 L735.1 354.6 L737.4 353.4 L739.6 352.3 L741.9 351.2 L744.1 350.1 L746.4 349.0 L748.6 348.0 L750.8 346.9 L753.1 345.9 L755.3 344.9 L757.6 344.0 L759.8 343.0 L762.1 342.1 L764.3 341.2 L766.5 340.4 L768.8 339.5 L771.0 338.7 L773.3 337.9 L775.5 337.1 L777.8 336.3 L780.0 335.6 L782.2 334.9 L784.5 334.2 L786.7 333.5 L789.0 332.9 L791.2 332.2 L793.5 331.6 L795.7 331.0 L798.0 330.4 L800.2 329.9 L802.4 329.4 L804.7 328.8 L806.9 328.4 L809.2 327.9 L811.4 327.4 L813.7 327.0 L815.9 326.6 L818.1 326.2 L820.4 325.8 L822.6 325.5 L824.9 325.1 L827.1 324.8 L829.4 324.5 L831.6 324.2 L833.9 324.0 L836.1 323.7 L838.3 323.5 L840.6 323.3 L842.8 323.1 L845.1 322.9 L847.3 322.8 L849.6 322.6 L851.8 322.5 L854.0 322.4 L856.3 322.3 L858.5 322.2 L860.8 322.1 L863.0 322.1 L865.3 322.0 L867.0 322.0" fill="none" stroke="#0000ff" stroke-width="6.2" stroke-linejoin="round"/>
<path d="M521.0 594.0 L523.3 590.4 L525.5 586.8 L527.8 583.3 L530.1 579.8 L532.3 576.3 L534.6 572.9 L536.9 569.4 L539.2 566.0 L541.4 562.7 L543.7 559.3 L546.0 556.0 L548.2 552.7 L550.5 549.4 L552.8 546.2 L555.0 543.0 L557.3 539.8 L559.6 536.6 L561.8 533.5 L564.1 530.4 L566.4 527.3 L568.6 524.3 L570.9 521.2 L573.2 518.2 L575.5 515.2 L577.7 512.3 L580.0 509.4 L582.3 506.5 L584.5 503.6 L586.8 500.7 L589.1 497.9 L591.3 495.1 L593.6 492.4 L595.9 489.6 L598.1 486.9 L600.4 484.2 L602.7 481.5 L604.9 478.9 L607.2 476.3 L609.5 473.7 L611.8 471.1 L614.0 468.6 L616.3 466.1 L618.6 463.6 L620.8 461.1 L623.1 458.7 L625.4 456.3 L627.6 453.9 L629.9 451.5 L632.2 449.2 L634.4 446.9 L636.7 444.6 L639.0 442.3 L641.2 440.1 L643.5 437.9 L645.8 435.7 L648.0 433.6 L650.3 431.4 L652.6 429.3 L654.9 427.2 L657.1 425.2 L659.4 423.1 L661.7 421.1 L663.9 419.1 L666.2 417.2 L668.5 415.2 L670.7 413.3 L673.0 411.4 L675.3 409.5 L677.5 407.7 L679.8 405.9 L682.1 404.1 L684.4 402.3 L686.6 400.6 L688.9 398.9 L691.2 397.2 L693.4 395.5 L695.7 393.8 L698.0 392.2 L700.2 390.6 L702.5 389.0 L704.8 387.5 L707.0 385.9 L709.3 384.4 L711.6 382.9 L713.8 381.5 L716.1 380.0 L718.4 378.6 L720.6 377.2 L722.9 375.9 L725.2 374.5 L727.5 373.2 L729.7 371.9 L732.0 370.6 L734.3 369.3 L736.5 368.1 L738.8 366.9 L741.1 365.7 L743.3 364.5 L745.6 363.4 L747.9 362.3 L750.1 361.2 L752.4 360.1 L754.7 359.0 L757.0 358.0 L759.2 357.0 L761.5 356.0 L763.8 355.0 L766.0 354.1 L768.3 353.2 L770.6 352.3 L772.8 351.4 L775.1 350.5 L777.4 349.7 L779.6 348.9 L781.9 348.1 L784.2 347.3 L786.4 346.6 L788.7 345.8 L791.0 345.1 L793.2 344.4 L795.5 343.7 L797.8 343.1 L800.1 342.5 L802.3 341.8 L804.6 341.3 L806.9 340.7 L809.1 340.1 L811.4 339.6 L813.7 339.1 L815.9 338.6 L818.2 338.1 L820.5 337.7 L822.7 337.2 L825.0 336.8 L827.3 336.4 L829.5 336.0 L831.8 335.7 L834.1 335.3 L836.4 335.0 L838.6 334.7 L840.9 334.4 L843.2 334.1 L845.4 333.9 L847.7 333.7 L850.0 333.4 L852.2 333.2 L854.5 333.0 L856.8 332.9 L859.0 332.7 L861.3 332.6 L863.6 332.5 L865.9 332.4 L868.1 332.3" fill="none" stroke="#0000ff" stroke-width="6.2" stroke-linejoin="round"/>
<path d="M530.0 594.0 L532.3 590.5 L534.5 587.1 L536.8 583.6 L539.1 580.2 L541.4 576.9 L543.6 573.5 L545.9 570.2 L548.2 566.9 L550.5 563.6 L552.8 560.4 L555.0 557.2 L557.3 554.0 L559.6 550.8 L561.9 547.7 L564.1 544.5 L566.4 541.4 L568.7 538.4 L571.0 535.3 L573.2 532.3 L575.5 529.3 L577.8 526.4 L580.0 523.4 L582.3 520.5 L584.6 517.6 L586.9 514.8 L589.1 511.9 L591.4 509.1 L593.7 506.4 L596.0 503.6 L598.2 500.9 L600.5 498.1 L602.8 495.5 L605.1 492.8 L607.4 490.2 L609.6 487.6 L611.9 485.0 L614.2 482.4 L616.5 479.9 L618.7 477.4 L621.0 474.9 L623.3 472.4 L625.5 470.0 L627.8 467.6 L630.1 465.2 L632.4 462.8 L634.6 460.5 L636.9 458.2 L639.2 455.9 L641.5 453.6 L643.8 451.4 L646.0 449.2 L648.3 447.0 L650.6 444.8 L652.9 442.7 L655.1 440.6 L657.4 438.5 L659.7 436.4 L662.0 434.3 L664.2 432.3 L666.5 430.3 L668.8 428.3 L671.0 426.4 L673.3 424.5 L675.6 422.6 L677.9 420.7 L680.1 418.8 L682.4 417.0 L684.7 415.2 L687.0 413.4 L689.2 411.6 L691.5 409.9 L693.8 408.2 L696.1 406.5 L698.4 404.8 L700.6 403.2 L702.9 401.5 L705.2 399.9 L707.5 398.4 L709.7 396.8 L712.0 395.3 L714.3 393.8 L716.5 392.3 L718.8 390.8 L721.1 389.4 L723.4 388.0 L725.6 386.6 L727.9 385.2 L730.2 383.8 L732.5 382.5 L734.8 381.2 L737.0 379.9 L739.3 378.7 L741.6 377.4 L743.9 376.2 L746.1 375.0 L748.4 373.8 L750.7 372.7 L753.0 371.6 L755.2 370.4 L757.5 369.4 L759.8 368.3 L762.0 367.2 L764.3 366.2 L766.6 365.2 L768.9 364.2 L771.1 363.3 L773.4 362.3 L775.7 361.4 L778.0 360.5 L780.2 359.7 L782.5 358.8 L784.8 358.0 L787.1 357.2 L789.4 356.4 L791.6 355.6 L793.9 354.8 L796.2 354.1 L798.5 353.4 L800.7 352.7 L803.0 352.0 L805.3 351.4 L807.5 350.7 L809.8 350.1 L812.1 349.5 L814.4 349.0 L816.6 348.4 L818.9 347.9 L821.2 347.4 L823.5 346.9 L825.8 346.4 L828.0 345.9 L830.3 345.5 L832.6 345.1 L834.9 344.7 L837.1 344.3 L839.4 343.9 L841.7 343.6 L844.0 343.2 L846.2 342.9 L848.5 342.6 L850.8 342.3 L853.0 342.1 L855.3 341.8 L857.6 341.6 L859.9 341.4 L862.1 341.2 L864.4 341.0 L866.7 340.9 L869.0 340.7" fill="none" stroke="#0000ff" stroke-width="6.2" stroke-linejoin="round"/>
<path d="M538.0 594.0 L539.8 590.0 L541.6 586.1 L543.5 582.2 L545.3 578.3 L547.1 574.5 L549.0 570.7 L550.8 566.9 L552.6 563.2 L554.4 559.4 L556.2 555.7 L558.1 552.1 L559.9 548.4 L561.7 544.8 L563.5 541.3 L565.4 537.7 L567.2 534.2 L569.0 530.7 L570.9 527.3 L572.7 523.8 L574.5 520.4 L576.3 517.1 L578.1 513.7 L580.0 510.4 L581.8 507.1 L583.6 503.9 L585.5 500.6 L587.3 497.4 L589.1 494.3 L590.9 491.1 L592.8 488.0 L594.6 484.9 L596.4 481.9 L598.2 478.9 L600.0 475.9 L601.9 472.9 L603.7 470.0 L605.5 467.0 L607.4 464.2 L609.2 461.3 L611.0 458.5 L612.8 455.7 L614.6 452.9 L616.5 450.2 L618.3 447.4 L620.1 444.8 L622.0 442.1 L623.8 439.5 L625.6 436.9 L627.4 434.3 L629.2 431.7 L631.1 429.2 L632.9 426.7 L634.7 424.3 L636.5 421.8 L638.4 419.4 L640.2 417.0 L642.0 414.7 L643.9 412.3 L645.7 410.0 L647.5 407.8 L649.3 405.5 L651.1 403.3 L653.0 401.1 L654.8 398.9 L656.6 396.8 L658.5 394.7 L660.3 392.6 L662.1 390.5 L663.9 388.5 L665.8 386.5 L667.6 384.5 L669.4 382.6 L671.2 380.6 L673.0 378.7 L674.9 376.9 L676.7 375.0 L678.5 373.2 L680.4 371.4 L682.2 369.6 L684.0 367.9 L685.8 366.2 L687.6 364.5 L689.5 362.8 L691.3 361.2 L693.1 359.6 L695.0 358.0 L696.8 356.4 L698.6 354.9 L700.4 353.4 L702.2 351.9 L704.1 350.4 L705.9 349.0 L707.7 347.6 L709.5 346.2 L711.4 344.8 L713.2 343.5 L715.0 342.2 L716.9 340.9 L718.7 339.6 L720.5 338.4 L722.3 337.2 L724.1 336.0 L726.0 334.8 L727.8 333.7 L729.6 332.6 L731.5 331.5 L733.3 330.4 L735.1 329.4 L736.9 328.4 L738.8 327.4 L740.6 326.4 L742.4 325.4 L744.2 324.5 L746.0 323.6 L747.9 322.7 L749.7 321.9 L751.5 321.0 L753.4 320.2 L755.2 319.5 L757.0 318.7 L758.8 317.9 L760.6 317.2 L762.5 316.5 L764.3 315.9 L766.1 315.2 L768.0 314.6 L769.8 314.0 L771.6 313.4 L773.4 312.8 L775.2 312.3 L777.1 311.7 L778.9 311.2 L780.7 310.8 L782.5 310.3 L784.4 309.9 L786.2 309.4 L788.0 309.1 L789.9 308.7 L791.7 308.3 L793.5 308.0 L795.3 307.7 L797.1 307.4 L799.0 307.1 L800.8 306.8 L802.6 306.6 L804.5 306.4 L806.3 306.2 L808.1 306.0 L809.9 305.8 L811.8 305.6 L813.6 305.5 L815.4 305.4 L817.2 305.3 L819.0 305.2 L820.9 305.1 L822.7 305.1 L824.5 305.0 L826.4 305.0 L828.2 305.0 L830.0 305.0 L831.5 305.1 L833.1 305.2 L834.6 305.5 L836.2 305.8 L837.7 306.3 L839.2 306.9 L840.8 307.5 L842.3 308.3 L843.8 309.2 L845.4 310.2 L846.9 311.3 L848.5 312.5 L850.0 313.8 L851.5 315.1 L853.1 316.6 L854.6 318.3 L856.2 320.0 L857.7 321.8 L859.2 323.7 L860.8 325.7 L862.3 327.8 L863.8 330.1 L865.4 332.4 L866.9 334.8 L868.5 337.4 L870.0 340.0" fill="none" stroke="#0000ff" stroke-width="6.2" stroke-linejoin="round"/>
<path d="M544.0 594.0 L545.9 590.2 L547.8 586.4 L549.6 582.6 L551.5 578.9 L553.4 575.2 L555.3 571.5 L557.2 567.8 L559.0 564.2 L560.9 560.6 L562.8 557.1 L564.7 553.5 L566.6 550.0 L568.5 546.5 L570.3 543.1 L572.2 539.7 L574.1 536.3 L576.0 532.9 L577.9 529.6 L579.7 526.3 L581.6 523.0 L583.5 519.7 L585.4 516.5 L587.3 513.3 L589.1 510.1 L591.0 507.0 L592.9 503.9 L594.8 500.8 L596.7 497.7 L598.6 494.7 L600.4 491.7 L602.3 488.7 L604.2 485.8 L606.1 482.8 L608.0 480.0 L609.8 477.1 L611.7 474.2 L613.6 471.4 L615.5 468.6 L617.4 465.9 L619.2 463.2 L621.1 460.5 L623.0 457.8 L624.9 455.1 L626.8 452.5 L628.7 449.9 L630.5 447.4 L632.4 444.8 L634.3 442.3 L636.2 439.8 L638.1 437.4 L639.9 434.9 L641.8 432.5 L643.7 430.1 L645.6 427.8 L647.5 425.4 L649.4 423.1 L651.2 420.9 L653.1 418.6 L655.0 416.4 L656.9 414.2 L658.8 412.0 L660.6 409.9 L662.5 407.8 L664.4 405.7 L666.3 403.6 L668.2 401.6 L670.0 399.6 L671.9 397.6 L673.8 395.6 L675.7 393.7 L677.6 391.8 L679.5 389.9 L681.3 388.0 L683.2 386.2 L685.1 384.4 L687.0 382.6 L688.9 380.8 L690.7 379.1 L692.6 377.4 L694.5 375.7 L696.4 374.1 L698.3 372.4 L700.1 370.8 L702.0 369.2 L703.9 367.7 L705.8 366.2 L707.7 364.6 L709.5 363.2 L711.4 361.7 L713.3 360.3 L715.2 358.9 L717.1 357.5 L719.0 356.1 L720.8 354.8 L722.7 353.5 L724.6 352.2 L726.5 350.9 L728.4 349.7 L730.2 348.4 L732.1 347.2 L734.0 346.1 L735.9 344.9 L737.8 343.8 L739.6 342.7 L741.5 341.6 L743.4 340.6 L745.3 339.5 L747.2 338.5 L749.1 337.6 L750.9 336.6 L752.8 335.7 L754.7 334.7 L756.6 333.8 L758.5 333.0 L760.3 332.1 L762.2 331.3 L764.1 330.5 L766.0 329.7 L767.9 329.0 L769.8 328.2 L771.6 327.5 L773.5 326.8 L775.4 326.1 L777.3 325.5 L779.2 324.9 L781.0 324.2 L782.9 323.7 L784.8 323.1 L786.7 322.5 L788.6 322.0 L790.4 321.5 L792.3 321.0 L794.2 320.6 L796.1 320.1 L798.0 319.7 L799.9 319.3 L801.7 318.9 L803.6 318.5 L805.5 318.2 L807.4 317.9 L809.3 317.6 L811.1 317.3 L813.0 317.0 L814.9 316.8 L816.8 316.5 L818.7 316.3 L820.5 316.1 L822.4 315.9 L824.3 315.8 L826.2 315.6 L828.1 315.5 L829.9 315.4 L831.8 315.3 L833.7 315.2 L835.6 315.1 L837.5 315.1 L839.4 315.0 L841.2 315.0 L843.1 315.0 L845.0 315.0 L846.6 315.1 L848.1 315.5 L849.7 316.0 L851.2 316.8 L852.8 317.8 L854.4 319.1 L855.9 320.6 L857.5 322.2 L859.1 324.2 L860.6 326.3 L862.2 328.7 L863.8 331.3 L865.3 334.1 L866.9 337.2 L868.4 340.5 L870.0 344.0" fill="none" stroke="#0000ff" stroke-width="6.2" stroke-linejoin="round"/>
<path d="M550.0 594.0 L551.9 590.3 L553.9 586.6 L555.8 582.9 L557.8 579.3 L559.7 575.6 L561.6 572.1 L563.6 568.5 L565.5 565.0 L567.4 561.5 L569.4 558.0 L571.3 554.5 L573.2 551.1 L575.2 547.7 L577.1 544.4 L579.1 541.0 L581.0 537.7 L582.9 534.4 L584.9 531.2 L586.8 528.0 L588.8 524.8 L590.7 521.6 L592.6 518.4 L594.6 515.3 L596.5 512.2 L598.4 509.2 L600.4 506.1 L602.3 503.1 L604.2 500.1 L606.2 497.2 L608.1 494.3 L610.1 491.4 L612.0 488.5 L613.9 485.6 L615.9 482.8 L617.8 480.0 L619.8 477.3 L621.7 474.5 L623.6 471.8 L625.6 469.1 L627.5 466.4 L629.4 463.8 L631.4 461.2 L633.3 458.6 L635.2 456.1 L637.2 453.5 L639.1 451.0 L641.1 448.6 L643.0 446.1 L644.9 443.7 L646.9 441.3 L648.8 438.9 L650.8 436.6 L652.7 434.2 L654.6 431.9 L656.6 429.7 L658.5 427.4 L660.4 425.2 L662.4 423.0 L664.3 420.9 L666.2 418.7 L668.2 416.6 L670.1 414.5 L672.1 412.4 L674.0 410.4 L675.9 408.4 L677.9 406.4 L679.8 404.4 L681.8 402.5 L683.7 400.6 L685.6 398.7 L687.6 396.8 L689.5 395.0 L691.4 393.2 L693.4 391.4 L695.3 389.6 L697.2 387.9 L699.2 386.2 L701.1 384.5 L703.1 382.8 L705.0 381.2 L706.9 379.6 L708.9 378.0 L710.8 376.4 L712.8 374.9 L714.7 373.4 L716.6 371.9 L718.6 370.4 L720.5 369.0 L722.4 367.5 L724.4 366.1 L726.3 364.8 L728.2 363.4 L730.2 362.1 L732.1 360.8 L734.1 359.5 L736.0 358.2 L737.9 357.0 L739.9 355.8 L741.8 354.6 L743.8 353.4 L745.7 352.3 L747.6 351.2 L749.6 350.1 L751.5 349.0 L753.4 348.0 L755.4 346.9 L757.3 345.9 L759.2 344.9 L761.2 344.0 L763.1 343.0 L765.1 342.1 L767.0 341.2 L768.9 340.4 L770.9 339.5 L772.8 338.7 L774.8 337.9 L776.7 337.1 L778.6 336.3 L780.6 335.6 L782.5 334.9 L784.4 334.2 L786.4 333.5 L788.3 332.9 L790.2 332.2 L792.2 331.6 L794.1 331.0 L796.1 330.4 L798.0 329.9 L799.9 329.4 L801.9 328.8 L803.8 328.4 L805.8 327.9 L807.7 327.4 L809.6 327.0 L811.6 326.6 L813.5 326.2 L815.4 325.8 L817.4 325.5 L819.3 325.1 L821.2 324.8 L823.2 324.5 L825.1 324.2 L827.1 324.0 L829.0 323.7 L830.9 323.5 L832.9 323.3 L834.8 323.1 L836.8 322.9 L838.7 322.8 L840.6 322.6 L842.6 322.5 L844.5 322.4 L846.4 322.3 L848.4 322.2 L850.3 322.1 L852.2 322.1 L854.2 322.0 L856.1 322.0 L858.1 322.0 L860.0 322.0 L861.7 322.7 L863.3 324.7 L865.0 328.0 L866.7 332.7 L868.3 338.7 L870.0 346.0" fill="none" stroke="#0000ff" stroke-width="6.2" stroke-linejoin="round"/>
<path d="M562.0 594.0 L564.0 590.4 L566.0 586.8 L568.0 583.2 L570.0 579.7 L571.9 576.2 L573.9 572.7 L575.9 569.3 L577.9 565.8 L579.9 562.4 L581.9 559.1 L583.9 555.7 L585.8 552.4 L587.8 549.1 L589.8 545.8 L591.8 542.6 L593.8 539.4 L595.8 536.2 L597.8 533.0 L599.8 529.9 L601.8 526.8 L603.7 523.7 L605.7 520.7 L607.7 517.6 L609.7 514.6 L611.7 511.7 L613.7 508.7 L615.7 505.8 L617.7 502.9 L619.6 500.0 L621.6 497.2 L623.6 494.4 L625.6 491.6 L627.6 488.8 L629.6 486.1 L631.6 483.4 L633.5 480.7 L635.5 478.0 L637.5 475.4 L639.5 472.8 L641.5 470.2 L643.5 467.6 L645.5 465.1 L647.5 462.6 L649.5 460.1 L651.4 457.7 L653.4 455.2 L655.4 452.8 L657.4 450.5 L659.4 448.1 L661.4 445.8 L663.4 443.5 L665.4 441.2 L667.3 438.9 L669.3 436.7 L671.3 434.5 L673.3 432.3 L675.3 430.2 L677.3 428.1 L679.3 426.0 L681.2 423.9 L683.2 421.8 L685.2 419.8 L687.2 417.8 L689.2 415.8 L691.2 413.9 L693.2 411.9 L695.2 410.0 L697.1 408.1 L699.1 406.3 L701.1 404.5 L703.1 402.6 L705.1 400.9 L707.1 399.1 L709.1 397.4 L711.1 395.7 L713.0 394.0 L715.0 392.3 L717.0 390.7 L719.0 389.0 L721.0 387.5 L723.0 385.9 L725.0 384.3 L727.0 382.8 L729.0 381.3 L730.9 379.9 L732.9 378.4 L734.9 377.0 L736.9 375.6 L738.9 374.2 L740.9 372.8 L742.9 371.5 L744.9 370.2 L746.8 368.9 L748.8 367.6 L750.8 366.4 L752.8 365.2 L754.8 364.0 L756.8 362.8 L758.8 361.6 L760.8 360.5 L762.7 359.4 L764.7 358.3 L766.7 357.3 L768.7 356.2 L770.7 355.2 L772.7 354.2 L774.7 353.2 L776.6 352.3 L778.6 351.3 L780.6 350.4 L782.6 349.5 L784.6 348.7 L786.6 347.8 L788.6 347.0 L790.6 346.2 L792.5 345.4 L794.5 344.7 L796.5 343.9 L798.5 343.2 L800.5 342.5 L802.5 341.8 L804.5 341.2 L806.5 340.5 L808.5 339.9 L810.4 339.3 L812.4 338.7 L814.4 338.2 L816.4 337.7 L818.4 337.1 L820.4 336.6 L822.4 336.2 L824.4 335.7 L826.3 335.3 L828.3 334.8 L830.3 334.4 L832.3 334.1 L834.3 333.7 L836.3 333.4 L838.3 333.0 L840.2 332.7 L842.2 332.4 L844.2 332.2 L846.2 331.9 L848.2 331.7 L850.2 331.4 L852.2 331.2 L854.2 331.1 L856.1 330.9 L858.1 330.7 L860.1 330.6 L862.1 330.5 L864.1 330.4 L866.1 330.3 L868.1 330.2" fill="none" stroke="#0000ff" stroke-width="6.2" stroke-linejoin="round"/>
<path d="M572.0 594.0 L574.0 590.5 L576.0 587.0 L578.0 583.6 L580.0 580.1 L581.9 576.7 L583.9 573.4 L585.9 570.0 L587.9 566.7 L589.9 563.4 L591.9 560.1 L593.9 556.9 L595.8 553.7 L597.8 550.5 L599.8 547.3 L601.8 544.2 L603.8 541.0 L605.8 537.9 L607.8 534.9 L609.8 531.8 L611.8 528.8 L613.7 525.8 L615.7 522.9 L617.7 520.0 L619.7 517.0 L621.7 514.2 L623.7 511.3 L625.7 508.5 L627.7 505.7 L629.6 502.9 L631.6 500.1 L633.6 497.4 L635.6 494.7 L637.6 492.0 L639.6 489.4 L641.6 486.7 L643.5 484.1 L645.5 481.5 L647.5 479.0 L649.5 476.5 L651.5 473.9 L653.5 471.5 L655.5 469.0 L657.5 466.6 L659.5 464.2 L661.4 461.8 L663.4 459.4 L665.4 457.1 L667.4 454.8 L669.4 452.5 L671.4 450.3 L673.4 448.0 L675.4 445.8 L677.3 443.6 L679.3 441.5 L681.3 439.3 L683.3 437.2 L685.3 435.1 L687.3 433.1 L689.3 431.0 L691.2 429.0 L693.2 427.0 L695.2 425.1 L697.2 423.1 L699.2 421.2 L701.2 419.3 L703.2 417.4 L705.2 415.6 L707.1 413.8 L709.1 412.0 L711.1 410.2 L713.1 408.4 L715.1 406.7 L717.1 405.0 L719.1 403.3 L721.1 401.7 L723.0 400.0 L725.0 398.4 L727.0 396.8 L729.0 395.3 L731.0 393.7 L733.0 392.2 L735.0 390.7 L737.0 389.2 L739.0 387.8 L740.9 386.3 L742.9 384.9 L744.9 383.5 L746.9 382.2 L748.9 380.8 L750.9 379.5 L752.9 378.2 L754.9 377.0 L756.8 375.7 L758.8 374.5 L760.8 373.3 L762.8 372.1 L764.8 370.9 L766.8 369.8 L768.8 368.7 L770.8 367.6 L772.7 366.5 L774.7 365.5 L776.7 364.4 L778.7 363.4 L780.7 362.4 L782.7 361.5 L784.7 360.5 L786.6 359.6 L788.6 358.7 L790.6 357.8 L792.6 356.9 L794.6 356.1 L796.6 355.3 L798.6 354.5 L800.6 353.7 L802.5 353.0 L804.5 352.2 L806.5 351.5 L808.5 350.8 L810.5 350.1 L812.5 349.5 L814.5 348.8 L816.5 348.2 L818.5 347.6 L820.4 347.0 L822.4 346.5 L824.4 345.9 L826.4 345.4 L828.4 344.9 L830.4 344.4 L832.4 344.0 L834.4 343.5 L836.3 343.1 L838.3 342.7 L840.3 342.3 L842.3 341.9 L844.3 341.6 L846.3 341.3 L848.3 340.9 L850.2 340.6 L852.2 340.4 L854.2 340.1 L856.2 339.8 L858.2 339.6 L860.2 339.4 L862.2 339.2 L864.2 339.0 L866.1 338.9 L868.1 338.7" fill="none" stroke="#0000ff" stroke-width="6.2" stroke-linejoin="round"/>
<path d="M598.4 594.0 L600.3 590.5 L602.2 587.1 L604.1 583.6 L605.9 580.2 L607.8 576.9 L609.7 573.5 L611.6 570.2 L613.5 566.9 L615.4 563.6 L617.2 560.4 L619.1 557.2 L621.0 554.0 L622.9 550.8 L624.8 547.7 L626.7 544.5 L628.6 541.4 L630.4 538.4 L632.3 535.3 L634.2 532.3 L636.1 529.3 L638.0 526.4 L639.9 523.4 L641.8 520.5 L643.6 517.6 L645.5 514.8 L647.4 511.9 L649.3 509.1 L651.2 506.4 L653.1 503.6 L655.0 500.9 L656.8 498.1 L658.7 495.5 L660.6 492.8 L662.5 490.2 L664.4 487.6 L666.3 485.0 L668.1 482.4 L670.0 479.9 L671.9 477.4 L673.8 474.9 L675.7 472.4 L677.6 470.0 L679.5 467.6 L681.3 465.2 L683.2 462.8 L685.1 460.5 L687.0 458.2 L688.9 455.9 L690.8 453.6 L692.6 451.4 L694.5 449.2 L696.4 447.0 L698.3 444.8 L700.2 442.7 L702.1 440.6 L704.0 438.5 L705.8 436.4 L707.7 434.3 L709.6 432.3 L711.5 430.3 L713.4 428.3 L715.3 426.4 L717.2 424.5 L719.0 422.6 L720.9 420.7 L722.8 418.8 L724.7 417.0 L726.6 415.2 L728.5 413.4 L730.4 411.6 L732.2 409.9 L734.1 408.2 L736.0 406.5 L737.9 404.8 L739.8 403.2 L741.7 401.5 L743.5 399.9 L745.4 398.4 L747.3 396.8 L749.2 395.3 L751.1 393.8 L753.0 392.3 L754.9 390.8 L756.7 389.4 L758.6 388.0 L760.5 386.6 L762.4 385.2 L764.3 383.8 L766.2 382.5 L768.0 381.2 L769.9 379.9 L771.8 378.7 L773.7 377.4 L775.6 376.2 L777.5 375.0 L779.4 373.8 L781.2 372.7 L783.1 371.6 L785.0 370.4 L786.9 369.4 L788.8 368.3 L790.7 367.2 L792.6 366.2 L794.4 365.2 L796.3 364.2 L798.2 363.3 L800.1 362.3 L802.0 361.4 L803.9 360.5 L805.8 359.7 L807.6 358.8 L809.5 358.0 L811.4 357.2 L813.3 356.4 L815.2 355.6 L817.1 354.8 L818.9 354.1 L820.8 353.4 L822.7 352.7 L824.6 352.0 L826.5 351.4 L828.4 350.7 L830.3 350.1 L832.1 349.5 L834.0 349.0 L835.9 348.4 L837.8 347.9 L839.7 347.4 L841.6 346.9 L843.5 346.4 L845.3 345.9 L847.2 345.5 L849.1 345.1 L851.0 344.7 L852.9 344.3 L854.8 343.9 L856.6 343.6 L858.5 343.2 L860.4 342.9 L862.3 342.6 L864.2 342.3 L866.1 342.1 L868.0 341.8" fill="none" stroke="#0000ff" stroke-width="6.2" stroke-linejoin="round"/>
<path d="M645.0 586.0 L645.6 580.8 L646.4 573.8 L647.3 565.3 L648.3 556.1 L649.4 546.5 L650.6 537.1 L651.8 528.4 L653.0 521.0 L654.3 514.9 L655.6 509.6 L657.0 504.9 L658.5 500.4 L660.0 496.0 L661.4 491.3 L662.7 486.1 L664.0 480.0 L665.1 473.0 L666.2 465.3 L667.1 457.1 L668.1 448.6 L669.0 440.1 L669.9 431.6 L670.9 423.5 L672.0 416.0 L673.2 408.9 L674.4 401.9 L675.6 395.2 L676.9 388.6 L678.2 382.3 L679.5 376.2 L680.8 370.5 L682.0 365.0 L683.2 359.9 L684.3 355.2 L685.4 350.9 L686.6 346.8 L687.7 342.8 L688.8 338.9 L689.9 335.0 L691.0 331.0 L692.1 327.2 L693.0 323.8 L694.0 320.5 L694.9 317.2 L696.0 313.8 L697.1 309.9 L698.4 305.3 L700.0 300.0 L701.9 293.6 L704.1 286.1 L706.5 277.9 L709.0 269.3 L711.5 260.7 L713.9 252.4 L716.1 244.7 L718.0 238.0 L719.6 232.2 L721.0 227.1 L722.2 222.5 L723.2 218.2 L724.2 214.1 L725.2 210.2 L726.1 206.2 L727.0 202.0 L727.9 197.6 L728.7 193.2 L729.4 188.8 L730.1 184.5 L730.7 180.3 L731.4 176.3 L732.2 172.5 L733.0 169.0 L733.9 165.8 L734.7 163.0 L735.6 160.3 L736.5 157.9 L737.5 155.6 L738.5 153.3 L739.7 151.2 L741.0 149.0 L742.4 146.8 L743.8 144.7 L745.3 142.7 L746.9 140.7 L748.6 138.8 L750.5 137.1 L752.6 135.5 L755.0 134.0 L757.7 132.6 L760.7 131.2 L764.0 129.9 L767.4 128.8 L770.9 127.8 L774.4 127.2 L777.8 126.9 L781.0 127.0 L784.1 127.6 L787.3 128.4 L790.5 129.7 L793.6 131.2 L796.6 133.0 L799.5 135.1 L802.3 137.4 L805.0 140.0 L807.5 142.9 L809.8 146.1 L811.9 149.6 L814.0 153.3 L816.0 157.3 L818.0 161.4 L820.0 165.7 L822.0 170.0 L824.1 174.5 L826.1 179.2 L828.2 184.0 L830.2 189.1 L832.3 194.2 L834.2 199.4 L836.2 204.7 L838.0 210.0 L839.8 215.4 L841.5 220.9 L843.2 226.5 L844.8 232.2 L846.4 237.9 L848.0 243.6 L849.5 249.3 L851.0 255.0 L852.5 260.6 L854.0 266.3 L855.4 272.0 L856.8 277.7 L858.2 283.3 L859.5 289.0 L860.8 294.5 L862.0 300.0 L863.2 305.7 L864.4 311.7 L865.6 317.8 L866.7 323.8 L867.7 329.5 L868.6 334.5 L869.4 338.8 L870.0 342.0" fill="none" stroke="#0000ff" stroke-width="6.2" stroke-linejoin="round"/>
<path d="M606.0 571.0 L606.5 568.1 L607.2 564.5 L608.0 560.2 L608.9 555.4 L609.9 550.0 L611.1 544.3 L612.5 538.2 L614.0 532.0 L615.7 525.4 L617.6 518.3 L619.6 510.8 L621.8 502.9 L624.1 494.8 L626.6 486.6 L629.2 478.3 L632.0 470.0 L635.0 461.5 L638.4 452.7 L641.9 443.7 L645.6 434.6 L649.3 425.5 L653.0 416.6 L656.6 408.1 L660.0 400.0 L663.3 392.4 L666.6 385.1 L669.9 378.1 L673.1 371.2 L676.3 364.6 L679.3 358.0 L682.2 351.5 L685.0 345.0 L687.6 338.6 L690.0 332.3 L692.3 326.2 L694.5 320.1 L696.6 314.0 L698.7 307.9 L700.8 301.6 L703.0 295.0 L705.2 288.1 L707.5 280.8 L709.8 273.3 L712.0 265.8 L714.2 258.3 L716.3 251.1 L718.2 244.3 L720.0 238.0 L721.6 232.3 L723.0 227.0 L724.3 222.0 L725.5 217.3 L726.6 212.8 L727.7 208.5 L728.8 204.2 L730.0 200.0 L731.2 195.8 L732.3 191.6 L733.4 187.6 L734.4 183.7 L735.5 179.9 L736.6 176.4 L737.8 173.1 L739.0 170.0 L740.3 167.2 L741.5 164.6 L742.8 162.2 L744.1 160.1 L745.5 158.1 L746.9 156.2 L748.4 154.6 L750.0 153.0 L751.6 151.6 L753.3 150.3 L755.1 149.1 L756.9 148.1 L758.8 147.3 L760.7 146.7 L762.8 146.2 L765.0 146.0 L767.4 145.9 L769.9 146.0 L772.6 146.2 L775.4 146.7 L778.2 147.4 L780.9 148.3 L783.5 149.5 L786.0 151.0 L788.3 152.9 L790.5 155.2 L792.7 157.8 L794.8 160.7 L796.8 163.7 L798.8 166.8 L800.9 169.9 L803.0 173.0 L805.1 176.0 L807.2 179.0 L809.4 182.1 L811.5 185.2 L813.6 188.5 L815.8 191.8 L817.9 195.3 L820.0 199.0 L822.1 202.7 L824.2 206.4 L826.3 210.2 L828.4 214.1 L830.6 218.2 L832.7 222.7 L834.8 227.6 L837.0 233.0 L839.2 239.1 L841.5 245.8 L843.9 253.0 L846.2 260.5 L848.6 268.1 L850.8 275.7 L853.0 283.1 L855.0 290.0 L857.0 296.9 L858.9 304.2 L860.8 311.5 L862.6 318.6 L864.3 325.2 L865.8 331.2 L867.0 336.2 L868.0 340.0" fill="none" stroke="#0000ff" stroke-width="6.2" stroke-linejoin="round"/>
<path d="M559.5 593.0 L560.0 590.4 L560.6 587.0 L561.4 582.9 L562.2 578.4 L563.2 573.6 L564.1 568.8 L565.1 564.2 L566.0 560.0 L567.0 555.9 L568.1 551.6 L569.2 547.2 L570.4 542.9 L571.5 538.9 L572.5 535.3 L573.4 532.3 L574.0 530.0" fill="none" stroke="#0000ff" stroke-width="6.2" stroke-linejoin="round"/>
<polygon points="644.60,571.80 648.06,582.44 659.25,582.44 650.19,589.02 653.65,599.66 644.60,593.08 635.55,599.66 639.01,589.02 629.95,582.44 641.14,582.44" fill="#ff0000"/>
<path d="M252.5 635.7V629.0M252.5 48.3V55.0M385.0 635.7V629.0M385.0 48.3V55.0M516.9 635.7V629.0M516.9 48.3V55.0M646.2 635.7V629.0M646.2 48.3V55.0M774.5 635.7V629.0M774.5 48.3V55.0M114.0 111.6H120.7M911.5 111.6H904.8M114.0 178.1H120.7M911.5 178.1H904.8M114.0 243.6H120.7M911.5 243.6H904.8M114.0 309.4H120.7M911.5 309.4H904.8M114.0 375.3H120.7M911.5 375.3H904.8M114.0 440.7H120.7M911.5 440.7H904.8M114.0 505.7H120.7M911.5 505.7H904.8M114.0 570.8H120.7M911.5 570.8H904.8" stroke="#262626" stroke-width="1.4" fill="none"/>
<rect x="114.0" y="48.3" width="797.5" height="587.4000000000001" stroke="#262626" stroke-width="1.4" fill="none"/>
<g font-family="'Liberation Sans', sans-serif" font-size="28.6" fill="#000">
<text transform="translate(114.0,671.5) scale(0.933,1)" text-anchor="middle">-0.8</text>
<text transform="translate(252.5,671.5) scale(0.933,1)" text-anchor="middle">-0.6</text>
<text transform="translate(385.0,671.5) scale(0.933,1)" text-anchor="middle">-0.4</text>
<text transform="translate(516.9,671.5) scale(0.933,1)" text-anchor="middle">-0.2</text>
<text transform="translate(646.2,671.5) scale(0.933,1)" text-anchor="middle">0</text>
<text transform="translate(774.5,671.5) scale(0.933,1)" text-anchor="middle">0.2</text>
<text transform="translate(911.5,671.5) scale(0.933,1)" text-anchor="middle">0.4</text>
<text transform="translate(101.2,59.3) scale(0.933,1)" text-anchor="end">0.45</text>
<text transform="translate(101.2,122.6) scale(0.933,1)" text-anchor="end">0.4</text>
<text transform="translate(101.2,189.1) scale(0.933,1)" text-anchor="end">0.35</text>
<text transform="translate(101.2,254.6) scale(0.933,1)" text-anchor="end">0.3</text>
<text transform="translate(101.2,320.4) scale(0.933,1)" text-anchor="end">0.25</text>
<text transform="translate(101.2,386.3) scale(0.933,1)" text-anchor="end">0.2</text>
<text transform="translate(101.2,451.7) scale(0.933,1)" text-anchor="end">0.05</text>
<text transform="translate(101.2,516.7) scale(0.933,1)" text-anchor="end">0.1</text>
<text transform="translate(101.2,581.8) scale(0.933,1)" text-anchor="end">-0.05</text>
<text transform="translate(101.2,646.7) scale(0.933,1)" text-anchor="end">0</text>
</g>
<g font-family="'Liberation Serif', serif" fill="#000">
<text x="282" y="26.8" font-size="31.8" textLength="462.5" lengthAdjust="spacingAndGlyphs">Throwing Coordinates over time</text>
<text x="383.5" y="700.6" font-size="31.8" textLength="259.5" lengthAdjust="spacingAndGlyphs">X Coordinates [m]</text>
<text transform="translate(24.7,475.3) rotate(-90)" x="0" y="0" font-size="31.8" textLength="256" lengthAdjust="spacingAndGlyphs">Y Coordinates [m]</text>
</g>
</svg>
</body></html>
